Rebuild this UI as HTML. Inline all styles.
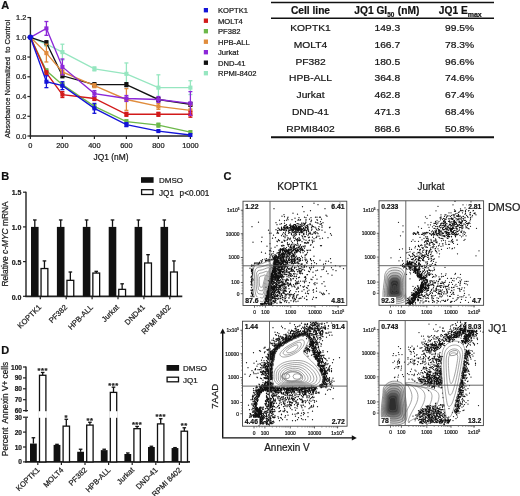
<!DOCTYPE html>
<html><head><meta charset="utf-8"><style>
html,body{margin:0;padding:0;background:#fff;width:520px;height:496px;overflow:hidden}
svg{display:block;filter:blur(0.35px)}
text{font-family:"Liberation Sans", sans-serif;stroke:#1a1a1a;stroke-width:0.22px}
</style></head><body>
<svg width="520" height="496" viewBox="0 0 520 496" font-family='"Liberation Sans", sans-serif'>
<text x="1.2" y="9.3" font-size="11" text-anchor="start" font-weight="bold" fill="#111" >A</text>
<line x1="30.4" y1="17.06" x2="30.4" y2="136.7" stroke="#222" stroke-width="1.4" />
<line x1="29.7" y1="136" x2="190.9" y2="136" stroke="#222" stroke-width="1.4" />
<line x1="27.4" y1="136" x2="30.4" y2="136" stroke="#222" stroke-width="1.2" />
<text x="26.4" y="138.6" font-size="7.4" text-anchor="end" font-weight="normal" fill="#1a1a1a" >0.0</text>
<line x1="27.4" y1="116.26" x2="30.4" y2="116.26" stroke="#222" stroke-width="1.2" />
<text x="26.4" y="118.86" font-size="7.4" text-anchor="end" font-weight="normal" fill="#1a1a1a" >0.2</text>
<line x1="27.4" y1="96.52" x2="30.4" y2="96.52" stroke="#222" stroke-width="1.2" />
<text x="26.4" y="99.12" font-size="7.4" text-anchor="end" font-weight="normal" fill="#1a1a1a" >0.4</text>
<line x1="27.4" y1="76.78" x2="30.4" y2="76.78" stroke="#222" stroke-width="1.2" />
<text x="26.4" y="79.38" font-size="7.4" text-anchor="end" font-weight="normal" fill="#1a1a1a" >0.6</text>
<line x1="27.4" y1="57.04" x2="30.4" y2="57.04" stroke="#222" stroke-width="1.2" />
<text x="26.4" y="59.64" font-size="7.4" text-anchor="end" font-weight="normal" fill="#1a1a1a" >0.8</text>
<line x1="27.4" y1="37.3" x2="30.4" y2="37.3" stroke="#222" stroke-width="1.2" />
<text x="26.4" y="39.9" font-size="7.4" text-anchor="end" font-weight="normal" fill="#1a1a1a" >1.0</text>
<line x1="27.4" y1="17.56" x2="30.4" y2="17.56" stroke="#222" stroke-width="1.2" />
<text x="26.4" y="20.16" font-size="7.4" text-anchor="end" font-weight="normal" fill="#1a1a1a" >1.2</text>
<line x1="30.4" y1="136" x2="30.4" y2="139" stroke="#222" stroke-width="1.2" />
<text x="30.4" y="148" font-size="7.4" text-anchor="middle" font-weight="normal" fill="#1a1a1a" >0</text>
<line x1="62.4" y1="136" x2="62.4" y2="139" stroke="#222" stroke-width="1.2" />
<text x="62.4" y="148" font-size="7.4" text-anchor="middle" font-weight="normal" fill="#1a1a1a" >200</text>
<line x1="94.4" y1="136" x2="94.4" y2="139" stroke="#222" stroke-width="1.2" />
<text x="94.4" y="148" font-size="7.4" text-anchor="middle" font-weight="normal" fill="#1a1a1a" >400</text>
<line x1="126.4" y1="136" x2="126.4" y2="139" stroke="#222" stroke-width="1.2" />
<text x="126.4" y="148" font-size="7.4" text-anchor="middle" font-weight="normal" fill="#1a1a1a" >600</text>
<line x1="158.4" y1="136" x2="158.4" y2="139" stroke="#222" stroke-width="1.2" />
<text x="158.4" y="148" font-size="7.4" text-anchor="middle" font-weight="normal" fill="#1a1a1a" >800</text>
<line x1="190.4" y1="136" x2="190.4" y2="139" stroke="#222" stroke-width="1.2" />
<text x="190.4" y="148" font-size="7.4" text-anchor="middle" font-weight="normal" fill="#1a1a1a" >1000</text>
<text x="111" y="159.6" font-size="8.4" text-anchor="middle" font-weight="normal" fill="#1a1a1a" >JQ1 (nM)</text>
<text transform="translate(10,79) rotate(-90)" font-size="7.6" text-anchor="middle" fill="#1a1a1a" xml:space="preserve">Absorbance Normalized  to Control</text>
<polyline points="30.4,37.3 46.4,44.21 62.4,52.11 94.4,68.88 126.4,73.82 158.4,87.64 190.4,87.64" fill="none" stroke="#96e6c0" stroke-width="1.35"/>
<line x1="46.4" y1="46.18" x2="46.4" y2="42.23" stroke="#96e6c0" stroke-width="1.3" />
<line x1="44.4" y1="42.23" x2="48.4" y2="42.23" stroke="#96e6c0" stroke-width="1.3" />
<line x1="44.4" y1="46.18" x2="48.4" y2="46.18" stroke="#96e6c0" stroke-width="1.3" />
<rect x="44.35" y="42.16" width="4.1" height="4.1" fill="#96e6c0" stroke="none" stroke-width="0" />
<line x1="62.4" y1="60" x2="62.4" y2="44.21" stroke="#96e6c0" stroke-width="1.3" />
<line x1="60.4" y1="44.21" x2="64.4" y2="44.21" stroke="#96e6c0" stroke-width="1.3" />
<line x1="60.4" y1="60" x2="64.4" y2="60" stroke="#96e6c0" stroke-width="1.3" />
<rect x="60.35" y="50.06" width="4.1" height="4.1" fill="#96e6c0" stroke="none" stroke-width="0" />
<line x1="94.4" y1="70.86" x2="94.4" y2="66.91" stroke="#96e6c0" stroke-width="1.3" />
<line x1="92.4" y1="66.91" x2="96.4" y2="66.91" stroke="#96e6c0" stroke-width="1.3" />
<line x1="92.4" y1="70.86" x2="96.4" y2="70.86" stroke="#96e6c0" stroke-width="1.3" />
<rect x="92.35" y="66.83" width="4.1" height="4.1" fill="#96e6c0" stroke="none" stroke-width="0" />
<line x1="126.4" y1="84.68" x2="126.4" y2="62.96" stroke="#96e6c0" stroke-width="1.3" />
<line x1="124.4" y1="62.96" x2="128.4" y2="62.96" stroke="#96e6c0" stroke-width="1.3" />
<line x1="124.4" y1="84.68" x2="128.4" y2="84.68" stroke="#96e6c0" stroke-width="1.3" />
<rect x="124.35" y="71.77" width="4.1" height="4.1" fill="#96e6c0" stroke="none" stroke-width="0" />
<line x1="158.4" y1="100.47" x2="158.4" y2="74.81" stroke="#96e6c0" stroke-width="1.3" />
<line x1="156.4" y1="74.81" x2="160.4" y2="74.81" stroke="#96e6c0" stroke-width="1.3" />
<line x1="156.4" y1="100.47" x2="160.4" y2="100.47" stroke="#96e6c0" stroke-width="1.3" />
<rect x="156.35" y="85.59" width="4.1" height="4.1" fill="#96e6c0" stroke="none" stroke-width="0" />
<line x1="190.4" y1="94.55" x2="190.4" y2="80.73" stroke="#96e6c0" stroke-width="1.3" />
<line x1="188.4" y1="80.73" x2="192.4" y2="80.73" stroke="#96e6c0" stroke-width="1.3" />
<line x1="188.4" y1="94.55" x2="192.4" y2="94.55" stroke="#96e6c0" stroke-width="1.3" />
<rect x="188.35" y="85.59" width="4.1" height="4.1" fill="#96e6c0" stroke="none" stroke-width="0" />
<polyline points="30.4,37.3 46.4,42.73 62.4,75.79 94.4,84.68 126.4,84.68 158.4,99.48 190.4,104.42" fill="none" stroke="#111111" stroke-width="1.35"/>
<line x1="46.4" y1="44.7" x2="46.4" y2="40.75" stroke="#111111" stroke-width="1.3" />
<line x1="44.4" y1="40.75" x2="48.4" y2="40.75" stroke="#111111" stroke-width="1.3" />
<line x1="44.4" y1="44.7" x2="48.4" y2="44.7" stroke="#111111" stroke-width="1.3" />
<rect x="44.35" y="40.68" width="4.1" height="4.1" fill="#111111" stroke="none" stroke-width="0" />
<line x1="62.4" y1="77.77" x2="62.4" y2="73.82" stroke="#111111" stroke-width="1.3" />
<line x1="60.4" y1="73.82" x2="64.4" y2="73.82" stroke="#111111" stroke-width="1.3" />
<line x1="60.4" y1="77.77" x2="64.4" y2="77.77" stroke="#111111" stroke-width="1.3" />
<rect x="60.35" y="73.74" width="4.1" height="4.1" fill="#111111" stroke="none" stroke-width="0" />
<line x1="94.4" y1="86.65" x2="94.4" y2="82.7" stroke="#111111" stroke-width="1.3" />
<line x1="92.4" y1="82.7" x2="96.4" y2="82.7" stroke="#111111" stroke-width="1.3" />
<line x1="92.4" y1="86.65" x2="96.4" y2="86.65" stroke="#111111" stroke-width="1.3" />
<rect x="92.35" y="82.63" width="4.1" height="4.1" fill="#111111" stroke="none" stroke-width="0" />
<line x1="126.4" y1="86.65" x2="126.4" y2="82.7" stroke="#111111" stroke-width="1.3" />
<line x1="124.4" y1="82.7" x2="128.4" y2="82.7" stroke="#111111" stroke-width="1.3" />
<line x1="124.4" y1="86.65" x2="128.4" y2="86.65" stroke="#111111" stroke-width="1.3" />
<rect x="124.35" y="82.63" width="4.1" height="4.1" fill="#111111" stroke="none" stroke-width="0" />
<line x1="158.4" y1="101.45" x2="158.4" y2="97.51" stroke="#111111" stroke-width="1.3" />
<line x1="156.4" y1="97.51" x2="160.4" y2="97.51" stroke="#111111" stroke-width="1.3" />
<line x1="156.4" y1="101.45" x2="160.4" y2="101.45" stroke="#111111" stroke-width="1.3" />
<rect x="156.35" y="97.43" width="4.1" height="4.1" fill="#111111" stroke="none" stroke-width="0" />
<line x1="190.4" y1="106.39" x2="190.4" y2="102.44" stroke="#111111" stroke-width="1.3" />
<line x1="188.4" y1="102.44" x2="192.4" y2="102.44" stroke="#111111" stroke-width="1.3" />
<line x1="188.4" y1="106.39" x2="192.4" y2="106.39" stroke="#111111" stroke-width="1.3" />
<rect x="188.35" y="102.37" width="4.1" height="4.1" fill="#111111" stroke="none" stroke-width="0" />
<polyline points="30.4,37.3 46.4,53.09 62.4,71.84 94.4,85.66 126.4,99.48 158.4,106.39 190.4,110.34" fill="none" stroke="#e08c3c" stroke-width="1.35"/>
<line x1="46.4" y1="61.97" x2="46.4" y2="44.21" stroke="#e08c3c" stroke-width="1.3" />
<line x1="44.4" y1="44.21" x2="48.4" y2="44.21" stroke="#e08c3c" stroke-width="1.3" />
<line x1="44.4" y1="61.97" x2="48.4" y2="61.97" stroke="#e08c3c" stroke-width="1.3" />
<rect x="44.35" y="51.04" width="4.1" height="4.1" fill="#e08c3c" stroke="none" stroke-width="0" />
<line x1="62.4" y1="74.81" x2="62.4" y2="68.88" stroke="#e08c3c" stroke-width="1.3" />
<line x1="60.4" y1="68.88" x2="64.4" y2="68.88" stroke="#e08c3c" stroke-width="1.3" />
<line x1="60.4" y1="74.81" x2="64.4" y2="74.81" stroke="#e08c3c" stroke-width="1.3" />
<rect x="60.35" y="69.8" width="4.1" height="4.1" fill="#e08c3c" stroke="none" stroke-width="0" />
<line x1="94.4" y1="87.64" x2="94.4" y2="83.69" stroke="#e08c3c" stroke-width="1.3" />
<line x1="92.4" y1="83.69" x2="96.4" y2="83.69" stroke="#e08c3c" stroke-width="1.3" />
<line x1="92.4" y1="87.64" x2="96.4" y2="87.64" stroke="#e08c3c" stroke-width="1.3" />
<rect x="92.35" y="83.61" width="4.1" height="4.1" fill="#e08c3c" stroke="none" stroke-width="0" />
<line x1="126.4" y1="110.34" x2="126.4" y2="88.62" stroke="#e08c3c" stroke-width="1.3" />
<line x1="124.4" y1="88.62" x2="128.4" y2="88.62" stroke="#e08c3c" stroke-width="1.3" />
<line x1="124.4" y1="110.34" x2="128.4" y2="110.34" stroke="#e08c3c" stroke-width="1.3" />
<rect x="124.35" y="97.43" width="4.1" height="4.1" fill="#e08c3c" stroke="none" stroke-width="0" />
<line x1="158.4" y1="109.35" x2="158.4" y2="103.43" stroke="#e08c3c" stroke-width="1.3" />
<line x1="156.4" y1="103.43" x2="160.4" y2="103.43" stroke="#e08c3c" stroke-width="1.3" />
<line x1="156.4" y1="109.35" x2="160.4" y2="109.35" stroke="#e08c3c" stroke-width="1.3" />
<rect x="156.35" y="104.34" width="4.1" height="4.1" fill="#e08c3c" stroke="none" stroke-width="0" />
<line x1="190.4" y1="115.27" x2="190.4" y2="105.4" stroke="#e08c3c" stroke-width="1.3" />
<line x1="188.4" y1="105.4" x2="192.4" y2="105.4" stroke="#e08c3c" stroke-width="1.3" />
<line x1="188.4" y1="115.27" x2="192.4" y2="115.27" stroke="#e08c3c" stroke-width="1.3" />
<rect x="188.35" y="108.29" width="4.1" height="4.1" fill="#e08c3c" stroke="none" stroke-width="0" />
<polyline points="30.4,37.3 46.4,70.86 62.4,84.68 94.4,106.39 126.4,121.69 158.4,125.14 190.4,132.05" fill="none" stroke="#6cb84a" stroke-width="1.35"/>
<line x1="46.4" y1="72.83" x2="46.4" y2="68.88" stroke="#6cb84a" stroke-width="1.3" />
<line x1="44.4" y1="68.88" x2="48.4" y2="68.88" stroke="#6cb84a" stroke-width="1.3" />
<line x1="44.4" y1="72.83" x2="48.4" y2="72.83" stroke="#6cb84a" stroke-width="1.3" />
<rect x="44.35" y="68.81" width="4.1" height="4.1" fill="#6cb84a" stroke="none" stroke-width="0" />
<line x1="62.4" y1="86.65" x2="62.4" y2="82.7" stroke="#6cb84a" stroke-width="1.3" />
<line x1="60.4" y1="82.7" x2="64.4" y2="82.7" stroke="#6cb84a" stroke-width="1.3" />
<line x1="60.4" y1="86.65" x2="64.4" y2="86.65" stroke="#6cb84a" stroke-width="1.3" />
<rect x="60.35" y="82.63" width="4.1" height="4.1" fill="#6cb84a" stroke="none" stroke-width="0" />
<line x1="94.4" y1="108.36" x2="94.4" y2="104.42" stroke="#6cb84a" stroke-width="1.3" />
<line x1="92.4" y1="104.42" x2="96.4" y2="104.42" stroke="#6cb84a" stroke-width="1.3" />
<line x1="92.4" y1="108.36" x2="96.4" y2="108.36" stroke="#6cb84a" stroke-width="1.3" />
<rect x="92.35" y="104.34" width="4.1" height="4.1" fill="#6cb84a" stroke="none" stroke-width="0" />
<line x1="126.4" y1="123.66" x2="126.4" y2="119.71" stroke="#6cb84a" stroke-width="1.3" />
<line x1="124.4" y1="119.71" x2="128.4" y2="119.71" stroke="#6cb84a" stroke-width="1.3" />
<line x1="124.4" y1="123.66" x2="128.4" y2="123.66" stroke="#6cb84a" stroke-width="1.3" />
<rect x="124.35" y="119.64" width="4.1" height="4.1" fill="#6cb84a" stroke="none" stroke-width="0" />
<line x1="158.4" y1="127.12" x2="158.4" y2="123.17" stroke="#6cb84a" stroke-width="1.3" />
<line x1="156.4" y1="123.17" x2="160.4" y2="123.17" stroke="#6cb84a" stroke-width="1.3" />
<line x1="156.4" y1="127.12" x2="160.4" y2="127.12" stroke="#6cb84a" stroke-width="1.3" />
<rect x="156.35" y="123.09" width="4.1" height="4.1" fill="#6cb84a" stroke="none" stroke-width="0" />
<rect x="188.35" y="130" width="4.1" height="4.1" fill="#6cb84a" stroke="none" stroke-width="0" />
<polyline points="30.4,37.3 46.4,72.83 62.4,94.55 94.4,98.49 126.4,114.29 158.4,114.29 190.4,114.29" fill="none" stroke="#d21a1a" stroke-width="1.35"/>
<line x1="46.4" y1="74.81" x2="46.4" y2="70.86" stroke="#d21a1a" stroke-width="1.3" />
<line x1="44.4" y1="70.86" x2="48.4" y2="70.86" stroke="#d21a1a" stroke-width="1.3" />
<line x1="44.4" y1="74.81" x2="48.4" y2="74.81" stroke="#d21a1a" stroke-width="1.3" />
<rect x="44.35" y="70.78" width="4.1" height="4.1" fill="#d21a1a" stroke="none" stroke-width="0" />
<line x1="62.4" y1="97.51" x2="62.4" y2="91.59" stroke="#d21a1a" stroke-width="1.3" />
<line x1="60.4" y1="91.59" x2="64.4" y2="91.59" stroke="#d21a1a" stroke-width="1.3" />
<line x1="60.4" y1="97.51" x2="64.4" y2="97.51" stroke="#d21a1a" stroke-width="1.3" />
<rect x="60.35" y="92.5" width="4.1" height="4.1" fill="#d21a1a" stroke="none" stroke-width="0" />
<line x1="94.4" y1="100.47" x2="94.4" y2="96.52" stroke="#d21a1a" stroke-width="1.3" />
<line x1="92.4" y1="96.52" x2="96.4" y2="96.52" stroke="#d21a1a" stroke-width="1.3" />
<line x1="92.4" y1="100.47" x2="96.4" y2="100.47" stroke="#d21a1a" stroke-width="1.3" />
<rect x="92.35" y="96.44" width="4.1" height="4.1" fill="#d21a1a" stroke="none" stroke-width="0" />
<line x1="126.4" y1="116.26" x2="126.4" y2="112.31" stroke="#d21a1a" stroke-width="1.3" />
<line x1="124.4" y1="112.31" x2="128.4" y2="112.31" stroke="#d21a1a" stroke-width="1.3" />
<line x1="124.4" y1="116.26" x2="128.4" y2="116.26" stroke="#d21a1a" stroke-width="1.3" />
<rect x="124.35" y="112.24" width="4.1" height="4.1" fill="#d21a1a" stroke="none" stroke-width="0" />
<line x1="158.4" y1="116.26" x2="158.4" y2="112.31" stroke="#d21a1a" stroke-width="1.3" />
<line x1="156.4" y1="112.31" x2="160.4" y2="112.31" stroke="#d21a1a" stroke-width="1.3" />
<line x1="156.4" y1="116.26" x2="160.4" y2="116.26" stroke="#d21a1a" stroke-width="1.3" />
<rect x="156.35" y="112.24" width="4.1" height="4.1" fill="#d21a1a" stroke="none" stroke-width="0" />
<line x1="190.4" y1="117.25" x2="190.4" y2="111.33" stroke="#d21a1a" stroke-width="1.3" />
<line x1="188.4" y1="111.33" x2="192.4" y2="111.33" stroke="#d21a1a" stroke-width="1.3" />
<line x1="188.4" y1="117.25" x2="192.4" y2="117.25" stroke="#d21a1a" stroke-width="1.3" />
<rect x="188.35" y="112.24" width="4.1" height="4.1" fill="#d21a1a" stroke="none" stroke-width="0" />
<polyline points="30.4,37.3 46.4,28.42 62.4,66.91 94.4,93.56 126.4,98.49 158.4,99.48 190.4,103.43" fill="none" stroke="#8c28d8" stroke-width="1.35"/>
<line x1="46.4" y1="35.33" x2="46.4" y2="21.51" stroke="#8c28d8" stroke-width="1.3" />
<line x1="44.4" y1="21.51" x2="48.4" y2="21.51" stroke="#8c28d8" stroke-width="1.3" />
<line x1="44.4" y1="35.33" x2="48.4" y2="35.33" stroke="#8c28d8" stroke-width="1.3" />
<rect x="44.35" y="26.37" width="4.1" height="4.1" fill="#8c28d8" stroke="none" stroke-width="0" />
<line x1="62.4" y1="74.81" x2="62.4" y2="59.01" stroke="#8c28d8" stroke-width="1.3" />
<line x1="60.4" y1="59.01" x2="64.4" y2="59.01" stroke="#8c28d8" stroke-width="1.3" />
<line x1="60.4" y1="74.81" x2="64.4" y2="74.81" stroke="#8c28d8" stroke-width="1.3" />
<rect x="60.35" y="64.86" width="4.1" height="4.1" fill="#8c28d8" stroke="none" stroke-width="0" />
<line x1="94.4" y1="96.52" x2="94.4" y2="90.6" stroke="#8c28d8" stroke-width="1.3" />
<line x1="92.4" y1="90.6" x2="96.4" y2="90.6" stroke="#8c28d8" stroke-width="1.3" />
<line x1="92.4" y1="96.52" x2="96.4" y2="96.52" stroke="#8c28d8" stroke-width="1.3" />
<rect x="92.35" y="91.51" width="4.1" height="4.1" fill="#8c28d8" stroke="none" stroke-width="0" />
<line x1="126.4" y1="101.45" x2="126.4" y2="95.53" stroke="#8c28d8" stroke-width="1.3" />
<line x1="124.4" y1="95.53" x2="128.4" y2="95.53" stroke="#8c28d8" stroke-width="1.3" />
<line x1="124.4" y1="101.45" x2="128.4" y2="101.45" stroke="#8c28d8" stroke-width="1.3" />
<rect x="124.35" y="96.44" width="4.1" height="4.1" fill="#8c28d8" stroke="none" stroke-width="0" />
<line x1="158.4" y1="102.44" x2="158.4" y2="96.52" stroke="#8c28d8" stroke-width="1.3" />
<line x1="156.4" y1="96.52" x2="160.4" y2="96.52" stroke="#8c28d8" stroke-width="1.3" />
<line x1="156.4" y1="102.44" x2="160.4" y2="102.44" stroke="#8c28d8" stroke-width="1.3" />
<rect x="156.35" y="97.43" width="4.1" height="4.1" fill="#8c28d8" stroke="none" stroke-width="0" />
<line x1="190.4" y1="115.27" x2="190.4" y2="91.59" stroke="#8c28d8" stroke-width="1.3" />
<line x1="188.4" y1="91.59" x2="192.4" y2="91.59" stroke="#8c28d8" stroke-width="1.3" />
<line x1="188.4" y1="115.27" x2="192.4" y2="115.27" stroke="#8c28d8" stroke-width="1.3" />
<rect x="188.35" y="101.38" width="4.1" height="4.1" fill="#8c28d8" stroke="none" stroke-width="0" />
<polyline points="30.4,37.3 46.4,81.72 62.4,85.66 94.4,108.36 126.4,124.65 158.4,131.06 190.4,135.01" fill="none" stroke="#1414d8" stroke-width="1.35"/>
<line x1="46.4" y1="87.64" x2="46.4" y2="75.79" stroke="#1414d8" stroke-width="1.3" />
<line x1="44.4" y1="75.79" x2="48.4" y2="75.79" stroke="#1414d8" stroke-width="1.3" />
<line x1="44.4" y1="87.64" x2="48.4" y2="87.64" stroke="#1414d8" stroke-width="1.3" />
<rect x="44.35" y="79.67" width="4.1" height="4.1" fill="#1414d8" stroke="none" stroke-width="0" />
<line x1="62.4" y1="89.61" x2="62.4" y2="81.72" stroke="#1414d8" stroke-width="1.3" />
<line x1="60.4" y1="81.72" x2="64.4" y2="81.72" stroke="#1414d8" stroke-width="1.3" />
<line x1="60.4" y1="89.61" x2="64.4" y2="89.61" stroke="#1414d8" stroke-width="1.3" />
<rect x="60.35" y="83.61" width="4.1" height="4.1" fill="#1414d8" stroke="none" stroke-width="0" />
<line x1="94.4" y1="113.3" x2="94.4" y2="103.43" stroke="#1414d8" stroke-width="1.3" />
<line x1="92.4" y1="103.43" x2="96.4" y2="103.43" stroke="#1414d8" stroke-width="1.3" />
<line x1="92.4" y1="113.3" x2="96.4" y2="113.3" stroke="#1414d8" stroke-width="1.3" />
<rect x="92.35" y="106.31" width="4.1" height="4.1" fill="#1414d8" stroke="none" stroke-width="0" />
<line x1="126.4" y1="126.62" x2="126.4" y2="122.68" stroke="#1414d8" stroke-width="1.3" />
<line x1="124.4" y1="122.68" x2="128.4" y2="122.68" stroke="#1414d8" stroke-width="1.3" />
<line x1="124.4" y1="126.62" x2="128.4" y2="126.62" stroke="#1414d8" stroke-width="1.3" />
<rect x="124.35" y="122.6" width="4.1" height="4.1" fill="#1414d8" stroke="none" stroke-width="0" />
<rect x="156.35" y="129.01" width="4.1" height="4.1" fill="#1414d8" stroke="none" stroke-width="0" />
<rect x="188.35" y="132.96" width="4.1" height="4.1" fill="#1414d8" stroke="none" stroke-width="0" />
<circle cx="30.4" cy="37.3" r="2.8" fill="#1414d8"/>
<rect x="203.8" y="8" width="4.2" height="4.4" fill="#1414d8" stroke="none" stroke-width="0" />
<text x="218" y="13" font-size="7.6" text-anchor="start" font-weight="normal" fill="#1a1a1a" >KOPTK1</text>
<rect x="203.8" y="18.5" width="4.2" height="4.4" fill="#d21a1a" stroke="none" stroke-width="0" />
<text x="218" y="23.5" font-size="7.6" text-anchor="start" font-weight="normal" fill="#1a1a1a" >MOLT4</text>
<rect x="203.8" y="29" width="4.2" height="4.4" fill="#6cb84a" stroke="none" stroke-width="0" />
<text x="218" y="34" font-size="7.6" text-anchor="start" font-weight="normal" fill="#1a1a1a" >PF382</text>
<rect x="203.8" y="39.5" width="4.2" height="4.4" fill="#e08c3c" stroke="none" stroke-width="0" />
<text x="218" y="44.5" font-size="7.6" text-anchor="start" font-weight="normal" fill="#1a1a1a" >HPB-ALL</text>
<rect x="203.8" y="50" width="4.2" height="4.4" fill="#8c28d8" stroke="none" stroke-width="0" />
<text x="218" y="55" font-size="7.6" text-anchor="start" font-weight="normal" fill="#1a1a1a" >Jurkat</text>
<rect x="203.8" y="60.5" width="4.2" height="4.4" fill="#111111" stroke="none" stroke-width="0" />
<text x="218" y="65.5" font-size="7.6" text-anchor="start" font-weight="normal" fill="#1a1a1a" >DND-41</text>
<rect x="203.8" y="71" width="4.2" height="4.4" fill="#96e6c0" stroke="none" stroke-width="0" />
<text x="218" y="76" font-size="7.6" text-anchor="start" font-weight="normal" fill="#1a1a1a" >RPMI-8402</text>
<line x1="271" y1="2.6" x2="494" y2="2.6" stroke="#111" stroke-width="1.5" />
<line x1="271" y1="18.2" x2="494" y2="18.2" stroke="#111" stroke-width="1.5" />
<line x1="271" y1="137.2" x2="494" y2="137.2" stroke="#111" stroke-width="2" />
<text x="310.5" y="14.3" font-size="10.2" text-anchor="middle" font-weight="bold" fill="#111" >Cell line</text>
<text x="354.3" y="14.3" font-size="10.2" font-weight="bold" fill="#111">JQ1 GI<tspan font-size="6.4" dy="2.2">50</tspan><tspan dy="-2.2" dx="3.6">(nM)</tspan></text>
<text x="438.8" y="14.3" font-size="10.2" font-weight="bold" fill="#111">JQ1 E<tspan font-size="7" dy="2.4">max</tspan></text>
<text transform="translate(310.5,30.6) scale(1.06,1)" font-size="9.7" text-anchor="middle" font-weight="normal" fill="#111" >KOPTK1</text>
<text transform="translate(387.3,30.6) scale(1.06,1)" font-size="9.7" text-anchor="middle" font-weight="normal" fill="#111" >149.3</text>
<text transform="translate(459.6,30.6) scale(1.06,1)" font-size="9.7" text-anchor="middle" font-weight="normal" fill="#111" >99.5%</text>
<text transform="translate(310.5,47.55) scale(1.06,1)" font-size="9.7" text-anchor="middle" font-weight="normal" fill="#111" >MOLT4</text>
<text transform="translate(387.3,47.55) scale(1.06,1)" font-size="9.7" text-anchor="middle" font-weight="normal" fill="#111" >166.7</text>
<text transform="translate(459.6,47.55) scale(1.06,1)" font-size="9.7" text-anchor="middle" font-weight="normal" fill="#111" >78.3%</text>
<text transform="translate(310.5,64.5) scale(1.06,1)" font-size="9.7" text-anchor="middle" font-weight="normal" fill="#111" >PF382</text>
<text transform="translate(387.3,64.5) scale(1.06,1)" font-size="9.7" text-anchor="middle" font-weight="normal" fill="#111" >180.5</text>
<text transform="translate(459.6,64.5) scale(1.06,1)" font-size="9.7" text-anchor="middle" font-weight="normal" fill="#111" >96.6%</text>
<text transform="translate(310.5,81.45) scale(1.06,1)" font-size="9.7" text-anchor="middle" font-weight="normal" fill="#111" >HPB-ALL</text>
<text transform="translate(387.3,81.45) scale(1.06,1)" font-size="9.7" text-anchor="middle" font-weight="normal" fill="#111" >364.8</text>
<text transform="translate(459.6,81.45) scale(1.06,1)" font-size="9.7" text-anchor="middle" font-weight="normal" fill="#111" >74.6%</text>
<text transform="translate(310.5,98.4) scale(1.06,1)" font-size="9.7" text-anchor="middle" font-weight="normal" fill="#111" >Jurkat</text>
<text transform="translate(387.3,98.4) scale(1.06,1)" font-size="9.7" text-anchor="middle" font-weight="normal" fill="#111" >462.8</text>
<text transform="translate(459.6,98.4) scale(1.06,1)" font-size="9.7" text-anchor="middle" font-weight="normal" fill="#111" >67.4%</text>
<text transform="translate(310.5,115.35) scale(1.06,1)" font-size="9.7" text-anchor="middle" font-weight="normal" fill="#111" >DND-41</text>
<text transform="translate(387.3,115.35) scale(1.06,1)" font-size="9.7" text-anchor="middle" font-weight="normal" fill="#111" >471.3</text>
<text transform="translate(459.6,115.35) scale(1.06,1)" font-size="9.7" text-anchor="middle" font-weight="normal" fill="#111" >68.4%</text>
<text transform="translate(310.5,132.3) scale(1.06,1)" font-size="9.7" text-anchor="middle" font-weight="normal" fill="#111" >RPMI8402</text>
<text transform="translate(387.3,132.3) scale(1.06,1)" font-size="9.7" text-anchor="middle" font-weight="normal" fill="#111" >868.6</text>
<text transform="translate(459.6,132.3) scale(1.06,1)" font-size="9.7" text-anchor="middle" font-weight="normal" fill="#111" >50.8%</text>
<text x="1.2" y="180.2" font-size="11" text-anchor="start" font-weight="bold" fill="#111" >B</text>
<line x1="26" y1="191.7" x2="26" y2="297" stroke="#222" stroke-width="1.4" />
<line x1="25.3" y1="296.3" x2="182.3" y2="296.3" stroke="#222" stroke-width="1.8" />
<line x1="23" y1="296.3" x2="26" y2="296.3" stroke="#222" stroke-width="1.2" />
<text x="21.4" y="299.5" font-size="7.0" text-anchor="end" font-weight="bold" fill="#1a1a1a" >0.0</text>
<line x1="23" y1="261.6" x2="26" y2="261.6" stroke="#222" stroke-width="1.2" />
<text x="21.4" y="264.8" font-size="7.0" text-anchor="end" font-weight="bold" fill="#1a1a1a" >0.5</text>
<line x1="23" y1="226.9" x2="26" y2="226.9" stroke="#222" stroke-width="1.2" />
<text x="21.4" y="230.1" font-size="7.0" text-anchor="end" font-weight="bold" fill="#1a1a1a" >1.0</text>
<line x1="23" y1="192.2" x2="26" y2="192.2" stroke="#222" stroke-width="1.2" />
<text x="21.4" y="195.4" font-size="7.0" text-anchor="end" font-weight="bold" fill="#1a1a1a" >1.5</text>
<text transform="translate(8.3,244) rotate(-90)" font-size="8.4" text-anchor="middle" fill="#1a1a1a">Relative <tspan font-style="italic">c-MYC</tspan> mRNA</text>
<line x1="34.8" y1="219.96" x2="34.8" y2="226.9" stroke="#111" stroke-width="1.3" />
<line x1="33" y1="219.96" x2="36.6" y2="219.96" stroke="#111" stroke-width="1.3" />
<rect x="31" y="226.9" width="7.6" height="69.4" fill="#111" stroke="none" stroke-width="0" />
<line x1="44.45" y1="260.91" x2="44.45" y2="268.54" stroke="#111" stroke-width="1.3" />
<line x1="42.65" y1="260.91" x2="46.25" y2="260.91" stroke="#111" stroke-width="1.3" />
<rect x="41.05" y="268.54" width="6.8" height="27.76" fill="#fff" stroke="#111" stroke-width="1.3" />
<line x1="40.3" y1="296.3" x2="40.3" y2="299.3" stroke="#222" stroke-width="1.2" />
<text transform="translate(41.8,307.8) rotate(-45)" font-size="7.6" text-anchor="end" fill="#1a1a1a">KOPTK1</text>
<line x1="60.7" y1="219.96" x2="60.7" y2="226.9" stroke="#111" stroke-width="1.3" />
<line x1="58.9" y1="219.96" x2="62.5" y2="219.96" stroke="#111" stroke-width="1.3" />
<rect x="56.9" y="226.9" width="7.6" height="69.4" fill="#111" stroke="none" stroke-width="0" />
<line x1="70.35" y1="272.01" x2="70.35" y2="280.34" stroke="#111" stroke-width="1.3" />
<line x1="68.55" y1="272.01" x2="72.15" y2="272.01" stroke="#111" stroke-width="1.3" />
<rect x="66.95" y="280.34" width="6.8" height="15.96" fill="#fff" stroke="#111" stroke-width="1.3" />
<line x1="66.2" y1="296.3" x2="66.2" y2="299.3" stroke="#222" stroke-width="1.2" />
<text transform="translate(67.7,307.8) rotate(-45)" font-size="7.6" text-anchor="end" fill="#1a1a1a">PF382</text>
<line x1="86.6" y1="219.96" x2="86.6" y2="226.9" stroke="#111" stroke-width="1.3" />
<line x1="84.8" y1="219.96" x2="88.4" y2="219.96" stroke="#111" stroke-width="1.3" />
<rect x="82.8" y="226.9" width="7.6" height="69.4" fill="#111" stroke="none" stroke-width="0" />
<line x1="96.25" y1="271.32" x2="96.25" y2="273.05" stroke="#111" stroke-width="1.3" />
<line x1="94.45" y1="271.32" x2="98.05" y2="271.32" stroke="#111" stroke-width="1.3" />
<rect x="92.85" y="273.05" width="6.8" height="23.25" fill="#fff" stroke="#111" stroke-width="1.3" />
<line x1="92.1" y1="296.3" x2="92.1" y2="299.3" stroke="#222" stroke-width="1.2" />
<text transform="translate(93.6,307.8) rotate(-45)" font-size="7.6" text-anchor="end" fill="#1a1a1a">HPB-ALL</text>
<line x1="112.5" y1="219.96" x2="112.5" y2="226.9" stroke="#111" stroke-width="1.3" />
<line x1="110.7" y1="219.96" x2="114.3" y2="219.96" stroke="#111" stroke-width="1.3" />
<rect x="108.7" y="226.9" width="7.6" height="69.4" fill="#111" stroke="none" stroke-width="0" />
<line x1="122.15" y1="283.81" x2="122.15" y2="289.36" stroke="#111" stroke-width="1.3" />
<line x1="120.35" y1="283.81" x2="123.95" y2="283.81" stroke="#111" stroke-width="1.3" />
<rect x="118.75" y="289.36" width="6.8" height="6.94" fill="#fff" stroke="#111" stroke-width="1.3" />
<line x1="118" y1="296.3" x2="118" y2="299.3" stroke="#222" stroke-width="1.2" />
<text transform="translate(119.5,307.8) rotate(-45)" font-size="7.6" text-anchor="end" fill="#1a1a1a">Jurkat</text>
<line x1="138.4" y1="219.96" x2="138.4" y2="226.9" stroke="#111" stroke-width="1.3" />
<line x1="136.6" y1="219.96" x2="140.2" y2="219.96" stroke="#111" stroke-width="1.3" />
<rect x="134.6" y="226.9" width="7.6" height="69.4" fill="#111" stroke="none" stroke-width="0" />
<line x1="148.05" y1="254.66" x2="148.05" y2="262.99" stroke="#111" stroke-width="1.3" />
<line x1="146.25" y1="254.66" x2="149.85" y2="254.66" stroke="#111" stroke-width="1.3" />
<rect x="144.65" y="262.99" width="6.8" height="33.31" fill="#fff" stroke="#111" stroke-width="1.3" />
<line x1="143.9" y1="296.3" x2="143.9" y2="299.3" stroke="#222" stroke-width="1.2" />
<text transform="translate(145.4,307.8) rotate(-45)" font-size="7.6" text-anchor="end" fill="#1a1a1a">DND41</text>
<line x1="164.3" y1="219.96" x2="164.3" y2="226.9" stroke="#111" stroke-width="1.3" />
<line x1="162.5" y1="219.96" x2="166.1" y2="219.96" stroke="#111" stroke-width="1.3" />
<rect x="160.5" y="226.9" width="7.6" height="69.4" fill="#111" stroke="none" stroke-width="0" />
<line x1="173.95" y1="260.91" x2="173.95" y2="272.01" stroke="#111" stroke-width="1.3" />
<line x1="172.15" y1="260.91" x2="175.75" y2="260.91" stroke="#111" stroke-width="1.3" />
<rect x="170.55" y="272.01" width="6.8" height="24.29" fill="#fff" stroke="#111" stroke-width="1.3" />
<line x1="169.8" y1="296.3" x2="169.8" y2="299.3" stroke="#222" stroke-width="1.2" />
<text transform="translate(171.3,307.8) rotate(-45)" font-size="7.6" text-anchor="end" fill="#1a1a1a">RPMI 8402</text>
<rect x="141" y="177.2" width="12.6" height="5.6" fill="#111" stroke="none" stroke-width="0" />
<text x="159" y="183.2" font-size="8" text-anchor="start" font-weight="normal" fill="#1a1a1a" >DMSO</text>
<rect x="141.6" y="189.7" width="11.4" height="4.8" fill="#fff" stroke="#111" stroke-width="1.3" />
<text x="159" y="195.6" font-size="8.2" text-anchor="start" font-weight="normal" fill="#1a1a1a" >JQ1</text>
<text x="179.6" y="195.6" font-size="8.2" text-anchor="start" font-weight="normal" fill="#1a1a1a" >p&lt;0.001</text>
<text x="1.2" y="354.4" font-size="11" text-anchor="start" font-weight="bold" fill="#111" >D</text>
<line x1="26" y1="366.5" x2="26" y2="411.8" stroke="#222" stroke-width="1.4" />
<line x1="26" y1="417.4" x2="26" y2="462.6" stroke="#222" stroke-width="1.4" />
<line x1="25.3" y1="461.9" x2="190" y2="461.9" stroke="#222" stroke-width="1.8" />
<line x1="23" y1="367" x2="26" y2="367" stroke="#222" stroke-width="1.2" />
<text x="22" y="369.5" font-size="6.6" text-anchor="end" font-weight="bold" fill="#1a1a1a" >100</text>
<line x1="23" y1="377.9" x2="26" y2="377.9" stroke="#222" stroke-width="1.2" />
<text x="22" y="380.4" font-size="6.6" text-anchor="end" font-weight="bold" fill="#1a1a1a" >90</text>
<line x1="23" y1="388.8" x2="26" y2="388.8" stroke="#222" stroke-width="1.2" />
<text x="22" y="391.3" font-size="6.6" text-anchor="end" font-weight="bold" fill="#1a1a1a" >80</text>
<line x1="23" y1="399.7" x2="26" y2="399.7" stroke="#222" stroke-width="1.2" />
<text x="22" y="402.2" font-size="6.6" text-anchor="end" font-weight="bold" fill="#1a1a1a" >70</text>
<line x1="23" y1="410.6" x2="28" y2="410.6" stroke="#222" stroke-width="1.2" />
<text x="22" y="413.1" font-size="6.6" text-anchor="end" font-weight="bold" fill="#1a1a1a" >60</text>
<line x1="23" y1="417.2" x2="28" y2="417.2" stroke="#222" stroke-width="1.2" />
<text x="22" y="419.7" font-size="6.6" text-anchor="end" font-weight="bold" fill="#1a1a1a" >30</text>
<line x1="23" y1="432.1" x2="26" y2="432.1" stroke="#222" stroke-width="1.2" />
<text x="22" y="434.6" font-size="6.6" text-anchor="end" font-weight="bold" fill="#1a1a1a" >20</text>
<line x1="23" y1="447" x2="26" y2="447" stroke="#222" stroke-width="1.2" />
<text x="22" y="449.5" font-size="6.6" text-anchor="end" font-weight="bold" fill="#1a1a1a" >10</text>
<line x1="23" y1="461.9" x2="26" y2="461.9" stroke="#222" stroke-width="1.2" />
<text x="22" y="464.4" font-size="6.6" text-anchor="end" font-weight="bold" fill="#1a1a1a" >0</text>
<text transform="translate(8,409) rotate(-90)" font-size="8.3" text-anchor="middle" fill="#1a1a1a" xml:space="preserve">Percent  Annexin V+ cells</text>
<line x1="33.4" y1="437.76" x2="33.4" y2="443.57" stroke="#111" stroke-width="1.3" />
<line x1="31.6" y1="437.76" x2="35.2" y2="437.76" stroke="#111" stroke-width="1.3" />
<rect x="30" y="443.57" width="6.8" height="18.33" fill="#111" stroke="none" stroke-width="0" />
<line x1="42.7" y1="372.45" x2="42.7" y2="375.28" stroke="#111" stroke-width="1.3" />
<line x1="40.9" y1="372.45" x2="44.5" y2="372.45" stroke="#111" stroke-width="1.3" />
<rect x="39.5" y="375.28" width="6.4" height="86.62" fill="#fff" stroke="#111" stroke-width="1.3" />
<rect x="38.5" y="411.2" width="8.4" height="6.6" fill="#fff" stroke="none" stroke-width="0" />
<text x="42.7" y="373.05" font-size="7.6" text-anchor="middle" font-weight="bold" fill="#1a1a1a" letter-spacing="0.5">***</text>
<line x1="37.8" y1="461.9" x2="37.8" y2="464.9" stroke="#222" stroke-width="1.2" />
<text transform="translate(40.3,470.4) rotate(-45)" font-size="7.6" text-anchor="end" fill="#1a1a1a">KOPTK1</text>
<line x1="57" y1="444.32" x2="57" y2="444.91" stroke="#111" stroke-width="1.3" />
<line x1="55.2" y1="444.32" x2="58.8" y2="444.32" stroke="#111" stroke-width="1.3" />
<rect x="53.6" y="444.91" width="6.8" height="16.99" fill="#111" stroke="none" stroke-width="0" />
<line x1="66.3" y1="419.29" x2="66.3" y2="426.14" stroke="#111" stroke-width="1.3" />
<line x1="64.5" y1="419.29" x2="68.1" y2="419.29" stroke="#111" stroke-width="1.3" />
<rect x="63.1" y="426.14" width="6.4" height="35.76" fill="#fff" stroke="#111" stroke-width="1.3" />
<text x="66.3" y="419.89" font-size="7.6" text-anchor="middle" font-weight="bold" fill="#1a1a1a" letter-spacing="0.5">*</text>
<line x1="61.4" y1="461.9" x2="61.4" y2="464.9" stroke="#222" stroke-width="1.2" />
<text transform="translate(63.9,470.4) rotate(-45)" font-size="7.6" text-anchor="end" fill="#1a1a1a">MOLT4</text>
<line x1="80.6" y1="449.23" x2="80.6" y2="451.77" stroke="#111" stroke-width="1.3" />
<line x1="78.8" y1="449.23" x2="82.4" y2="449.23" stroke="#111" stroke-width="1.3" />
<rect x="77.2" y="451.77" width="6.8" height="10.13" fill="#111" stroke="none" stroke-width="0" />
<line x1="89.9" y1="422.27" x2="89.9" y2="425.1" stroke="#111" stroke-width="1.3" />
<line x1="88.1" y1="422.27" x2="91.7" y2="422.27" stroke="#111" stroke-width="1.3" />
<rect x="86.7" y="425.1" width="6.4" height="36.8" fill="#fff" stroke="#111" stroke-width="1.3" />
<text x="89.9" y="422.87" font-size="7.6" text-anchor="middle" font-weight="bold" fill="#1a1a1a" letter-spacing="0.5">**</text>
<line x1="85" y1="461.9" x2="85" y2="464.9" stroke="#222" stroke-width="1.2" />
<text transform="translate(87.5,470.4) rotate(-45)" font-size="7.6" text-anchor="end" fill="#1a1a1a">PF382</text>
<line x1="104.2" y1="449.23" x2="104.2" y2="450.13" stroke="#111" stroke-width="1.3" />
<line x1="102.4" y1="449.23" x2="106" y2="449.23" stroke="#111" stroke-width="1.3" />
<rect x="100.8" y="450.13" width="6.8" height="11.77" fill="#111" stroke="none" stroke-width="0" />
<line x1="113.5" y1="387.17" x2="113.5" y2="392.4" stroke="#111" stroke-width="1.3" />
<line x1="111.7" y1="387.17" x2="115.3" y2="387.17" stroke="#111" stroke-width="1.3" />
<rect x="110.3" y="392.4" width="6.4" height="69.5" fill="#fff" stroke="#111" stroke-width="1.3" />
<rect x="109.3" y="411.2" width="8.4" height="6.6" fill="#fff" stroke="none" stroke-width="0" />
<text x="113.5" y="387.77" font-size="7.6" text-anchor="middle" font-weight="bold" fill="#1a1a1a" letter-spacing="0.5">***</text>
<line x1="108.6" y1="461.9" x2="108.6" y2="464.9" stroke="#222" stroke-width="1.2" />
<text transform="translate(111.1,470.4) rotate(-45)" font-size="7.6" text-anchor="end" fill="#1a1a1a">HPB-ALL</text>
<line x1="127.8" y1="452.96" x2="127.8" y2="454" stroke="#111" stroke-width="1.3" />
<line x1="126" y1="452.96" x2="129.6" y2="452.96" stroke="#111" stroke-width="1.3" />
<rect x="124.4" y="454" width="6.8" height="7.9" fill="#111" stroke="none" stroke-width="0" />
<line x1="137.1" y1="426.44" x2="137.1" y2="428.67" stroke="#111" stroke-width="1.3" />
<line x1="135.3" y1="426.44" x2="138.9" y2="426.44" stroke="#111" stroke-width="1.3" />
<rect x="133.9" y="428.67" width="6.4" height="33.23" fill="#fff" stroke="#111" stroke-width="1.3" />
<text x="137.1" y="427.04" font-size="7.6" text-anchor="middle" font-weight="bold" fill="#1a1a1a" letter-spacing="0.5">***</text>
<line x1="132.2" y1="461.9" x2="132.2" y2="464.9" stroke="#222" stroke-width="1.2" />
<text transform="translate(134.7,470.4) rotate(-45)" font-size="7.6" text-anchor="end" fill="#1a1a1a">Jurkat</text>
<line x1="151.4" y1="446.25" x2="151.4" y2="447" stroke="#111" stroke-width="1.3" />
<line x1="149.6" y1="446.25" x2="153.2" y2="446.25" stroke="#111" stroke-width="1.3" />
<rect x="148" y="447" width="6.8" height="14.9" fill="#111" stroke="none" stroke-width="0" />
<line x1="160.7" y1="418.69" x2="160.7" y2="423.9" stroke="#111" stroke-width="1.3" />
<line x1="158.9" y1="418.69" x2="162.5" y2="418.69" stroke="#111" stroke-width="1.3" />
<rect x="157.5" y="423.9" width="6.4" height="38" fill="#fff" stroke="#111" stroke-width="1.3" />
<text x="160.7" y="419.29" font-size="7.6" text-anchor="middle" font-weight="bold" fill="#1a1a1a" letter-spacing="0.5">***</text>
<line x1="155.8" y1="461.9" x2="155.8" y2="464.9" stroke="#222" stroke-width="1.2" />
<text transform="translate(158.3,470.4) rotate(-45)" font-size="7.6" text-anchor="end" fill="#1a1a1a">DND-41</text>
<line x1="175" y1="447.6" x2="175" y2="448.04" stroke="#111" stroke-width="1.3" />
<line x1="173.2" y1="447.6" x2="176.8" y2="447.6" stroke="#111" stroke-width="1.3" />
<rect x="171.6" y="448.04" width="6.8" height="13.86" fill="#111" stroke="none" stroke-width="0" />
<line x1="184.3" y1="427.78" x2="184.3" y2="431.21" stroke="#111" stroke-width="1.3" />
<line x1="182.5" y1="427.78" x2="186.1" y2="427.78" stroke="#111" stroke-width="1.3" />
<rect x="181.1" y="431.21" width="6.4" height="30.69" fill="#fff" stroke="#111" stroke-width="1.3" />
<text x="184.3" y="428.38" font-size="7.6" text-anchor="middle" font-weight="bold" fill="#1a1a1a" letter-spacing="0.5">**</text>
<line x1="179.4" y1="461.9" x2="179.4" y2="464.9" stroke="#222" stroke-width="1.2" />
<text transform="translate(181.9,470.4) rotate(-45)" font-size="7.6" text-anchor="end" fill="#1a1a1a">RPMI 8402</text>
<rect x="166.5" y="365" width="12.6" height="5.8" fill="#111" stroke="none" stroke-width="0" />
<text x="183" y="371" font-size="8" text-anchor="start" font-weight="normal" fill="#1a1a1a" >DMSO</text>
<rect x="167.1" y="377.2" width="11.4" height="4.6" fill="#fff" stroke="#111" stroke-width="1.3" />
<text x="183" y="382.6" font-size="8" text-anchor="start" font-weight="normal" fill="#1a1a1a" >JQ1</text>
<text x="223.5" y="179.7" font-size="11" text-anchor="start" font-weight="bold" fill="#111" >C</text>
<text x="297.5" y="189.6" font-size="10.3" text-anchor="middle" font-weight="normal" fill="#1a1a1a" >KOPTK1</text>
<text x="431" y="189.5" font-size="10" text-anchor="middle" font-weight="normal" fill="#1a1a1a" >Jurkat</text>
<text x="488" y="210.8" font-size="10.8" text-anchor="start" font-weight="normal" fill="#1a1a1a" >DMSO</text>
<text x="488.2" y="331.6" font-size="10.2" text-anchor="start" font-weight="normal" fill="#1a1a1a" >JQ1</text>
<rect x="243" y="201.2" width="103.8" height="104.3" fill="none" stroke="#444" stroke-width="0.9" />
<rect x="379" y="200.8" width="104.6" height="104.5" fill="none" stroke="#444" stroke-width="0.9" />
<rect x="242.5" y="321.2" width="104.6" height="105" fill="none" stroke="#444" stroke-width="0.9" />
<rect x="379" y="320.6" width="104.4" height="105" fill="none" stroke="#444" stroke-width="0.9" />
<path transform="translate(243,201.2)" d="M0 0m71 2h0m26 0h0m-7.5 1h0m-14.5 0.5h0m-15.5 2h0m-28.5 2h0m51 0h0m-14.5 2h0m-6.5 1h0m-11 1.5h0m4.5 1h0m-13.5 0.5h0m23.5 0.5h0m18.5 0h0m-44 1h0m45 0h0m-42.5 0.5h0m3.5 0.5h0m16.5 0h0m11 0h0m1.5 0h0m2.5 0h0m1 0h0m-21.5 0.5h0m7 0h0m5 0h0m-23.5 0.5h0m7.5 0h0m14.5 1h0m12 0h0m-33.5 0.5h0m4 0h0m6.5 0h0m2 0h0m5.5 0h0m11 0h0m-37.5 0.5h0m7 0h0m11.5 0h0m2 0h0m6 0h0m5.5 0h0m6 0h0m-33 0.5h0m26.5 0.5h0m-15.5 0.5h0m15.5 0h0m9.5 0h0m-62 0.5h0m47 0h0m0.5 0h0m9.5 0h0m-39.5 0.5h0m41 0h0m6 0h0m-38.5 0.5h0m17 0h0m0.5 0h0m1.5 0h0m14.5 0h0m-36.5 0.5h0m15.5 0h0m1 0h0m6.5 0h0m1 0h0m4.5 0h0m11.5 0h0m-41.5 0.5h0m10.5 0h0m8.5 0h0m11 0h0m0.5 0h0m9.5 0h0m1 0h0m-44 0.5h0m9.5 0h0m7.5 0h0m0.5 0h0m0.5 0h0m0.5 0h0m5 0h0m1.5 0h0m2.5 0h0m3.5 0h0m2 0h0m-24 0.5h0m3.5 0h0m4 0h0m7.5 0h0m2.5 0h0m8.5 0h0m-27.5 0.5h0m1 0h0m5 0h0m1.5 0h0m3.5 0h0m1.5 0h0m9.5 0h0m1 0h0m14.5 0h0m-31.5 0.5h0m2 0h0m1 0h0m2.5 0h0m2.5 0h0m1 0h0m2 0h0m1 0h0m2.5 0h0m7.5 0h0m-60.5 0.5h0m32 0h0m3 0h0m0.5 0h0m4 0h0m0.5 0h0m0.5 0h0m0.5 0h0m1 0h0m0.5 0h0m1.5 0h0m0.5 0h0m2.5 0h0m0.5 0h0m1 0h0m7 0h0m0.5 0h0m4 0h0m1.5 0h0m5.5 0h0m-37.5 0.5h0m2 0h0m1 0h0m1.5 0h0m0.5 0h0m0.5 0h0m1 0h0m2.5 0h0m2 0h0m1 0h0m1 0h0m1.5 0h0m2 0h0m0.5 0h0m0.5 0h0m1 0h0m5.5 0h0m9.5 0h0m7 0h0m8 0h0m-46 0.5h0m0.5 0h0m1.5 0h0m1 0h0m1 0h0m1.5 0h0m1.5 0h0m1.5 0h0m1 0h0m1.5 0h0m1 0h0m0.5 0h0m0.5 0h0m1.5 0h0m2.5 0h0m2.5 0h0m2 0h0m1 0h0m1.5 0h0m3.5 0h0m18 0h0m-51.5 0.5h0m0.5 0h0m3 0h0m3 0h0m0.5 0h0m0.5 0h0m2.5 0h0m0.5 0h0m1.5 0h0m0.5 0h0m0.5 0h0m2 0h0m1 0h0m1 0h0m0.5 0h0m0.5 0h0m0.5 0h0m0.5 0h0m0.5 0h0m1 0h0m0.5 0h0m0.5 0h0m1.5 0h0m4 0h0m2.5 0h0m8.5 0h0m-32 0.5h0m2 0h0m1.5 0h0m3.5 0h0m0.5 0h0m1.5 0h0m0.5 0h0m0.5 0h0m0.5 0h0m0.5 0h0m1 0h0m1 0h0m0.5 0h0m0.5 0h0m0.5 0h0m0.5 0h0m0.5 0h0m0.5 0h0m1.5 0h0m1.5 0h0m0.5 0h0m15 0h0m-39 0.5h0m2 0h0m1 0h0m8.5 0h0m0.5 0h0m0.5 0h0m0.5 0h0m1 0h0m1 0h0m0.5 0h0m0.5 0h0m0.5 0h0m2 0h0m0.5 0h0m0.5 0h0m2 0h0m1 0h0m3 0h0m2.5 0h0m1 0h0m3.5 0h0m-36 0.5h0m3.5 0h0m3.5 0h0m1 0h0m0.5 0h0m1.5 0h0m3 0h0m2.5 0h0m2.5 0h0m2 0h0m1 0h0m0.5 0h0m0.5 0h0m1 0h0m1 0h0m1.5 0h0m0.5 0h0m0.5 0h0m2 0h0m12 0h0m3 0h0m-51 0.5h0m10.5 0h0m1.5 0h0m0.5 0h0m0.5 0h0m2 0h0m1 0h0m2 0h0m2 0h0m0.5 0h0m0.5 0h0m0.5 0h0m1 0h0m1 0h0m1 0h0m2.5 0h0m0.5 0h0m2 0h0m0.5 0h0m0.5 0h0m0.5 0h0m0.5 0h0m3 0h0m1 0h0m0.5 0h0m1 0h0m1.5 0h0m4.5 0h0m6.5 0h0m4 0h0m-44.5 0.5h0m8.5 0h0m0.5 0h0m3 0h0m3 0h0m0.5 0h0m0.5 0h0m2.5 0h0m1.5 0h0m0.5 0h0m0.5 0h0m2 0h0m1 0h0m2.5 0h0m0.5 0h0m2 0h0m2 0h0m-12 0.5h0m2 0h0m8 0h0m2 0h0m-20 0.5h0m3.5 0h0m2.5 0h0m1 0h0m5.5 0h0m0.5 0h0m0.5 0h0m1 0h0m5.5 0h0m7 0h0m-38 0.5h0m8 0h0m6.5 0h0m1 0h0m1.5 0h0m0.5 0h0m2.5 0h0m2.5 0h0m2.5 0h0m7.5 0h0m4 0h0m1 0h0m10 0h0m-47 0.5h0m5.5 0h0m6 0h0m0.5 0h0m3.5 0h0m3 0h0m2.5 0h0m1 0h0m1.5 0h0m0.5 0h0m4.5 0h0m10.5 0h0m-47.5 0.5h0m1.5 0h0m6 0h0m1.5 0h0m10 0h0m7 0h0m0.5 0h0m8 0h0m6 0h0m0.5 0h0m3.5 0h0m-29 0.5h0m6.5 0h0m3.5 0h0m8.5 0h0m5.5 0h0m6.5 0h0m2.5 0h0m12.5 0h0m-48 0.5h0m17 0h0m7 0h0m2 0h0m2.5 0h0m1.5 0h0m-27 0.5h0m6 0h0m2.5 0h0m2.5 0h0m3 0h0m4 0h0m0.5 0h0m-30.5 0.5h0m22 0h0m36 0h0m-50 0.5h0m5.5 0h0m6 0h0m9 0h0m6 0h0m-24.5 0.5h0m1.5 0h0m9.5 0h0m22.5 0h0m2 0h0m-16.5 0.5h0m2 0h0m1 0h0m-43.5 0.5h0m31.5 0h0m16 0h0m3 0h0m4 0h0m-41 0.5h0m9.5 0h0m3 0h0m11 0h0m9.5 0h0m7.5 0h0m12 0h0m-55.5 0.5h0m18 0h0m3.5 0h0m1.5 0h0m4 0h0m3.5 0h0m19.5 0h0m-33.5 0.5h0m8.5 0h0m16.5 0h0m6 0h0m-32.5 0.5h0m10.5 0h0m-19.5 0.5h0m11.5 0h0m6 0h0m0.5 0h0m0.5 0h0m3 0h0m4 0h0m-25.5 0.5h0m5.5 0h0m3 0h0m10 0h0m2 0h0m1.5 0h0m5.5 0h0m3.5 0h0m2.5 0h0m-32.5 0.5h0m5.5 0h0m9.5 0h0m3.5 0h0m1.5 0h0m9.5 0h0m-32 0.5h0m7.5 0h0m7 0h0m21 0h0m1.5 0h0m-52.5 0.5h0m16 0h0m20 0h0m4.5 0h0m-49 0.5h0m28.5 0h0m1 0h0m25 0h0m-20 0.5h0m5 0h0m12 0h0m1 0h0m3 0h0m4 0h0m-25 0.5h0m10 0h0m7.5 0h0m1.5 0h0m1.5 0h0m-38 0.5h0m19.5 0.5h0m2.5 0h0m2 0h0m4 0h0m-10.5 0.5h0m1 0h0m3 0h0m4 0h0m5 0h0m10.5 0h0m-28 0.5h0m8 0h0m5.5 0h0m14 0h0m-33.5 0.5h0m4.5 0h0m1.5 0h0m1 0h0m10.5 0h0m3.5 0h0m2 0h0m5 0h0m15.5 0h0m1 0h0m-54.5 0.5h0m15 0h0m6.5 0h0m2 0h0m2.5 0h0m0.5 0h0m1 0h0m8.5 0h0m-12 0.5h0m3 0h0m5.5 0h0m2 0h0m2 0h0m1.5 0h0m-30 0.5h0m15 0h0m4.5 0h0m4 0h0m15 0h0m-29.5 0.5h0m2.5 0h0m4 0h0m1 0h0m1.5 0h0m1 0h0m3 0h0m1.5 0h0m0.5 0h0m2.5 0h0m-30.5 0.5h0m19 0h0m1.5 0h0m1.5 0h0m3.5 0h0m4 0h0m1.5 0h0m2.5 0h0m-24 0.5h0m2 0h0m1 0h0m1.5 0h0m0.5 0h0m7.5 0h0m2 0h0m0.5 0h0m4.5 0h0m-20 0.5h0m1.5 0h0m2 0h0m1.5 0h0m3.5 0h0m5 0h0m1 0h0m3 0h0m0.5 0h0m1.5 0h0m1 0h0m0.5 0h0m1.5 0h0m-21.5 0.5h0m1 0h0m0.5 0h0m2.5 0h0m1.5 0h0m2 0h0m0.5 0h0m0.5 0h0m1 0h0m0.5 0h0m0.5 0h0m2 0h0m1 0h0m0.5 0h0m3 0h0m3.5 0h0m-31 0.5h0m8.5 0h0m1.5 0h0m1.5 0h0m1 0h0m1 0h0m0.5 0h0m2 0h0m1 0h0m0.5 0h0m0.5 0h0m1.5 0h0m3 0h0m2.5 0h0m0.5 0h0m0.5 0h0m1 0h0m1 0h0m3.5 0h0m0.5 0h0m0.5 0h0m0.5 0h0m3.5 0h0m2 0h0m1.5 0h0m-41 0.5h0m9.5 0h0m5 0h0m1 0h0m0.5 0h0m1 0h0m0.5 0h0m0.5 0h0m1 0h0m0.5 0h0m3.5 0h0m1 0h0m2 0h0m0.5 0h0m2 0h0m2.5 0h0m2 0h0m5 0h0m-36.5 0.5h0m9 0h0m0.5 0h0m2 0h0m2 0h0m1 0h0m0.5 0h0m0.5 0h0m4.5 0h0m0.5 0h0m1 0h0m4 0h0m0.5 0h0m0.5 0h0m1.5 0h0m5.5 0h0m-31 0.5h0m6.5 0h0m4.5 0h0m0.5 0h0m0.5 0h0m1 0h0m0.5 0h0m0.5 0h0m1 0h0m0.5 0h0m7 0h0m4 0h0m-38.5 0.5h0m18 0h0m1 0h0m2.5 0h0m3 0h0m1.5 0h0m0.5 0h0m0.5 0h0m3 0h0m3 0h0m2.5 0h0m-19 0.5h0m0.5 0h0m0.5 0h0m4.5 0h0m2 0h0m3 0h0m0.5 0h0m1 0h0m0.5 0h0m1.5 0h0m4 0h0m4.5 0h0m2.5 0h0m4.5 0h0m-42 0.5h0m11.5 0h0m3 0h0m2 0h0m0.5 0h0m2.5 0h0m0.5 0h0m1.5 0h0m2 0h0m3 0h0m2.5 0h0m0.5 0h0m-22 0.5h0m6 0h0m2.5 0h0m0.5 0h0m1 0h0m1 0h0m0.5 0h0m2.5 0h0m0.5 0h0m0.5 0h0m1.5 0h0m0.5 0h0m2 0h0m0.5 0h0m-23 0.5h0m2 0h0m7.5 0h0m3 0h0m0.5 0h0m2.5 0h0m4 0h0m1.5 0h0m3 0h0m13 0h0m-31.5 0.5h0m3.5 0h0m1 0h0m0.5 0h0m1 0h0m0.5 0h0m2 0h0m1 0h0m2 0h0m0.5 0h0m2.5 0h0m3.5 0h0m0.5 0h0m1.5 0h0m11 0h0m-30.5 0.5h0m0.5 0h0m3 0h0m0.5 0h0m3 0h0m2 0h0m0.5 0h0m4 0h0m4.5 0h0m1 0h0m10.5 0h0m0.5 0h0m-34.5 0.5h0m2 0h0m3 0h0m0.5 0h0m4 0h0m0.5 0h0m3 0h0m3.5 0h0m4 0h0m1 0h0m1 0h0m-19 0.5h0m1.5 0h0m0.5 0h0m2 0h0m1.5 0h0m1.5 0h0m0.5 0h0m1 0h0m3.5 0h0m1 0h0m0.5 0h0m2 0h0m1.5 0h0m2.5 0h0m2.5 0h0m5 0h0m12.5 0h0m-41.5 0.5h0m2.5 0h0m1 0h0m1 0h0m1 0h0m0.5 0h0m0.5 0h0m0.5 0h0m3.5 0h0m0.5 0h0m0.5 0h0m1 0h0m3.5 0h0m3.5 0h0m1.5 0h0m1 0h0m-24.5 0.5h0m4 0h0m1 0h0m0.5 0h0m1 0h0m0.5 0h0m1 0h0m2.5 0h0m0.5 0h0m1.5 0h0m0.5 0h0m4 0h0m5 0h0m3.5 0h0m9.5 0h0m-32 0.5h0m0.5 0h0m1 0h0m0.5 0h0m0.5 0h0m1 0h0m2.5 0h0m3 0h0m0.5 0h0m0.5 0h0m1 0h0m2 0h0m3.5 0h0m2 0h0m6.5 0h0m1.5 0h0m3 0h0m-29 0.5h0m0.5 0h0m0.5 0h0m1 0h0m1.5 0h0m0.5 0h0m1 0h0m1.5 0h0m1 0h0m2.5 0h0m2.5 0h0m0.5 0h0m0.5 0h0m2 0h0m0.5 0h0m2.5 0h0m2 0h0m1 0h0m2 0h0m1 0h0m-31.5 0.5h0m8.5 0h0m0.5 0h0m1.5 0h0m2 0h0m1.5 0h0m1.5 0h0m10 0h0m8.5 0h0m10 0h0m20 0h0m-65.5 0.5h0m4 0h0m3 0h0m1 0h0m0.5 0h0m0.5 0h0m1 0h0m1.5 0h0m1 0h0m4.5 0h0m0.5 0h0m0.5 0h0m1 0h0m4.5 0h0m1.5 0h0m2 0h0m2 0h0m0.5 0h0m3 0h0m7.5 0h0m1 0h0m-43.5 0.5h0m6.5 0h0m1 0h0m1.5 0h0m2.5 0h0m1.5 0h0m0.5 0h0m0.5 0h0m1 0h0m2.5 0h0m0.5 0h0m1 0h0m2.5 0h0m2 0h0m0.5 0h0m4.5 0h0m0.5 0h0m1 0h0m0.5 0h0m1.5 0h0m1.5 0h0m1.5 0h0m0.5 0h0m1.5 0h0m11 0h0m-43.5 0.5h0m0.5 0h0m0.5 0h0m0.5 0h0m1 0h0m5 0h0m0.5 0h0m0.5 0h0m1 0h0m0.5 0h0m1 0h0m0.5 0h0m1.5 0h0m1 0h0m2.5 0h0m1 0h0m4 0h0m1 0h0m2 0h0m0.5 0h0m0.5 0h0m2 0h0m1 0h0m3.5 0h0m1.5 0h0m2 0h0m4.5 0h0m13 0h0m-59 0.5h0m4.5 0h0m0.5 0h0m0.5 0h0m3 0h0m5 0h0m1 0h0m1.5 0h0m0.5 0h0m2.5 0h0m1.5 0h0m1 0h0m0.5 0h0m0.5 0h0m1 0h0m1.5 0h0m0.5 0h0m1.5 0h0m1.5 0h0m2 0h0m2.5 0h0m6.5 0h0m5 0h0m6 0h0m2 0h0m-51.5 0.5h0m3.5 0h0m8.5 0h0m0.5 0h0m0.5 0h0m0.5 0h0m0.5 0h0m0.5 0h0m0.5 0h0m1 0h0m0.5 0h0m3 0h0m0.5 0h0m1 0h0m0.5 0h0m2 0h0m2 0h0m3.5 0h0m2.5 0h0m1.5 0h0m4.5 0h0m26.5 0h0m2.5 0h0m-59.5 0.5h0m5 0h0m0.5 0h0m0.5 0h0m0.5 0h0m1 0h0m0.5 0h0m0.5 0h0m2.5 0h0m2 0h0m1 0h0m0.5 0h0m1 0h0m0.5 0h0m2.5 0h0m4.5 0h0m0.5 0h0m2 0h0m0.5 0h0m3 0h0m9.5 0h0m-48 0.5h0m2 0h0m12.5 0h0m0.5 0h0m1.5 0h0m0.5 0h0m0.5 0h0m0.5 0h0m1 0h0m0.5 0h0m1 0h0m1 0h0m1.5 0h0m1 0h0m2.5 0h0m0.5 0h0m1.5 0h0m3 0h0m6 0h0m-42 0.5h0m2 0h0m2 0h0m14.5 0h0m1.5 0h0m0.5 0h0m0.5 0h0m0.5 0h0m1 0h0m2 0h0m1.5 0h0m1.5 0h0m0.5 0h0m2 0h0m0.5 0h0m1 0h0m1 0h0m2 0h0m1.5 0h0m1.5 0h0m2 0h0m3.5 0h0m8.5 0h0m8 0h0m16.5 0h0m-71 0.5h0m14 0h0m0.5 0h0m1 0h0m1.5 0h0m1.5 0h0m0.5 0h0m3 0h0m0.5 0h0m4.5 0h0m5.5 0h0m0.5 0h0m1.5 0h0m1 0h0m0.5 0h0m2 0h0m9 0h0m-52.5 0.5h0m1.5 0h0m2 0h0m1 0h0m14.5 0h0m0.5 0h0m0.5 0h0m1 0h0m1.5 0h0m2 0h0m0.5 0h0m0.5 0h0m1 0h0m1 0h0m0.5 0h0m1 0h0m4 0h0m4 0h0m2 0h0m4.5 0h0m1 0h0m3 0h0m9.5 0h0m5 0h0m9 0h0m-67.5 0.5h0m0.5 0h0m15 0h0m1 0h0m1 0h0m1 0h0m1 0h0m4 0h0m2 0h0m2 0h0m1 0h0m1.5 0h0m13 0h0m22.5 0h0m-48.5 0.5h0m0.5 0h0m0.5 0h0m0.5 0h0m0.5 0h0m0.5 0h0m0.5 0h0m0.5 0h0m1.5 0h0m1 0h0m0.5 0h0m3 0h0m17.5 0h0m-50.5 0.5h0m0.5 0h0m2 0h0m20 0h0m0.5 0h0m0.5 0h0m0.5 0h0m0.5 0h0m0.5 0h0m4 0h0m2.5 0h0m0.5 0h0m1.5 0h0m5 0h0m3 0h0m12 0h0m-53 0.5h0m0.5 0h0m1 0h0m20 0h0m0.5 0h0m0.5 0h0m0.5 0h0m0.5 0h0m0.5 0h0m0.5 0h0m0.5 0h0m0.5 0h0m1 0h0m1.5 0h0m2 0h0m0.5 0h0m1.5 0h0m2 0h0m11.5 0h0m2.5 0h0m4 0h0m7.5 0h0m2.5 0h0m21.5 0h0m-84 0.5h0m22.5 0h0m0.5 0h0m1 0h0m1 0h0m0.5 0h0m0.5 0h0m0.5 0h0m0.5 0h0m1 0h0m0.5 0h0m0.5 0h0m0.5 0h0m1 0h0m3.5 0h0m0.5 0h0m2 0h0m16.5 0h0m-31 0.5h0m0.5 0h0m0.5 0h0m0.5 0h0m0.5 0h0m1.5 0h0m2 0h0m0.5 0h0m1 0h0m2.5 0h0m1 0h0m1 0h0m0.5 0h0m1 0h0m6 0h0m6 0h0m3 0h0m5 0h0m17.5 0h0m16 0h0m-65 0.5h0m0.5 0h0m1.5 0h0m1.5 0h0m1 0h0m0.5 0h0m0.5 0h0m0.5 0h0m0.5 0h0m1 0h0m1.5 0h0m0.5 0h0m0.5 0h0m2.5 0h0m4.5 0h0m2.5 0h0m1.5 0h0m7 0h0m1.5 0h0m9 0h0m-41.5 0.5h0m2 0h0m0.5 0h0m3.5 0h0m0.5 0h0m1 0h0m2.5 0h0m3 0h0m24.5 0h0m2 0h0m12.5 0h0m7.5 0h0m-81.5 0.5h0m3 0h0m20 0h0m0.5 0h0m0.5 0h0m0.5 0h0m0.5 0h0m0.5 0h0m0.5 0h0m5.5 0h0m6 0h0m2.5 0h0m1.5 0h0m3 0h0m4.5 0h0m2 0h0m9 0h0m-37 0.5h0m1 0h0m0.5 0h0m0.5 0h0m0.5 0h0m0.5 0h0m1 0h0m1 0h0m4.5 0h0m1.5 0h0m0.5 0h0m4 0h0m11.5 0h0m43.5 0h0m-92 0.5h0m21.5 0h0m0.5 0h0m2 0h0m0.5 0h0m1.5 0h0m1 0h0m0.5 0h0m0.5 0h0m1 0h0m0.5 0h0m0.5 0h0m1.5 0h0m3.5 0h0m2 0h0m1 0h0m1.5 0h0m1 0h0m11 0h0m20.5 0h0m-71 0.5h0m21 0h0m0.5 0h0m0.5 0h0m0.5 0h0m0.5 0h0m2 0h0m1 0h0m1 0h0m0.5 0h0m1.5 0h0m1 0h0m1.5 0h0m9 0h0m3.5 0h0m1.5 0h0m4 0h0m8.5 0h0m11.5 0h0m11 0h0m-81.5 0.5h0m21 0h0m0.5 0h0m0.5 0h0m0.5 0h0m0.5 0h0m0.5 0h0m0.5 0h0m1.5 0h0m1.5 0h0m1 0h0m0.5 0h0m0.5 0h0m1 0h0m4.5 0h0m1 0h0m4.5 0h0m1.5 0h0m6 0h0m5.5 0h0m13 0h0m-66 0.5h0m1 0h0m20 0h0m0.5 0h0m0.5 0h0m0.5 0h0m0.5 0h0m0.5 0h0m0.5 0h0m0.5 0h0m0.5 0h0m0.5 0h0m1.5 0h0m0.5 0h0m1.5 0h0m4 0h0m9 0h0m6.5 0h0m1.5 0h0m14.5 0h0m20 0h0m-63 0.5h0m0.5 0h0m1 0h0m0.5 0h0m1 0h0m3 0h0m0.5 0h0m4 0h0m3.5 0h0m3.5 0h0m1 0h0m1 0h0m1.5 0h0m14.5 0h0m18 0h0m-75 0.5h0m0.5 0h0m20 0h0m0.5 0h0m1 0h0m0.5 0h0m0.5 0h0m1 0h0m1 0h0m0.5 0h0m3 0h0m0.5 0h0m1 0h0m0.5 0h0m0.5 0h0m1 0h0m0.5 0h0m2 0h0m1 0h0m2 0h0m5.5 0h0m3 0h0m1.5 0h0m1 0h0m1 0h0m8.5 0h0m-57 0.5h0m20 0h0m0.5 0h0m0.5 0h0m1.5 0h0m0.5 0h0m3.5 0h0m4 0h0m6.5 0h0m23.5 0h0m-41 0.5h0m1 0h0m1 0h0m4 0h0m1.5 0h0m0.5 0h0m0.5 0h0m2 0h0m2.5 0h0m2 0h0m1.5 0h0m0.5 0h0m11 0h0m-48 0.5h0m0.5 0h0m19 0h0m0.5 0h0m0.5 0h0m1.5 0h0m1 0h0m0.5 0h0m0.5 0h0m1 0h0m2 0h0m1 0h0m0.5 0h0m3.5 0h0m15.5 0h0m2.5 0h0m-49.5 0.5h0m19 0h0m1 0h0m2 0h0m1.5 0h0m1 0h0m1.5 0h0m11 0h0m1 0h0m3 0h0m1.5 0h0m5.5 0h0m2 0h0m25.5 0h0m-56.5 0.5h0m3 0h0m0.5 0h0m1 0h0m0.5 0h0m0.5 0h0m2 0h0m0.5 0h0m0.5 0h0m1 0h0m1 0h0m3 0h0m6.5 0h0m2.5 0h0m3 0h0m-44.5 0.5h0m18.5 0h0m1 0h0m0.5 0h0m0.5 0h0m0.5 0h0m0.5 0h0m1 0h0m1 0h0m0.5 0h0m4.5 0h0m3 0h0m2 0h0m0.5 0h0m0.5 0h0m2 0h0m18 0h0m0.5 0h0m-55 0.5h0m19 0h0m1 0h0m0.5 0h0m3 0h0m1.5 0h0m0.5 0h0m4 0h0m0.5 0h0m8 0h0m25 0h0m16.5 0h0m-61 0.5h0m0.5 0h0m1 0h0m1 0h0m1.5 0h0m0.5 0h0m1 0h0m0.5 0h0m0.5 0h0m1.5 0h0m1 0h0m0.5 0h0m1.5 0h0m6.5 0h0m1.5 0h0m2.5 0h0m-41 0.5h0m19.5 0h0m0.5 0h0m1.5 0h0m0.5 0h0m0.5 0h0m1 0h0m0.5 0h0m1 0h0m1.5 0h0m1 0h0m2 0h0m1.5 0h0m8 0h0m0.5 0h0m0.5 0h0m3 0h0m2 0h0m-44.5 0.5h0m18.5 0h0m0.5 0h0m1 0h0m0.5 0h0m1.5 0h0m0.5 0h0m1 0h0m0.5 0h0m0.5 0h0m1 0h0m1.5 0h0m0.5 0h0m1 0h0m0.5 0h0m0.5 0h0m1.5 0h0m1 0h0m3 0h0m7 0h0m2 0h0m9.5 0h0m15.5 0h0m-70 0.5h0m20 0h0m1 0h0m1 0h0m1 0h0m1 0h0m1 0h0m1 0h0m0.5 0h0m1 0h0m1 0h0m1 0h0m2.5 0h0m6 0h0m10.5 0h0m5 0h0m0.5 0h0m8 0h0m-41.5 0.5h0m0.5 0h0m0.5 0h0m0.5 0h0m2 0h0m0.5 0h0m1 0h0m2 0h0m1 0h0m2 0h0m1.5 0h0m15.5 0h0m7 0h0m-53.5 0.5h0m18.5 0h0m0.5 0h0m1 0h0m0.5 0h0m1.5 0h0m1.5 0h0m1 0h0m1 0h0m1 0h0m0.5 0h0m0.5 0h0m26.5 0h0m-53.5 0.5h0m17.5 0h0m0.5 0h0m0.5 0h0m0.5 0h0m3.5 0h0m0.5 0h0m2 0h0m1 0h0m3.5 0h0m5 0h0m3.5 0h0m2.5 0h0m0.5 0h0m3 0h0m-45 0.5h0m1.5 0h0m17.5 0h0m0.5 0h0m0.5 0h0m1 0h0m0.5 0h0m0.5 0h0m1.5 0h0m0.5 0h0m1.5 0h0m10 0h0m4 0h0m20 0h0m6 0h0m-47 0.5h0m1.5 0h0m0.5 0h0m0.5 0h0m0.5 0h0m1.5 0h0m1 0h0m0.5 0h0m1.5 0h0m1 0h0m2 0h0m2 0h0m1.5 0h0m2.5 0h0m0.5 0h0m1 0h0m3 0h0m14.5 0h0m6.5 0h0m-60.5 0.5h0m1.5 0h0m17 0h0m1.5 0h0m1 0h0m2.5 0h0m0.5 0h0m3.5 0h0m1 0h0m5.5 0h0m1.5 0h0m1.5 0h0m2.5 0h0m-22.5 0.5h0m2 0h0m0.5 0h0m5.5 0h0m0.5 0h0m0.5 0h0m1 0h0m0.5 0h0m1 0h0m6 0h0m0.5 0h0m4.5 0h0m4.5 0h0m-43.5 0.5h0m17.5 0h0m1 0h0m1 0h0m0.5 0h0m0.5 0h0m0.5 0h0m0.5 0h0m0.5 0h0m3 0h0m4.5 0h0m1.5 0h0m3 0h0m12.5 0h0m2 0h0m2.5 0h0m1.5 0h0m1.5 0h0m-55 0.5h0m19 0h0m1 0h0m0.5 0h0m0.5 0h0m0.5 0h0m1.5 0h0m2.5 0h0m0.5 0h0m2 0h0m6.5 0h0m11.5 0h0m27 0h0m-72.5 0.5h0m18 0h0m1 0h0m0.5 0h0m0.5 0h0m0.5 0h0m1 0h0m0.5 0h0m0.5 0h0m0.5 0h0m3 0h0m3 0h0m0.5 0h0m1 0h0m0.5 0h0m0.5 0h0m3 0h0m-16.5 0.5h0m0.5 0h0m0.5 0h0m0.5 0h0m3 0h0m1.5 0h0m3 0h0m0.5 0h0m1 0h0m2.5 0h0m5 0h0m9.5 0h0m7.5 0h0m5 0h0m5.5 0h0m-63.5 0.5h0m18 0h0m0.5 0h0m1.5 0h0m2.5 0h0m0.5 0h0m0.5 0h0m1 0h0m0.5 0h0m2 0h0m1 0h0m4.5 0h0m4 0h0m0.5 0h0m2 0h0m5 0h0m0.5 0h0m0.5 0h0m1.5 0h0m1 0h0m18 0h0m-48 0.5h0m0.5 0h0m0.5 0h0m0.5 0h0m0.5 0h0m1.5 0h0m1 0h0m4.5 0h0m5 0h0m2 0h0m2 0h0m8.5 0h0m2 0h0m16.5 0h0m8 0h0m-70 0.5h0m17 0h0m0.5 0h0m1 0h0m0.5 0h0m2 0h0m3.5 0h0m5 0h0m1 0h0m1.5 0h0m3 0h0m2.5 0h0m1 0h0m-39.5 0.5h0m18.5 0h0m0.5 0h0m1 0h0m1.5 0h0m0.5 0h0m2.5 0h0m1 0h0m0.5 0h0m0.5 0h0m5.5 0h0m0.5 0h0m1 0h0m0.5 0h0m0.5 0h0m3.5 0h0m1.5 0h0m3 0h0m2.5 0h0m19 0h0m-46 0.5h0m0.5 0h0m0.5 0h0m6.5 0h0m0.5 0h0m1.5 0h0m1 0h0m1 0h0m0.5 0h0m2 0h0m5 0h0m1 0h0m2.5 0h0m-39.5 0.5h0m17 0h0m1.5 0h0m0.5 0h0m0.5 0h0m2.5 0h0m0.5 0h0m5.5 0h0m1 0h0m1 0h0m18.5 0h0m7.5 0h0m0.5 0h0m-40 0.5h0m1 0h0m0.5 0h0m0.5 0h0m0.5 0h0m2 0h0m0.5 0h0m0.5 0h0m0.5 0h0m1 0h0m0.5 0h0m1 0h0m2 0h0m0.5 0h0m1 0h0m0.5 0h0m2 0h0m1.5 0h0m4 0h0m5.5 0h0m0.5 0h0m10 0h0m20.5 0h0m-56.5 0.5h0m0.5 0h0m0.5 0h0m0.5 0h0m0.5 0h0m0.5 0h0m1 0h0m0.5 0h0m0.5 0h0m1 0h0m1.5 0h0m0.5 0h0m0.5 0h0m2.5 0h0m0.5 0h0m6.5 0h0m6 0h0m11 0h0m-37 0.5h0m2.5 0h0m1 0h0m0.5 0h0m0.5 0h0m0.5 0h0m2 0h0m0.5 0h0m1.5 0h0m1.5 0h0m2.5 0h0m1.5 0h0m14.5 0h0m3 0h0m5.5 0h0m-52 0.5h0m17 0h0m0.5 0h0m1 0h0m0.5 0h0m0.5 0h0m0.5 0h0m0.5 0h0m1.5 0h0m0.5 0h0m0.5 0h0m1 0h0m0.5 0h0m1.5 0h0m0.5 0h0m1.5 0h0m3.5 0h0m2 0h0m1 0h0m12 0h0m8.5 0h0m-38.5 0.5h0m0.5 0h0m0.5 0h0m0.5 0h0m1 0h0m0.5 0h0m1.5 0h0m0.5 0h0m0.5 0h0m1.5 0h0m6 0h0m2.5 0h0m14.5 0h0m0.5 0h0m9 0h0m9 0h0m-48.5 0.5h0m1.5 0h0m0.5 0h0m0.5 0h0m1 0h0m0.5 0h0m1 0h0m1 0h0m0.5 0h0m0.5 0h0m1.5 0h0m2 0h0m0.5 0h0m2 0h0m3.5 0h0m1.5 0h0m3 0h0m-21 0.5h0m0.5 0h0m1 0h0m0.5 0h0m1 0h0m2.5 0h0m0.5 0h0m0.5 0h0m2 0h0m2 0h0m18 0h0m0.5 0h0m-44.5 0.5h0m15.5 0h0m0.5 0h0m1 0h0m1 0h0m2 0h0m1 0h0m0.5 0h0m1 0h0m2.5 0h0m2 0h0m1 0h0m2.5 0h0m21 0h0m9.5 0h0m-62.5 0.5h0m1 0h0m0.5 0h0m16 0h0m0.5 0h0m0.5 0h0m1 0h0m1 0h0m0.5 0h0m1 0h0m0.5 0h0m1.5 0h0m0.5 0h0m1 0h0m1.5 0h0m3 0h0m3.5 0h0m1 0h0m23.5 0h0m4 0h0m-61 0.5h0m15.5 0h0m1 0h0m0.5 0h0m0.5 0h0m1.5 0h0m2.5 0h0m1.5 0h0m0.5 0h0m3 0h0m2.5 0h0m2 0h0m1.5 0h0m6 0h0m36 0h0m-74.5 0.5h0m15.5 0h0m0.5 0h0m0.5 0h0m0.5 0h0m1 0h0m0.5 0h0m3.5 0h0m1 0h0m9 0h0m1.5 0h0m1 0h0m15.5 0h0m5.5 0h0m9 0h0m-49.5 0.5h0m1.5 0h0m0.5 0h0m3 0h0m0.5 0h0m2.5 0h0m2.5 0h0m0.5 0h0m0.5 0h0m1 0h0m4.5 0h0m5.5 0h0m6.5 0h0m2.5 0h0m-31.5 0.5h0m1 0h0m0.5 0h0m1.5 0h0m2 0h0m1.5 0h0m0.5 0h0m0.5 0h0m1.5 0h0m3.5 0h0m3.5 0h0m1 0h0m29.5 0h0m6.5 0h0m-68.5 0.5h0m0.5 0h0m15.5 0h0m0.5 0h0m1 0h0m0.5 0h0m2 0h0m1 0h0m0.5 0h0m3.5 0h0m1.5 0h0m2 0h0m3 0h0m1 0h0m5.5 0h0m-22.5 0.5h0m0.5 0h0m1 0h0m0.5 0h0m0.5 0h0m0.5 0h0m0.5 0h0m4 0h0m4.5 0h0m1 0h0m3 0h0m0.5 0h0m22 0h0m2 0h0m14 0h0m2 0h0m-72 0.5h0m0.5 0h0m15.5 0h0m0.5 0h0m0.5 0h0m0.5 0h0m1 0h0m1 0h0m0.5 0h0m2 0h0m6 0h0m2 0h0m3 0h0m3.5 0h0m6.5 0h0m14 0h0m20.5 0h0m-76 0.5h0m14 0h0m0.5 0h0m1.5 0h0m1 0h0m2 0h0m1.5 0h0m0.5 0h0m1.5 0h0m10 0h0m1.5 0h0m4 0h0m31.5 0h0m2 0h0m-72 0.5h0m15.5 0h0m0.5 0h0m1.5 0h0m0.5 0h0m0.5 0h0m1 0h0m1 0h0m1 0h0m3.5 0h0m3.5 0h0m0.5 0h0m4.5 0h0m0.5 0h0m2.5 0h0m1 0h0m2 0h0m1.5 0h0m4.5 0h0m25 0h0m-56 0.5h0m0.5 0h0m0.5 0h0m0.5 0h0m0.5 0h0m0.5 0h0m0.5 0h0m1.5 0h0m2 0h0m0.5 0h0m2 0h0m3 0h0m7 0h0m11 0h0m-44.5 0.5h0m13.5 0h0m0.5 0h0m0.5 0h0m1.5 0h0m2.5 0h0m3.5 0h0m2 0h0m0.5 0h0m1 0h0m3 0h0m1.5 0h0m7.5 0h0m4 0h0m-43 0.5h0m2 0h0m14.5 0h0m0.5 0h0m0.5 0h0m0.5 0h0m0.5 0h0m1 0h0m1.5 0h0m2.5 0h0m1 0h0m0.5 0h0m1.5 0h0m7.5 0h0m5 0h0m3 0h0m0.5 0h0m3 0h0m10 0h0m-40 0.5h0m0.5 0h0m0.5 0h0m0.5 0h0m0.5 0h0m1 0h0m2.5 0h0m0.5 0h0m0.5 0h0m1.5 0h0m2.5 0h0m0.5 0h0m2.5 0h0m0.5 0h0m22 0h0m-51 0.5h0m1.5 0h0m1 0h0m12 0h0m0.5 0h0m0.5 0h0m0.5 0h0m0.5 0h0m0.5 0h0m0.5 0h0m0.5 0h0m0.5 0h0m0.5 0h0m1 0h0m0.5 0h0m0.5 0h0m0.5 0h0m0.5 0h0m1.5 0h0m7.5 0h0m3.5 0h0m8 0h0m19.5 0h0m-61 0.5h0m0.5 0h0m14 0h0m1 0h0m0.5 0h0m0.5 0h0m1 0h0m2.5 0h0m10 0h0m1.5 0h0m5 0h0m3.5 0h0m4 0h0m19.5 0h0m0.5 0h0m-64 0.5h0m0.5 0h0m12.5 0h0m1 0h0m0.5 0h0m0.5 0h0m0.5 0h0m0.5 0h0m2 0h0m0.5 0h0m3 0h0m1 0h0m3.5 0h0m2.5 0h0m8 0h0m11 0h0m1 0h0m3.5 0h0m-52.5 0.5h0m14 0h0m0.5 0h0m1 0h0m0.5 0h0m0.5 0h0m3.5 0h0m1 0h0m1.5 0h0m0.5 0h0m1 0h0m1 0h0m3 0h0m0.5 0h0m4.5 0h0m0.5 0h0m7.5 0h0m1.5 0h0m4.5 0h0m-46 0.5h0m12.5 0h0m1 0h0m0.5 0h0m0.5 0h0m0.5 0h0m1 0h0m6 0h0m2.5 0h0m0.5 0h0m17.5 0h0m17 0h0m-60.5 0.5h0m1.5 0h0m12 0h0m0.5 0h0m0.5 0h0m0.5 0h0m1.5 0h0m0.5 0h0m1 0h0m0.5 0h0m1 0h0m11 0h0m13 0h0m11 0h0m0.5 0h0m-55 0.5h0m14 0h0m0.5 0h0m3 0h0m0.5 0h0m5.5 0h0m8.5 0h0m10 0h0m-41 0.5h0m13 0h0m1 0h0m1.5 0h0m2 0h0m0.5 0h0m2 0h0m0.5 0h0m1.5 0h0m0.5 0h0m0.5 0h0m9.5 0h0m1.5 0h0m4 0h0m3 0h0m-41 0.5h0m0.5 0h0m11.5 0h0m0.5 0h0m0.5 0h0m1 0h0m0.5 0h0m0.5 0h0m0.5 0h0m4.5 0h0m0.5 0h0m0.5 0h0m6 0h0m18 0h0m-46 0.5h0m14 0h0m1 0h0m1.5 0h0m0.5 0h0m4.5 0h0m1.5 0h0m9.5 0h0m9 0h0m2.5 0h0m-43.5 0.5h0m12 0h0m3 0h0m1 0h0m0.5 0h0m1.5 0h0m0.5 0h0m1 0h0m3.5 0h0m11 0h0m-34.5 0.5h0m1.5 0h0m11 0h0m1 0h0m9 0h0m5.5 0h0m0.5 0h0m1 0h0m7.5 0h0m-24.5 0.5h0m0.5 0h0m4 0h0m2.5 0h0m5.5 0h0m-16.5 0.5h0m1 0h0m0.5 0h0m0.5 0h0m1 0h0m2 0h0m0.5 0h0m0.5 0h0m0.5 0h0m1 0h0m0.5 0h0m0.5 0h0m0.5 0h0m0.5 0h0m1 0h0m2 0h0m-11.5 0.5h0m0.5 0h0m0.5 0h0m1 0h0m0.5 0h0m1 0h0m1.5 0h0m2 0h0m1.5 0h0m0.5 0h0m1 0h0m-10.5 0.5h0m1.5 0h0m6.5 0h0m0.5 0h0m0.5 0h0m1.5 0h0" stroke="#111" stroke-width="1.3" stroke-linecap="round" fill="none" opacity="1.0"/>
<path d="M254,267.2C255.7,263.4 259.8,264.4 263,263.2C266.2,262 271.5,259.5 273,260.2C274.5,260.9 272.8,263.4 272,267.2C271.2,271 269.3,277.7 268,283.2C266.7,288.7 265.3,297.2 264,300.2C262.7,303.2 261.5,301.4 260,301.2C258.5,301 256.2,301.7 255,299.2C253.8,296.7 253.2,291.5 253,286.2C252.8,280.9 252.3,271 254,267.2Z" fill="none" stroke="#5a5a5a" stroke-width="0.6"/>
<path d="M255.4,269.7C256.8,266.6 260.2,267.4 262.8,266.4C265.4,265.5 269.8,263.4 271,264C272.2,264.5 270.9,266.6 270.2,269.7C269.5,272.9 268,278.3 266.9,282.8C265.8,287.3 264.7,294.3 263.6,296.8C262.5,299.2 261.6,297.7 260.4,297.6C259.1,297.5 257.2,298 256.3,296C255.3,293.9 254.8,289.7 254.6,285.3C254.5,280.9 254.1,272.9 255.4,269.7Z" fill="none" stroke="#5a5a5a" stroke-width="0.6"/>
<path d="M256.9,272.2C257.9,269.8 260.6,270.4 262.6,269.7C264.7,268.9 268.1,267.3 269,267.8C270,268.2 268.9,269.8 268.4,272.2C267.9,274.7 266.7,279 265.8,282.5C265,286 264.1,291.4 263.3,293.4C262.4,295.3 261.7,294.1 260.7,294C259.8,293.9 258.3,294.3 257.5,292.7C256.8,291.1 256.3,287.8 256.2,284.4C256.1,281 255.8,274.7 256.9,272.2Z" fill="none" stroke="#5a5a5a" stroke-width="0.6"/>
<path d="M258.2,274.6C259,272.8 261,273.3 262.5,272.7C264,272.2 266.5,271 267.2,271.3C267.9,271.6 267.1,272.8 266.7,274.6C266.3,276.4 265.4,279.6 264.8,282.1C264.2,284.7 263.6,288.7 262.9,290.1C262.3,291.5 261.8,290.7 261.1,290.6C260.4,290.5 259.3,290.8 258.7,289.7C258.2,288.5 257.8,286.1 257.8,283.5C257.7,281 257.5,276.4 258.2,274.6Z" fill="none" stroke="#5a5a5a" stroke-width="0.6"/>
<path d="M259.6,277C260.1,275.9 261.4,276.1 262.3,275.8C263.2,275.4 264.9,274.7 265.3,274.9C265.8,275.1 265.2,275.9 265,277C264.8,278.1 264.2,280.1 263.8,281.8C263.4,283.4 263,286 262.6,286.9C262.2,287.8 261.8,287.2 261.4,287.2C260.9,287.1 260.2,287.4 259.9,286.6C259.5,285.9 259.4,284.3 259.3,282.7C259.2,281.1 259.1,278.1 259.6,277Z" fill="none" stroke="#5a5a5a" stroke-width="0.6"/>
<path transform="translate(379,200.8)" d="M0 0m76 0.5h0m16 0.5h0m-18 3h0m10 0h0m4 0h0m-29 1.5h0m36.5 0h0m-5.5 1h0m-4 0.5h0m10 0h0m-7 0.5h0m-7.5 0.5h0m6 0.5h0m-12 0.5h0m6 0.5h0m1.5 0h0m3.5 0h0m3.5 0h0m4.5 0h0m-37.5 0.5h0m19.5 0h0m5.5 0h0m2 0h0m5.5 0h0m4.5 0h0m-18.5 0.5h0m1 0h0m10 0h0m-6 0.5h0m6 0h0m-7 0.5h0m12 0h0m-21.5 0.5h0m2 0h0m11.5 0h0m7.5 0h0m5 0h0m-18 0.5h0m8.5 0h0m8.5 0h0m-18.5 0.5h0m19.5 0h0m-16.5 0.5h0m6.5 0h0m5 0h0m-29 0.5h0m4 0h0m1 0h0m7 0h0m0.5 0h0m1 0h0m4 0h0m11.5 0h0m0.5 0h0m5.5 0h0m-46 0.5h0m21.5 0h0m2.5 0h0m4 0h0m8.5 0h0m6 0h0m-25 0.5h0m1.5 0h0m7.5 0h0m2 0h0m1.5 0h0m-15.5 0.5h0m2.5 0h0m3.5 0h0m6.5 0h0m0.5 0h0m1 0h0m0.5 0h0m4 0h0m0.5 0h0m4 0h0m-42 0.5h0m15.5 0h0m13 0h0m5 0h0m2 0h0m11 0h0m-31 0.5h0m5.5 0h0m8.5 0h0m6.5 0h0m3.5 0h0m3 0h0m2.5 0h0m-30.5 0.5h0m11.5 0h0m13.5 0h0m-38 0.5h0m14 0h0m2.5 0h0m7.5 0h0m2 0h0m9 0h0m1.5 0h0m-19 0.5h0m1.5 0h0m2.5 0h0m1 0h0m1.5 0h0m0.5 0h0m0.5 0h0m4 0h0m1 0h0m1.5 0h0m1 0h0m1 0h0m10 0h0m-28 0.5h0m3.5 0h0m6 0h0m0.5 0h0m0.5 0h0m4.5 0h0m1 0h0m12 0h0m-30 0.5h0m4.5 0h0m16.5 0h0m2 0h0m-9 0.5h0m7.5 0h0m2.5 0h0m1 0h0m-28.5 0.5h0m6.5 0h0m1 0h0m5 0h0m4 0h0m1 0h0m2.5 0h0m2 0h0m3.5 0h0m7.5 0h0m-34.5 0.5h0m3.5 0h0m4.5 0h0m1.5 0h0m3.5 0h0m6.5 0h0m7.5 0h0m4 0h0m-23 0.5h0m1.5 0h0m0.5 0h0m4 0h0m1.5 0h0m1 0h0m1.5 0h0m1 0h0m4.5 0h0m0.5 0h0m0.5 0h0m1.5 0h0m-63 0.5h0m32.5 0h0m5 0h0m9.5 0h0m4.5 0h0m5 0h0m0.5 0h0m3.5 0h0m1 0h0m1 0h0m4.5 0h0m-40.5 0.5h0m13 0h0m4 0h0m2.5 0h0m9.5 0h0m2.5 0h0m5.5 0h0m6.5 0h0m1 0h0m-35.5 0.5h0m1 0h0m0.5 0h0m6 0h0m1.5 0h0m1 0h0m2 0h0m6 0h0m2.5 0h0m2 0h0m4 0h0m6 0h0m1 0h0m2.5 0h0m-33 0.5h0m3.5 0h0m3 0h0m0.5 0h0m3 0h0m3 0h0m2.5 0h0m0.5 0h0m0.5 0h0m2.5 0h0m0.5 0h0m5 0h0m2.5 0h0m3.5 0h0m1 0h0m-32 0.5h0m9 0h0m4 0h0m0.5 0h0m0.5 0h0m4 0h0m1 0h0m1.5 0h0m2 0h0m0.5 0h0m4.5 0h0m-36 0.5h0m2.5 0h0m10.5 0h0m9.5 0h0m2 0h0m0.5 0h0m4.5 0h0m8 0h0m-31.5 0.5h0m6.5 0h0m2.5 0h0m2 0h0m1 0h0m3 0h0m2 0h0m1 0h0m5.5 0h0m0.5 0h0m2 0h0m1 0h0m1.5 0h0m5 0h0m-64.5 0.5h0m36.5 0h0m2.5 0h0m2 0h0m7 0h0m2.5 0h0m1 0h0m4 0h0m3.5 0h0m1 0h0m-27.5 0.5h0m1.5 0h0m7.5 0h0m3 0h0m0.5 0h0m3 0h0m2 0h0m3.5 0h0m1 0h0m8.5 0h0m4.5 0h0m-52 0.5h0m14 0h0m5.5 0h0m1.5 0h0m5.5 0h0m1 0h0m9.5 0h0m6.5 0h0m-33 0.5h0m12 0h0m2.5 0h0m5 0h0m1.5 0h0m2.5 0h0m0.5 0h0m6.5 0h0m0.5 0h0m1 0h0m6 0h0m-26.5 0.5h0m2 0h0m4.5 0h0m0.5 0h0m2.5 0h0m3.5 0h0m3 0h0m3 0h0m3.5 0h0m3 0h0m-44.5 0.5h0m12.5 0h0m1 0h0m2.5 0h0m5 0h0m3 0h0m1.5 0h0m2.5 0h0m1 0h0m1 0h0m1 0h0m1 0h0m1.5 0h0m1.5 0h0m5.5 0h0m6 0h0m8.5 0h0m-39.5 0.5h0m5.5 0h0m4 0h0m2.5 0h0m2.5 0h0m1 0h0m5 0h0m4.5 0h0m7 0h0m-30.5 0.5h0m5 0h0m1.5 0h0m1.5 0h0m1 0h0m3 0h0m2 0h0m4.5 0h0m-21 0.5h0m2.5 0h0m1 0h0m3.5 0h0m1 0h0m5 0h0m1.5 0h0m1 0h0m8 0h0m-30 0.5h0m7 0h0m2 0h0m1 0h0m1.5 0h0m7.5 0h0m2 0h0m1 0h0m3 0h0m1.5 0h0m3 0h0m-26.5 0.5h0m2.5 0h0m4 0h0m8 0h0m3.5 0h0m3 0h0m8.5 0h0m-26 0.5h0m4 0h0m1 0h0m4.5 0h0m0.5 0h0m5.5 0h0m6 0h0m0.5 0h0m3 0h0m3 0h0m-61 0.5h0m14.5 0h0m14 0h0m2 0h0m2 0h0m1 0h0m2 0h0m3 0h0m3 0h0m0.5 0h0m1 0h0m5 0h0m0.5 0h0m1 0h0m0.5 0h0m0.5 0h0m3 0h0m0.5 0h0m-38.5 0.5h0m8 0h0m1.5 0h0m8 0h0m3 0h0m0.5 0h0m1.5 0h0m6 0h0m0.5 0h0m0.5 0h0m1 0h0m3.5 0h0m0.5 0h0m2.5 0h0m5.5 0h0m0.5 0h0m2.5 0h0m-50.5 0.5h0m1 0h0m3 0h0m5.5 0h0m1.5 0h0m0.5 0h0m1 0h0m1.5 0h0m6 0h0m0.5 0h0m1.5 0h0m0.5 0h0m6.5 0h0m0.5 0h0m3 0h0m2.5 0h0m1 0h0m4 0h0m0.5 0h0m11.5 0h0m-51 0.5h0m1.5 0h0m7 0h0m0.5 0h0m6 0h0m3.5 0h0m5 0h0m1 0h0m2 0h0m1.5 0h0m0.5 0h0m0.5 0h0m3 0h0m2 0h0m3.5 0h0m2.5 0h0m-41.5 0.5h0m2.5 0h0m3 0h0m6.5 0h0m1 0h0m4 0h0m0.5 0h0m2 0h0m0.5 0h0m1 0h0m2.5 0h0m0.5 0h0m1.5 0h0m1 0h0m3 0h0m3.5 0h0m1 0h0m1 0h0m3.5 0h0m0.5 0h0m2.5 0h0m1.5 0h0m0.5 0h0m2 0h0m4.5 0h0m-49.5 0.5h0m2 0h0m0.5 0h0m3 0h0m2.5 0h0m1 0h0m9 0h0m1.5 0h0m1 0h0m0.5 0h0m2.5 0h0m2.5 0h0m1.5 0h0m8.5 0h0m0.5 0h0m2.5 0h0m1 0h0m1.5 0h0m0.5 0h0m2 0h0m7 0h0m-40.5 0.5h0m11 0h0m1.5 0h0m4.5 0h0m6.5 0h0m1 0h0m7.5 0h0m1 0h0m-33 0.5h0m7.5 0h0m6 0h0m2.5 0h0m4 0h0m2.5 0h0m8.5 0h0m5 0h0m-59.5 0.5h0m33 0h0m4.5 0h0m4 0h0m1 0h0m0.5 0h0m1.5 0h0m3.5 0h0m14.5 0h0m3 0h0m-22 0.5h0m3.5 0h0m2 0h0m2 0h0m4 0h0m-30 0.5h0m1.5 0h0m0.5 0h0m17.5 0h0m3.5 0h0m1 0h0m2 0h0m4 0h0m6 0h0m-41.5 0.5h0m13.5 0h0m5.5 0h0m0.5 0.5h0m7.5 0h0m-23 0.5h0m2.5 0h0m1.5 0h0m13 0h0m1 0h0m5.5 0h0m0.5 0h0m-21 0.5h0m8.5 0h0m7.5 0h0m-12 0.5h0m21.5 0h0m12.5 0h0m-52 0.5h0m9 0h0m6.5 0h0m7.5 0h0m21 0h0m-29.5 0.5h0m6.5 0h0m9.5 0h0m8 0h0m5.5 0h0m7 0h0m-38.5 0.5h0m0.5 0h0m1 0h0m4 0h0m0.5 0h0m4 0h0m0.5 0h0m5.5 0h0m4 0h0m6.5 0h0m-40.5 0.5h0m3.5 0h0m3.5 0h0m6.5 0h0m1 0h0m2 0h0m0.5 0h0m5.5 0h0m15 0h0m4 0h0m-16 0.5h0m14 0h0m-26.5 0.5h0m7 0h0m1 0h0m3.5 0h0m16.5 0h0m-26 0.5h0m3 0h0m1 0h0m2 0h0m4.5 0h0m8.5 0h0m-18.5 0.5h0m0.5 0h0m26 0h0m-24 0.5h0m4 0h0m6 0h0m3 0h0m0.5 0h0m-18 0.5h0m2 0h0m6 0h0m1.5 0h0m11.5 0h0m2.5 0h0m1 0h0m8 0h0m-36 0.5h0m7.5 0h0m-10.5 0.5h0m2 0h0m1.5 0h0m3 0h0m5 0h0m9 0h0m-20.5 0.5h0m15 0h0m5 0h0m4.5 0h0m-27.5 0.5h0m3 0h0m6.5 0h0m9 0h0m7 0h0m-21.5 0.5h0m7 0h0m6 0h0m4 0h0m-14.5 0.5h0m4 0h0m1.5 0h0m3.5 0h0m2 0h0m-23.5 0.5h0m5.5 0h0m8.5 0h0m9.5 0h0m16.5 0h0m5 0h0m-32 0.5h0m13 0h0m12 0h0m5 0h0m-50 0.5h0m28 0h0m4.5 0h0m3 0h0m14 0h0m-52.5 0.5h0m10 0h0m2 0h0m6 0h0m3 0h0m10.5 0h0m10.5 0h0m-22 0.5h0m4.5 0h0m6.5 0h0m-7.5 0.5h0m3.5 0h0m0.5 0h0m2.5 0h0m6 0h0m-15.5 0.5h0m6 0h0m9.5 0h0m3.5 0h0m40 0h0m-52.5 0.5h0m2.5 0h0m3 0h0m4.5 0h0m-26.5 0.5h0m12.5 0h0m4 0h0m3.5 0h0m-22 0.5h0m6 0h0m4 0h0m1 0h0m4 0h0m3 0h0m3 0h0m-22.5 0.5h0m12.5 0h0m1 0h0m11.5 0h0m5.5 0h0m-24.5 0.5h0m8.5 0h0m5.5 0h0m2 0h0m-15.5 0.5h0m4 0h0m9.5 0h0m13 0h0m18 0h0m-35.5 0.5h0m3 0h0m1.5 0h0m4 0h0m-21.5 0.5h0m4 0h0m0.5 0h0m6.5 0h0m8 0h0m3 0h0m-21.5 0.5h0m5 0h0m8 0h0m1 0h0m4 0h0m-9.5 0.5h0m3.5 0h0m3 0h0m0.5 0h0m3.5 0h0m4 0h0m0.5 0h0m43 0h0m-65 0.5h0m1.5 0h0m2.5 0h0m1.5 0h0m1.5 0h0m3.5 0h0m4.5 0h0m6 0h0m-21.5 0.5h0m5 0h0m4 0h0m3 0h0m1.5 0h0m0.5 0h0m6.5 0h0m8 0h0m-38.5 0.5h0m14.5 0h0m4 0h0m1 0h0m3.5 0h0m0.5 0h0m3.5 0h0m-36.5 0.5h0m27.5 0h0m2 0h0m8 0h0m-20.5 0.5h0m5.5 0h0m6 0h0m2 0h0m2 0h0m8 0h0m-18.5 0.5h0m3.5 0h0m2.5 0h0m11 0h0m4.5 0h0m-23 0.5h0m0.5 0h0m3.5 0h0m2.5 0h0m4.5 0h0m0.5 0h0m5.5 0h0m5 0h0m-20.5 0.5h0m2.5 0h0m3 0h0m13.5 0h0m-13.5 0.5h0m1 0h0m3 0h0m1 0h0m8 0h0m-32.5 0.5h0m3.5 0h0m5 0h0m7 0h0m3.5 0h0m2 0h0m0.5 0h0m3.5 0h0m-14.5 0.5h0m7 0h0m14.5 0h0m2.5 0h0m-26.5 0.5h0m0.5 0h0m2.5 0h0m1 0h0m2 0h0m13 0h0m1.5 0h0m-20 0.5h0m1.5 0h0m2 0h0m1 0h0m4.5 0h0m2.5 0h0m17 0h0m-28 0.5h0m0.5 0h0m1 0h0m3.5 0h0m1 0h0m12 0h0m-22.5 0.5h0m3.5 0h0m2 0h0m1 0h0m1 0h0m0.5 0h0m3 0h0m1 0h0m3 0h0m1 0h0m8 0h0m5 0h0m-26 0.5h0m0.5 0h0m0.5 0h0m0.5 0h0m0.5 0h0m0.5 0h0m1 0h0m0.5 0h0m1 0h0m0.5 0h0m7 0h0m-16.5 0.5h0m3 0h0m0.5 0h0m0.5 0h0m0.5 0h0m1.5 0h0m3.5 0h0m4 0h0m2.5 0h0m0.5 0h0m1.5 0h0m6.5 0h0m8 0h0m0.5 0h0m-30.5 0.5h0m1.5 0h0m1 0h0m1 0h0m0.5 0h0m1 0h0m0.5 0h0m0.5 0h0m3.5 0h0m1 0h0m1 0h0m2.5 0h0m1 0h0m10 0h0m1.5 0h0m-31 0.5h0m1.5 0h0m3.5 0h0m2.5 0h0m3 0h0m0.5 0h0m1 0h0m1 0h0m5 0h0m1.5 0h0m4.5 0h0m11.5 0h0m-32.5 0.5h0m2 0h0m1.5 0h0m0.5 0h0m0.5 0h0m0.5 0h0m0.5 0h0m2 0h0m1 0h0m1 0h0m1.5 0h0m3 0h0m0.5 0h0m1 0h0m1.5 0h0m-18 0.5h0m0.5 0h0m1.5 0h0m4 0h0m1 0h0m3.5 0h0m2.5 0h0m1 0h0m0.5 0h0m2.5 0h0m2 0h0m1 0h0m4 0h0m3.5 0h0m0.5 0h0m-26 0.5h0m0.5 0h0m1 0h0m3 0h0m0.5 0h0m0.5 0h0m0.5 0h0m0.5 0h0m3 0h0m0.5 0h0m0.5 0h0m1 0h0m6 0h0m2.5 0h0m-19.5 0.5h0m4 0h0m1 0h0m2 0h0m2.5 0h0m1 0h0m3.5 0h0m0.5 0h0m6 0h0m19.5 0h0m-41.5 0.5h0m6 0h0m1 0h0m1.5 0h0m2.5 0h0m0.5 0h0m1 0h0m3 0h0m6 0h0m2 0h0m1.5 0h0m5.5 0h0m-27.5 0.5h0m4 0h0m3.5 0h0m0.5 0h0m0.5 0h0m4 0h0m4 0h0m-14 0.5h0m3 0h0m2 0h0m1 0h0m1 0h0m1 0h0m1.5 0h0m1.5 0h0m-13 0.5h0m3 0h0m4.5 0h0m0.5 0h0m1.5 0h0m0.5 0h0m0.5 0h0m0.5 0h0m1 0h0m5.5 0h0m4.5 0h0m5.5 0h0m-22.5 0.5h0m0.5 0h0m0.5 0h0m1.5 0h0m1 0h0m0.5 0h0m0.5 0h0m1 0h0m1.5 0h0m0.5 0h0m-9 0.5h0m3.5 0h0m0.5 0h0m1 0h0m0.5 0h0m1 0h0m2 0h0m5.5 0h0m4.5 0h0m0.5 0h0m1.5 0h0m3 0h0m-20 0.5h0m3 0h0m1 0h0m5 0h0m4 0h0m0.5 0h0m3 0h0m2 0h0m-18.5 0.5h0m0.5 0h0m0.5 0h0m0.5 0h0m2 0h0m3 0h0m2.5 0h0m0.5 0h0m-8.5 0.5h0m1 0h0m1.5 0h0m1 0h0m1 0h0m1 0h0m5 0h0m2 0h0m-17.5 0.5h0m3.5 0h0m1.5 0h0m2 0h0m0.5 0h0m1.5 0h0m3.5 0h0m2.5 0h0m-10 0.5h0m0.5 0h0m2 0h0m1.5 0h0m9 0h0m1 0h0m0.5 0h0m-14 0.5h0m3 0h0m1 0h0m2 0h0m34 0h0m-45 0.5h0m6 0h0m0.5 0h0m0.5 0h0m0.5 0h0m3 0h0m0.5 0h0m1.5 0h0m1.5 0h0m2.5 0h0m1 0h0m3 0h0m10.5 0h0m4.5 0h0m-39.5 0.5h0m11 0h0m0.5 0h0m1.5 0h0m1 0h0m1 0h0m8 0h0m0.5 0h0m2.5 0h0m22.5 0h0m5.5 0h0m-42.5 0.5h0m0.5 0h0m0.5 0h0m1.5 0h0m0.5 0h0m1 0h0m4.5 0h0m2 0h0m0.5 0h0m6.5 0h0m-18.5 0.5h0m1 0h0m1 0h0m0.5 0h0m0.5 0h0m0.5 0h0m1.5 0h0m3.5 0h0m1.5 0h0m2.5 0h0m16 0h0m-27.5 0.5h0m1.5 0h0m0.5 0h0m1 0h0m1 0h0m2 0h0m12.5 0h0m-19 0.5h0m1.5 0h0m2 0h0m2.5 0h0m3 0h0m7 0h0m8.5 0h0m1.5 0h0m-26 0.5h0m1 0h0m1 0h0m1 0h0m1 0h0m3.5 0h0m2 0h0m6 0h0m2 0h0m4 0h0m2.5 0h0m-22.5 0.5h0m1 0h0m1.5 0h0m0.5 0h0m0.5 0h0m1 0h0m0.5 0h0m0.5 0h0m0.5 0h0m0.5 0h0m7 0h0m25.5 0h0m-39 0.5h0m1 0h0m0.5 0h0m0.5 0h0m1.5 0h0m1 0h0m0.5 0h0m1.5 0h0m0.5 0h0m34 0h0m-38.5 0.5h0m2 0h0m1.5 0h0m22.5 0h0m3.5 0h0m0.5 0h0m2.5 0h0m-44 0.5h0m11 0h0m1.5 0h0m1.5 0h0m15.5 0h0m0.5 0h0m16.5 0h0m-36.5 0.5h0m1 0h0m1 0h0m2 0h0m1.5 0h0m1 0h0m13.5 0h0m-16.5 0.5h0m2 0h0m0.5 0h0m1.5 0h0m11.5 0h0m22.5 0h0m-42 0.5h0m5.5 0h0m1.5 0h0m26 0h0m-30.5 0.5h0m1.5 0h0m0.5 0h0m3.5 0h0m2.5 0h0m1 0h0m1 0h0m2 0h0m2.5 0h0m9 0h0m8.5 0h0m6 0h0m-36 0.5h0m3.5 0h0m11 0h0m22 0h0m4.5 0h0m1.5 0h0m1.5 0h0m-45.5 0.5h0m2 0h0m1.5 0h0m0.5 0h0m1 0h0m2.5 0h0m2.5 0h0m5.5 0h0m4 0h0m-20.5 0.5h0m3 0h0m1 0h0m1 0h0m7.5 0h0m1.5 0h0m7.5 0h0m1.5 0h0m0.5 0h0m4.5 0h0m2 0h0m7 0h0m-36.5 0.5h0m0.5 0h0m0.5 0h0m2.5 0h0m1.5 0h0m3.5 0h0m4.5 0h0m25.5 0h0m-39 0.5h0m1.5 0h0m0.5 0h0m1.5 0h0m1 0h0m3 0h0m4 0h0m2 0h0m5.5 0h0m0.5 0h0m1 0h0m1.5 0h0m21 0h0m-41.5 0.5h0m0.5 0h0m1 0h0m4.5 0h0m9 0h0m22 0h0m6 0h0m-45 0.5h0m1 0h0m0.5 0h0m1 0h0m1.5 0h0m0.5 0h0m1.5 0h0m1.5 0h0m3.5 0h0m1 0h0m16 0h0m3.5 0h0m3.5 0h0m-35 0.5h0m1 0h0m1.5 0h0m1.5 0h0m0.5 0h0m1.5 0h0m3.5 0h0m1 0h0m0.5 0h0m12 0h0m23.5 0h0m-47 0.5h0m1 0h0m0.5 0h0m1 0h0m3 0h0m1.5 0h0m1 0h0m1 0h0m4 0h0m7.5 0h0m7.5 0h0m11.5 0h0m-42.5 0.5h0m0.5 0h0m3.5 0h0m0.5 0h0m1 0h0m0.5 0h0m0.5 0h0m3.5 0h0m1.5 0h0m5 0h0m3.5 0h0m1.5 0h0m1 0h0m2 0h0m13 0h0m-42 0.5h0m7.5 0h0m1.5 0h0m0.5 0h0m3 0h0m11.5 0h0m0.5 0h0m0.5 0h0m2 0h0m4 0h0m1.5 0h0m0.5 0h0m1 0h0m1 0h0m9 0h0m-39 0.5h0m2.5 0h0m0.5 0h0m0.5 0h0m0.5 0h0m0.5 0h0m0.5 0h0m0.5 0h0m0.5 0h0m3 0h0m1.5 0h0m-13 0.5h0m3 0h0m0.5 0h0m1.5 0h0m0.5 0h0m1 0h0m1 0h0m0.5 0h0m0.5 0h0m1 0h0m0.5 0h0m3 0h0m5 0h0m7 0h0m0.5 0h0m2.5 0h0m8 0h0m2 0h0m0.5 0h0m-33.5 0.5h0m0.5 0h0m0.5 0h0m1 0h0m4 0h0m2 0h0m0.5 0h0m7.5 0h0m9 0h0m3.5 0h0m3 0h0m10 0h0m2.5 0h0m-50 0.5h0m4 0h0m2 0h0m0.5 0h0m0.5 0h0m0.5 0h0m0.5 0h0m0.5 0h0m1.5 0h0m1 0h0m1 0h0m0.5 0h0m1 0h0m8 0h0m0.5 0h0m21.5 0h0m1.5 0h0m-43 0.5h0m1 0h0m2 0h0m1 0h0m0.5 0h0m1 0h0m0.5 0h0m2.5 0h0m0.5 0h0m3 0h0m4.5 0h0m14 0h0m-32 0.5h0m2.5 0h0m0.5 0h0m1.5 0h0m0.5 0h0m1 0h0m2.5 0h0m8 0h0m4.5 0h0m10.5 0h0m2.5 0h0m12.5 0h0m-44 0.5h0m1 0h0m1 0h0m1.5 0h0m0.5 0h0m4 0h0m1 0h0m1 0h0m9 0h0m0.5 0h0m1.5 0h0m1.5 0h0m2.5 0h0m4 0h0m7.5 0h0m5.5 0h0m0.5 0h0m-46.5 0.5h0m4 0h0m0.5 0h0m0.5 0h0m0.5 0h0m1.5 0h0m0.5 0h0m1.5 0h0m0.5 0h0m1.5 0h0m2.5 0h0m1.5 0h0m3 0h0m2.5 0h0m2 0h0m0.5 0h0m4.5 0h0m6 0h0m4.5 0h0m-36.5 0.5h0m3 0h0m0.5 0h0m1.5 0h0m0.5 0h0m0.5 0h0m0.5 0h0m1 0h0m5 0h0m24.5 0h0m12 0h0m-49 0.5h0m1.5 0h0m1.5 0h0m2 0h0m1.5 0h0m0.5 0h0m1 0h0m7.5 0h0m3.5 0h0m1.5 0h0m3.5 0h0m1 0h0m1 0h0m6 0h0m13 0h0m-44.5 0.5h0m1 0h0m1.5 0h0m1 0h0m0.5 0h0m1 0h0m0.5 0h0m0.5 0h0m0.5 0h0m4.5 0h0m17.5 0h0m0.5 0h0m3 0h0m-31.5 0.5h0m0.5 0h0m1 0h0m1 0h0m0.5 0h0m0.5 0h0m1 0h0m0.5 0h0m0.5 0h0m1 0h0m2.5 0h0m7 0h0m4.5 0h0m5.5 0h0m8.5 0h0m3 0h0m-42 0.5h0m1.5 0h0m2 0h0m2 0h0m1 0h0m1 0h0m1 0h0m10 0h0m8.5 0h0m8.5 0h0m0.5 0h0m5.5 0h0m-39 0.5h0m0.5 0h0m1.5 0h0m2 0h0m1 0h0m11.5 0h0m2 0h0m7 0h0m1.5 0h0m23.5 0h0m-51.5 0.5h0m0.5 0h0m1 0h0m2 0h0m0.5 0h0m0.5 0h0m1 0h0m0.5 0h0m0.5 0h0m2 0h0m5 0h0m0.5 0h0m11 0h0m1 0h0m4.5 0h0m0.5 0h0m2 0h0m7 0h0m-40.5 0.5h0m1 0h0m1 0h0m0.5 0h0m0.5 0h0m0.5 0h0m1 0h0m0.5 0h0m12 0h0m12 0h0m10 0h0m2.5 0h0m-42.5 0.5h0m1 0h0m2 0h0m1 0h0m0.5 0h0m0.5 0h0m0.5 0h0m2 0h0m2 0h0m0.5 0h0m1 0h0m3.5 0h0m2 0h0m12 0h0m29 0h0m-57.5 0.5h0m2 0h0m1 0h0m0.5 0h0m0.5 0h0m1 0h0m1.5 0h0m0.5 0h0m1 0h0m0.5 0h0m2 0h0m2.5 0h0m3 0h0m4 0h0m0.5 0h0m3.5 0h0m22.5 0h0m6 0h0m-51.5 0.5h0m0.5 0h0m0.5 0h0m1.5 0h0m0.5 0h0m3 0h0m10 0h0m5.5 0h0m8.5 0h0m5 0h0m-34 0.5h0m0.5 0h0m0.5 0h0m0.5 0h0m2 0h0m1.5 0h0m4.5 0h0m1 0h0m8 0h0m8 0h0m9.5 0h0m0.5 0h0m0.5 0h0m-40.5 0.5h0m3.5 0h0m0.5 0h0m0.5 0h0m1 0h0m0.5 0h0m2 0h0m0.5 0h0m0.5 0h0m5 0h0m1.5 0h0m14.5 0h0m1.5 0h0m18.5 0h0m1.5 0h0m1.5 0h0m-51 0.5h0m2.5 0h0m0.5 0h0m1 0h0m0.5 0h0m1.5 0h0m2 0h0m12 0h0m34 0h0m4.5 0h0m-61.5 0.5h0m4 0h0m0.5 0h0m1.5 0h0m4 0h0m1 0h0m1 0h0m6 0h0m1 0h0m4 0h0m5 0h0m20.5 0h0m1 0h0m-51 0.5h0m1.5 0h0m2 0h0m0.5 0h0m0.5 0h0m1 0h0m0.5 0h0m1 0h0m1 0h0m5.5 0h0m5 0h0m2.5 0h0m5 0h0m5 0h0m14.5 0h0m-41 0.5h0m3 0h0m0.5 0h0m2 0h0m5.5 0h0m9 0h0m-23.5 0.5h0m2.5 0h0m1.5 0h0m1.5 0h0m1.5 0h0m3 0h0m29.5 0h0m9 0h0m4.5 0h0m-52 0.5h0m2 0h0m0.5 0h0m0.5 0h0m0.5 0h0m1.5 0h0m0.5 0h0m2.5 0h0m-10.5 0.5h0m2.5 0h0m0.5 0h0m2 0h0m0.5 0h0m1.5 0h0m1 0h0m3.5 0h0m14 0h0m0.5 0h0m4 0h0m5 0h0m1.5 0h0m2 0h0m2 0h0m8.5 0h0m9.5 0h0m-57.5 0.5h0m0.5 0h0m0.5 0h0m0.5 0h0m0.5 0h0m0.5 0h0m2.5 0h0m1.5 0h0m3.5 0h0m2.5 0h0m1.5 0h0m3.5 0h0m1 0h0m11 0h0m-27.5 0.5h0m0.5 0h0m0.5 0h0m1.5 0h0m1 0h0m12.5 0h0m2.5 0h0m5.5 0h0m4.5 0h0m6 0h0m1 0h0m5.5 0h0m1 0h0m2.5 0h0m-45 0.5h0m1 0h0m1 0h0m1 0h0m0.5 0h0m0.5 0h0m0.5 0h0m10 0h0m5 0h0m5 0h0m0.5 0h0m6 0h0m11 0h0m-44 0.5h0m1 0h0m0.5 0h0m1.5 0h0m1 0h0m1.5 0h0m0.5 0h0m2 0h0m17 0h0m18 0h0m10 0h0m8 0h0m-59 0.5h0m0.5 0h0m1.5 0h0m0.5 0h0m1 0h0m7 0h0m3 0h0m14 0h0m-31 0.5h0m0.5 0h0m1.5 0h0m1.5 0h0m1 0h0m1 0h0m1 0h0m-3.5 0.5h0m1.5 0h0m2 0h0m3 0h0m-5.5 0.5h0m0.5 0h0m2.5 0h0m-3 0.5h0" stroke="#111" stroke-width="1.3" stroke-linecap="round" fill="none" opacity="1.0"/>
<path d="M384.5,301.8C381.2,298 384.2,283.8 384.5,278.8C384.8,273.8 385.1,273.6 386,271.8C386.9,270.1 388.5,269 390,268.3C391.5,267.6 393.3,267.6 395,267.6C396.7,267.6 398.6,267.7 400,268.3C401.4,268.9 402.7,269.7 403.5,271.3C404.3,272.9 404.8,274.6 405,277.8C405.2,281.1 405.1,286.8 405,290.8C404.9,294.8 407.9,300 404.5,301.8C401.1,303.6 387.8,305.6 384.5,301.8Z" fill="#f4f4f4" stroke="#555" stroke-width="0.6"/>
<path d="M385.7,300.2C382.8,296.9 385.5,284.4 385.7,280C385.9,275.6 386.2,275.4 387,273.8C387.8,272.3 389.2,271.4 390.5,270.8C391.9,270.1 393.5,270.1 394.9,270.1C396.4,270.1 398.1,270.2 399.3,270.8C400.6,271.3 401.7,272 402.4,273.4C403.2,274.8 403.5,276.3 403.7,279.1C404,282 403.8,287 403.7,290.6C403.7,294.1 406.3,298.6 403.3,300.2C400.3,301.9 388.6,303.6 385.7,300.2Z" fill="#dedede" stroke="#555" stroke-width="0.6"/>
<path d="M386.9,298.7C384.4,295.8 386.7,285 386.9,281.2C387.1,277.4 387.3,277.2 388,275.9C388.7,274.6 389.9,273.8 391.1,273.2C392.2,272.7 393.6,272.7 394.9,272.7C396.1,272.7 397.6,272.8 398.7,273.2C399.8,273.7 400.7,274.3 401.3,275.5C402,276.7 402.3,278 402.5,280.4C402.7,282.9 402.5,287.3 402.5,290.3C402.4,293.4 404.7,297.3 402.1,298.7C399.5,300.1 389.4,301.6 386.9,298.7Z" fill="#bbbbbb" stroke="#555" stroke-width="0.6"/>
<path d="M388.1,297.1C386,294.7 387.9,285.6 388.1,282.4C388.3,279.2 388.5,279 389.1,277.9C389.6,276.8 390.7,276.1 391.6,275.7C392.6,275.2 393.8,275.2 394.8,275.2C395.9,275.2 397.1,275.3 398,275.7C398.9,276.1 399.7,276.6 400.3,277.6C400.8,278.6 401.1,279.7 401.2,281.8C401.4,283.8 401.3,287.5 401.2,290.1C401.2,292.6 403.1,295.9 400.9,297.1C398.7,298.3 390.2,299.6 388.1,297.1Z" fill="#888" stroke="#555" stroke-width="0.6"/>
<path d="M389.3,295.6C387.6,293.6 389.2,286.2 389.3,283.6C389.4,281 389.6,280.9 390.1,280C390.6,279.1 391.4,278.5 392.2,278.1C392.9,277.8 393.9,277.8 394.8,277.8C395.6,277.8 396.6,277.8 397.4,278.1C398.1,278.5 398.7,278.9 399.2,279.7C399.6,280.5 399.8,281.4 400,283.1C400.1,284.8 400,287.8 400,289.8C399.9,291.9 401.5,294.6 399.7,295.6C397.9,296.5 391,297.6 389.3,295.6Z" fill="#555" stroke="#555" stroke-width="0.6"/>
<path d="M390.5,294C389.2,292.5 390.4,286.8 390.5,284.8C390.6,282.8 390.7,282.7 391.1,282C391.5,281.3 392.1,280.9 392.7,280.6C393.3,280.3 394,280.3 394.7,280.3C395.4,280.3 396.1,280.4 396.7,280.6C397.3,280.8 397.8,281.2 398.1,281.8C398.4,282.4 398.6,283.1 398.7,284.4C398.8,285.7 398.7,288 398.7,289.6C398.7,291.2 399.9,293.3 398.5,294C397.1,294.7 391.8,295.5 390.5,294Z" fill="#333" stroke="#555" stroke-width="0.6"/>
<path d="M391.7,292.4C390.8,291.4 391.6,287.4 391.7,286C391.8,284.6 391.9,284.5 392.1,284C392.4,283.6 392.8,283.3 393.2,283.1C393.7,282.9 394.2,282.9 394.6,282.9C395.1,282.9 395.6,282.9 396,283.1C396.4,283.2 396.8,283.5 397,283.9C397.3,284.3 397.4,284.8 397.4,285.7C397.5,286.6 397.5,288.2 397.4,289.4C397.4,290.5 398.3,291.9 397.3,292.4C396.3,293 392.6,293.5 391.7,292.4Z" fill="#2a2a2a" stroke="#555" stroke-width="0.6"/>
<path d="M392.9,290.9C392.4,290.3 392.9,288 392.9,287.2C392.9,286.4 393,286.4 393.1,286.1C393.3,285.8 393.5,285.6 393.8,285.5C394,285.4 394.3,285.4 394.6,285.4C394.8,285.4 395.2,285.4 395.4,285.5C395.6,285.6 395.8,285.7 395.9,286C396.1,286.3 396.1,286.5 396.2,287C396.2,287.6 396.2,288.5 396.2,289.1C396.2,289.8 396.6,290.6 396.1,290.9C395.6,291.2 393.4,291.5 392.9,290.9Z" fill="#3a3a3a" stroke="#555" stroke-width="0.6"/>
<path transform="translate(242.5,321.2)" d="M0 0m73 1h0m1 0h0m-6 0.5h0m2.5 0h0m0.5 0h0m1.5 0h0m12 0h0m-37 0.5h0m11.5 0h0m10.5 0h0m1 0h0m1.5 0h0m3.5 0h0m4 0h0m9.5 0h0m-24 0.5h0m9 0h0m1 0h0m2.5 0h0m4.5 0h0m7.5 0h0m-27.5 0.5h0m1 0h0m6.5 0h0m2.5 0h0m0.5 0h0m0.5 0h0m6 0h0m0.5 0h0m-27.5 0.5h0m11.5 0h0m1.5 0h0m3 0h0m8.5 0h0m-19 0.5h0m11.5 0h0m1.5 0h0m0.5 0h0m1 0h0m1 0h0m1.5 0h0m1 0h0m-5.5 0.5h0m1 0h0m0.5 0h0m5 0h0m6 0h0m3.5 0h0m-47 0.5h0m17.5 0h0m5.5 0h0m2 0h0m3 0h0m0.5 0h0m2.5 0h0m16 0h0m-33 0.5h0m2 0h0m9.5 0h0m9.5 0h0m0.5 0h0m0.5 0h0m1.5 0h0m2.5 0h0m10.5 0h0m-29.5 0.5h0m5.5 0h0m1.5 0h0m0.5 0h0m0.5 0h0m4.5 0h0m8 0h0m1 0h0m1 0h0m0.5 0h0m-52.5 0.5h0m9.5 0h0m21.5 0h0m1 0h0m4 0h0m0.5 0h0m0.5 0h0m1 0h0m1 0h0m5.5 0h0m-21.5 0.5h0m7.5 0h0m2 0h0m4 0h0m0.5 0h0m1.5 0h0m1 0h0m1.5 0h0m1.5 0h0m2 0h0m0.5 0h0m1 0h0m1.5 0h0m1 0h0m1.5 0h0m2.5 0h0m-40.5 0.5h0m10 0h0m6.5 0h0m5 0h0m0.5 0h0m1.5 0h0m2.5 0h0m4 0h0m1.5 0h0m1 0h0m0.5 0h0m6.5 0h0m3.5 0h0m-32 0.5h0m8.5 0h0m2.5 0h0m1 0h0m0.5 0h0m0.5 0h0m2 0h0m1 0h0m1 0h0m7 0h0m5.5 0h0m-27.5 0.5h0m0.5 0h0m6.5 0h0m2 0h0m1.5 0h0m0.5 0h0m4 0h0m1.5 0h0m0.5 0h0m3 0h0m1 0h0m-30 0.5h0m2.5 0h0m5.5 0h0m7.5 0h0m4 0h0m1 0h0m0.5 0h0m7.5 0h0m5 0h0m-30 0.5h0m3.5 0h0m0.5 0h0m4 0h0m2.5 0h0m4 0h0m0.5 0h0m6.5 0h0m1 0h0m1 0h0m2.5 0h0m0.5 0h0m0.5 0h0m2 0h0m0.5 0h0m-30.5 0.5h0m1.5 0h0m0.5 0h0m0.5 0h0m4.5 0h0m2 0h0m4 0h0m0.5 0h0m2 0h0m2.5 0h0m1 0h0m0.5 0h0m4 0h0m1 0h0m0.5 0h0m4.5 0h0m2 0h0m-32.5 0.5h0m4.5 0h0m2.5 0h0m2 0h0m0.5 0h0m2.5 0h0m0.5 0h0m0.5 0h0m1.5 0h0m2 0h0m0.5 0h0m1.5 0h0m1.5 0h0m3 0h0m7 0h0m2 0h0m-47.5 0.5h0m13 0h0m6 0h0m2 0h0m1.5 0h0m1 0h0m5.5 0h0m1 0h0m1 0h0m7.5 0h0m0.5 0h0m2 0h0m0.5 0h0m2.5 0h0m10 0h0m2 0h0m-53.5 0.5h0m13 0h0m6.5 0h0m4.5 0h0m5.5 0h0m13.5 0h0m2.5 0h0m3 0h0m-32.5 0.5h0m2.5 0h0m1 0h0m2.5 0h0m1.5 0h0m1 0h0m2 0h0m0.5 0h0m0.5 0h0m0.5 0h0m1.5 0h0m0.5 0h0m1.5 0h0m1 0h0m5.5 0h0m1 0h0m3 0h0m3 0h0m3.5 0h0m0.5 0h0m1.5 0h0m-49 0.5h0m10 0h0m1.5 0h0m0.5 0h0m1.5 0h0m1.5 0h0m1 0h0m3 0h0m4.5 0h0m0.5 0h0m1.5 0h0m0.5 0h0m0.5 0h0m1.5 0h0m2.5 0h0m0.5 0h0m1 0h0m1 0h0m5.5 0h0m2.5 0h0m1 0h0m-35 0.5h0m7 0h0m2 0h0m3 0h0m1 0h0m0.5 0h0m0.5 0h0m1 0h0m1.5 0h0m1 0h0m0.5 0h0m1 0h0m1 0h0m0.5 0h0m0.5 0h0m1 0h0m1.5 0h0m3 0h0m0.5 0h0m3 0h0m6 0h0m-46.5 0.5h0m8.5 0h0m1.5 0h0m7 0h0m2 0h0m2 0h0m1.5 0h0m0.5 0h0m0.5 0h0m0.5 0h0m0.5 0h0m1 0h0m0.5 0h0m0.5 0h0m0.5 0h0m0.5 0h0m0.5 0h0m1 0h0m0.5 0h0m2 0h0m0.5 0h0m0.5 0h0m6 0h0m1 0h0m1 0h0m0.5 0h0m4 0h0m2 0h0m-46 0.5h0m10.5 0h0m2 0h0m3 0h0m3 0h0m0.5 0h0m0.5 0h0m1 0h0m0.5 0h0m1 0h0m0.5 0h0m0.5 0h0m1.5 0h0m0.5 0h0m1 0h0m0.5 0h0m0.5 0h0m0.5 0h0m1 0h0m0.5 0h0m1.5 0h0m0.5 0h0m0.5 0h0m0.5 0h0m0.5 0h0m1 0h0m1.5 0h0m8.5 0h0m1 0h0m8.5 0h0m2.5 0h0m-53.5 0.5h0m7.5 0h0m1 0h0m3 0h0m2.5 0h0m0.5 0h0m1 0h0m3 0h0m0.5 0h0m1 0h0m0.5 0h0m1 0h0m1 0h0m6 0h0m2.5 0h0m3.5 0h0m5 0h0m-37.5 0.5h0m8.5 0h0m1 0h0m0.5 0h0m1.5 0h0m0.5 0h0m1.5 0h0m0.5 0h0m1 0h0m1.5 0h0m0.5 0h0m0.5 0h0m1 0h0m4 0h0m3.5 0h0m1 0h0m0.5 0h0m1.5 0h0m7 0h0m5.5 0h0m-43 0.5h0m3 0h0m4.5 0h0m1.5 0h0m3 0h0m2 0h0m0.5 0h0m1 0h0m0.5 0h0m0.5 0h0m0.5 0h0m0.5 0h0m0.5 0h0m0.5 0h0m0.5 0h0m1 0h0m8 0h0m0.5 0h0m0.5 0h0m0.5 0h0m0.5 0h0m0.5 0h0m0.5 0h0m3.5 0h0m0.5 0h0m9 0h0m-43 0.5h0m2 0h0m1 0h0m2.5 0h0m1 0h0m1.5 0h0m2.5 0h0m0.5 0h0m0.5 0h0m2.5 0h0m0.5 0h0m0.5 0h0m0.5 0h0m0.5 0h0m2 0h0m10 0h0m0.5 0h0m1 0h0m0.5 0h0m0.5 0h0m4 0h0m2.5 0h0m3.5 0h0m6 0h0m-44.5 0.5h0m1.5 0h0m2.5 0h0m2 0h0m0.5 0h0m1.5 0h0m0.5 0h0m1 0h0m1.5 0h0m0.5 0h0m1 0h0m0.5 0h0m0.5 0h0m13 0h0m0.5 0h0m0.5 0h0m1 0h0m3 0h0m0.5 0h0m5.5 0h0m0.5 0h0m-46.5 0.5h0m5 0h0m3 0h0m3.5 0h0m1 0h0m1 0h0m2.5 0h0m1 0h0m2.5 0h0m0.5 0h0m1 0h0m0.5 0h0m0.5 0h0m0.5 0h0m13 0h0m0.5 0h0m2 0h0m3.5 0h0m3 0h0m-41 0.5h0m1 0h0m1.5 0h0m2.5 0h0m0.5 0h0m1.5 0h0m2 0h0m0.5 0h0m1.5 0h0m1 0h0m1 0h0m2.5 0h0m1 0h0m0.5 0h0m12.5 0h0m2.5 0h0m2.5 0h0m1.5 0h0m2 0h0m6 0h0m-45 0.5h0m1 0h0m5.5 0h0m1 0h0m0.5 0h0m1.5 0h0m0.5 0h0m3 0h0m0.5 0h0m0.5 0h0m1 0h0m0.5 0h0m0.5 0h0m0.5 0h0m17.5 0h0m0.5 0h0m1 0h0m0.5 0h0m1.5 0h0m1.5 0h0m2.5 0h0m-41.5 0.5h0m3 0h0m1 0h0m3.5 0h0m1.5 0h0m1 0h0m1 0h0m0.5 0h0m1 0h0m1 0h0m0.5 0h0m1 0h0m0.5 0h0m0.5 0h0m0.5 0h0m17.5 0h0m0.5 0h0m4.5 0h0m0.5 0h0m4.5 0h0m-48 0.5h0m1.5 0h0m4 0h0m0.5 0h0m7 0h0m1 0h0m1.5 0h0m1.5 0h0m0.5 0h0m0.5 0h0m1 0h0m0.5 0h0m20.5 0h0m0.5 0h0m2.5 0h0m-41 0.5h0m5 0h0m3.5 0h0m3 0h0m0.5 0h0m0.5 0h0m0.5 0h0m1 0h0m1.5 0h0m0.5 0h0m20 0h0m3 0h0m3.5 0h0m6 0h0m-46 0.5h0m4.5 0h0m2.5 0h0m0.5 0h0m1.5 0h0m0.5 0h0m0.5 0h0m0.5 0h0m0.5 0h0m0.5 0h0m0.5 0h0m0.5 0h0m21 0h0m0.5 0h0m0.5 0h0m0.5 0h0m0.5 0h0m1.5 0h0m3.5 0h0m-42 0.5h0m4 0h0m5 0h0m0.5 0h0m0.5 0h0m0.5 0h0m0.5 0h0m0.5 0h0m0.5 0h0m1 0h0m22.5 0h0m0.5 0h0m2 0h0m0.5 0h0m2 0h0m-45.5 0.5h0m8.5 0h0m1.5 0h0m1 0h0m3 0h0m0.5 0h0m0.5 0h0m0.5 0h0m1 0h0m1 0h0m23 0h0m1.5 0h0m0.5 0h0m1.5 0h0m0.5 0h0m0.5 0h0m1 0h0m0.5 0h0m3 0h0m-39.5 0.5h0m0.5 0h0m0.5 0h0m1.5 0h0m0.5 0h0m0.5 0h0m1 0h0m1.5 0h0m24 0h0m1.5 0h0m1 0h0m0.5 0h0m1 0h0m2 0h0m1 0h0m1 0h0m-47 0.5h0m2 0h0m1.5 0h0m5.5 0h0m0.5 0h0m2 0h0m1 0h0m0.5 0h0m0.5 0h0m1 0h0m0.5 0h0m24 0h0m1.5 0h0m0.5 0h0m1 0h0m0.5 0h0m0.5 0h0m0.5 0h0m1.5 0h0m1.5 0h0m-46.5 0.5h0m1 0h0m3 0h0m2 0h0m1.5 0h0m1 0h0m2 0h0m1 0h0m2 0h0m26 0h0m0.5 0h0m1 0h0m0.5 0h0m0.5 0h0m0.5 0h0m7.5 0h0m-46 0.5h0m3.5 0h0m1.5 0h0m1 0h0m0.5 0h0m28 0h0m0.5 0h0m1.5 0h0m0.5 0h0m1 0h0m3.5 0h0m1.5 0h0m3.5 0h0m-45.5 0.5h0m2 0h0m1.5 0h0m0.5 0h0m0.5 0h0m0.5 0h0m0.5 0h0m2 0h0m26 0h0m1.5 0h0m1.5 0h0m1 0h0m2 0h0m1.5 0h0m-44.5 0.5h0m1.5 0h0m2 0h0m0.5 0h0m0.5 0h0m1 0h0m0.5 0h0m0.5 0h0m1 0h0m1 0h0m0.5 0h0m1.5 0h0m27.5 0h0m1 0h0m0.5 0h0m5 0h0m-42 0.5h0m0.5 0h0m4 0h0m0.5 0h0m1.5 0h0m1 0h0m24.5 0h0m4.5 0h0m0.5 0h0m0.5 0h0m0.5 0h0m1 0h0m-40 0.5h0m3 0h0m0.5 0h0m0.5 0h0m1 0h0m1 0h0m0.5 0h0m26.5 0h0m2 0h0m1.5 0h0m0.5 0h0m1.5 0h0m0.5 0h0m0.5 0h0m2 0h0m3 0h0m2.5 0h0m-46 0.5h0m1.5 0h0m0.5 0h0m0.5 0h0m2 0h0m0.5 0h0m30 0h0m2.5 0h0m1 0h0m1.5 0h0m3.5 0h0m-53.5 0.5h0m4.5 0h0m5.5 0h0m1.5 0h0m0.5 0h0m0.5 0h0m0.5 0h0m31.5 0h0m4.5 0h0m0.5 0h0m1.5 0h0m2.5 0h0m-53.5 0.5h0m10 0h0m0.5 0h0m1 0h0m0.5 0h0m1 0h0m0.5 0h0m0.5 0h0m0.5 0h0m26.5 0h0m1 0h0m4.5 0h0m3 0h0m0.5 0h0m0.5 0h0m0.5 0h0m2 0h0m0.5 0h0m-54.5 0.5h0m12.5 0h0m0.5 0h0m0.5 0h0m0.5 0h0m1 0h0m33.5 0h0m1 0h0m0.5 0h0m0.5 0h0m0.5 0h0m0.5 0h0m1 0h0m-46.5 0.5h0m4.5 0h0m0.5 0h0m0.5 0h0m1 0h0m1 0h0m28 0h0m1.5 0h0m0.5 0h0m0.5 0h0m0.5 0h0m3.5 0h0m2 0h0m-45.5 0.5h0m1.5 0h0m3.5 0h0m3 0h0m1 0h0m30.5 0h0m5 0h0m2 0h0m4 0h0m-52 0.5h0m1 0h0m5.5 0h0m1 0h0m0.5 0h0m0.5 0h0m1 0h0m0.5 0h0m0.5 0h0m29 0h0m0.5 0h0m0.5 0h0m0.5 0h0m0.5 0h0m1 0h0m4 0h0m1.5 0h0m1.5 0h0m-49 0.5h0m5 0h0m1.5 0h0m1 0h0m30 0h0m2.5 0h0m2.5 0h0m3 0h0m0.5 0h0m-54 0.5h0m9.5 0h0m3 0h0m2.5 0h0m0.5 0h0m29.5 0h0m1.5 0h0m3 0h0m3 0h0m1 0h0m0.5 0h0m0.5 0h0m0.5 0h0m0.5 0h0m0.5 0h0m2 0h0m2 0h0m3.5 0h0m-62.5 0.5h0m10 0h0m0.5 0h0m3 0h0m0.5 0h0m0.5 0h0m0.5 0h0m0.5 0h0m0.5 0h0m27.5 0h0m9 0h0m4.5 0h0m-52.5 0.5h0m5 0h0m0.5 0h0m1.5 0h0m0.5 0h0m0.5 0h0m1 0h0m0.5 0h0m1 0h0m0.5 0h0m28.5 0h0m3 0h0m2 0h0m3.5 0h0m1.5 0h0m2.5 0h0m0.5 0h0m3 0h0m7 0h0m-58.5 0.5h0m1 0h0m3 0h0m0.5 0h0m0.5 0h0m0.5 0h0m1 0h0m30 0h0m8.5 0h0m1.5 0h0m0.5 0h0m0.5 0h0m0.5 0h0m0.5 0h0m1 0h0m1 0h0m0.5 0h0m3 0h0m-69.5 0.5h0m11 0h0m6.5 0h0m1 0h0m1 0h0m1 0h0m0.5 0h0m0.5 0h0m38 0h0m1 0h0m1 0h0m0.5 0h0m1 0h0m2 0h0m2 0h0m0.5 0h0m-50.5 0.5h0m1 0h0m1 0h0m0.5 0h0m1.5 0h0m1 0h0m31.5 0h0m8 0h0m3 0h0m0.5 0h0m1 0h0m-49.5 0.5h0m1 0h0m2 0h0m0.5 0h0m0.5 0h0m0.5 0h0m32.5 0h0m7 0h0m0.5 0h0m3 0h0m0.5 0h0m0.5 0h0m1.5 0h0m-52.5 0.5h0m1 0h0m0.5 0h0m1.5 0h0m1.5 0h0m0.5 0h0m0.5 0h0m1.5 0h0m39 0h0m1 0h0m0.5 0h0m2 0h0m1 0h0m1 0h0m0.5 0h0m-49 0.5h0m1 0h0m0.5 0h0m1.5 0h0m1 0h0m38.5 0h0m0.5 0h0m0.5 0h0m0.5 0h0m1.5 0h0m0.5 0h0m2.5 0h0m-50.5 0.5h0m3.5 0h0m0.5 0h0m0.5 0h0m0.5 0h0m1 0h0m37 0h0m5 0h0m2 0h0m1.5 0h0m2 0h0m2 0h0m-55 0.5h0m1.5 0h0m2 0h0m1.5 0h0m0.5 0h0m40.5 0h0m1 0h0m1.5 0h0m0.5 0h0m0.5 0h0m2.5 0h0m2 0h0m-55 0.5h0m1 0h0m0.5 0h0m2 0h0m0.5 0h0m1 0h0m0.5 0h0m1 0h0m33.5 0h0m7 0h0m1.5 0h0m2 0h0m0.5 0h0m0.5 0h0m0.5 0h0m-54 0.5h0m3 0h0m0.5 0h0m1 0h0m0.5 0h0m1.5 0h0m2 0h0m39.5 0h0m1.5 0h0m0.5 0h0m0.5 0h0m1 0h0m0.5 0h0m0.5 0h0m0.5 0h0m2.5 0h0m-55 0.5h0m2.5 0h0m3.5 0h0m0.5 0h0m1.5 0h0m40.5 0h0m1 0h0m7.5 0h0m-61 0.5h0m5 0h0m2.5 0h0m1 0h0m1 0h0m1 0h0m0.5 0h0m41.5 0h0m1 0h0m1 0h0m0.5 0h0m2.5 0h0m19.5 0h0m-71 0.5h0m47.5 0h0m0.5 0h0m3 0h0m1.5 0h0m0.5 0h0m3 0h0m4.5 0h0m-61.5 0.5h0m2.5 0h0m1 0h0m0.5 0h0m0.5 0h0m0.5 0h0m0.5 0h0m0.5 0h0m0.5 0h0m41.5 0h0m0.5 0h0m1 0h0m0.5 0h0m0.5 0h0m0.5 0h0m1.5 0h0m2 0h0m0.5 0h0m3 0h0m-57.5 0.5h0m3 0h0m0.5 0h0m0.5 0h0m0.5 0h0m0.5 0h0m0.5 0h0m42 0h0m0.5 0h0m0.5 0h0m3.5 0h0m2 0h0m0.5 0h0m3.5 0h0m-57.5 0.5h0m2 0h0m0.5 0h0m2 0h0m0.5 0h0m0.5 0h0m44 0h0m1 0h0m0.5 0h0m14 0h0m-72 0.5h0m10.5 0h0m0.5 0h0m0.5 0h0m0.5 0h0m43.5 0h0m0.5 0h0m3 0h0m2 0h0m-58.5 0.5h0m2.5 0h0m3 0h0m48 0h0m1 0h0m0.5 0h0m0.5 0h0m0.5 0h0m2.5 0h0m4.5 0h0m-70.5 0.5h0m11 0h0m3.5 0h0m1.5 0h0m0.5 0h0m0.5 0h0m44 0h0m1.5 0h0m0.5 0h0m3 0h0m-51 0.5h0m0.5 0h0m46 0h0m1 0h0m0.5 0h0m1.5 0h0m0.5 0h0m0.5 0h0m1 0h0m-55 0.5h0m4 0h0m47 0h0m1.5 0h0m0.5 0h0m-74.5 0.5h0m15.5 0h0m2 0h0m1 0h0m2.5 0h0m1 0h0m0.5 0h0m0.5 0h0m1.5 0h0m0.5 0h0m1 0h0m46.5 0h0m0.5 0h0m2 0h0m1.5 0h0m0.5 0h0m2 0h0m7 0h0m-78.5 0.5h0m12.5 0h0m0.5 0h0m3 0h0m0.5 0h0m47.5 0h0m0.5 0h0m0.5 0h0m2.5 0h0m4.5 0h0m-66 0.5h0m5.5 0h0m3.5 0h0m0.5 0h0m1 0h0m1.5 0h0m0.5 0h0m0.5 0h0m45 0h0m1 0h0m0.5 0h0m5 0h0m3.5 0h0m-70 0.5h0m2.5 0h0m3.5 0h0m0.5 0h0m3 0h0m1.5 0h0m0.5 0h0m0.5 0h0m0.5 0h0m1 0h0m46.5 0h0m0.5 0h0m0.5 0h0m6.5 0h0m-60 0.5h0m2.5 0h0m1 0h0m0.5 0h0m0.5 0h0m1 0h0m0.5 0h0m0.5 0h0m1 0h0m45.5 0h0m8.5 0h0m-65 0.5h0m2 0h0m0.5 0h0m4 0h0m3 0h0m1 0h0m0.5 0h0m44.5 0h0m1.5 0h0m0.5 0h0m0.5 0h0m1 0h0m0.5 0h0m1 0h0m1 0h0m1 0h0m-63 0.5h0m2.5 0h0m0.5 0h0m2 0h0m2 0h0m0.5 0h0m1.5 0h0m0.5 0h0m1 0h0m46.5 0h0m0.5 0h0m1.5 0h0m0.5 0h0m1 0h0m1 0h0m0.5 0h0m1.5 0h0m5 0h0m-73 0.5h0m6 0h0m0.5 0h0m2 0h0m2 0h0m1 0h0m0.5 0h0m0.5 0h0m49.5 0h0m3.5 0h0m1 0h0m0.5 0h0m-58 0.5h0m1 0h0m1.5 0h0m2.5 0h0m1 0h0m47 0h0m0.5 0h0m1.5 0h0m0.5 0h0m0.5 0h0m1.5 0h0m6 0h0m-65 0.5h0m0.5 0h0m2 0h0m0.5 0h0m4 0h0m0.5 0h0m48 0h0m2.5 0h0m1.5 0h0m-76 0.5h0m12.5 0h0m1.5 0h0m1.5 0h0m2 0h0m6 0h0m49 0h0m6 0h0m2.5 0h0m-67 0.5h0m5.5 0h0m1.5 0h0m0.5 0h0m0.5 0h0m1 0h0m1 0h0m48.5 0h0m3 0h0m1.5 0h0m-69.5 0.5h0m9.5 0h0m1.5 0h0m0.5 0h0m2.5 0h0m1.5 0h0m1 0h0m0.5 0h0m48 0h0m0.5 0h0m0.5 0h0m0.5 0h0m1.5 0h0m0.5 0h0m5 0h0m2.5 0h0m-66 0.5h0m2.5 0h0m2.5 0h0m0.5 0h0m49 0h0m1 0h0m1 0h0m1 0h0m1.5 0h0m3.5 0h0m-73 0.5h0m0.5 0h0m2.5 0h0m1.5 0h0m1.5 0h0m5 0h0m1 0h0m0.5 0h0m1 0h0m2.5 0h0m1 0h0m48.5 0h0m1.5 0h0m0.5 0h0m2.5 0h0m4 0h0m0.5 0h0m-62.5 0.5h0m1 0h0m2 0h0m0.5 0h0m0.5 0h0m49 0h0m1 0h0m1 0h0m2.5 0h0m3 0h0m-75.5 0.5h0m11.5 0h0m2.5 0h0m1.5 0h0m1 0h0m0.5 0h0m0.5 0h0m1.5 0h0m50.5 0h0m0.5 0h0m1 0h0m1 0h0m1 0h0m0.5 0h0m1.5 0h0m2 0h0m2.5 0h0m-69.5 0.5h0m1 0h0m1 0h0m2 0h0m2 0h0m0.5 0h0m0.5 0h0m0.5 0h0m1 0h0m1.5 0h0m48.5 0h0m2 0h0m2 0h0m1 0h0m0.5 0h0m0.5 0h0m3 0h0m-69 0.5h0m2.5 0h0m0.5 0h0m0.5 0h0m1 0h0m0.5 0h0m1 0h0m0.5 0h0m0.5 0h0m1.5 0h0m0.5 0h0m3 0h0m48 0h0m1 0h0m1 0h0m2 0h0m7 0h0m-78 0.5h0m7 0h0m0.5 0h0m0.5 0h0m3.5 0h0m0.5 0h0m3 0h0m0.5 0h0m1 0h0m0.5 0h0m1 0h0m0.5 0h0m53.5 0h0m1.5 0h0m-65 0.5h0m0.5 0h0m3 0h0m3.5 0h0m0.5 0h0m0.5 0h0m2 0h0m0.5 0h0m49 0h0m0.5 0h0m2 0h0m0.5 0h0m-66.5 0.5h0m6 0h0m1.5 0h0m1.5 0h0m1 0h0m1.5 0h0m0.5 0h0m0.5 0h0m0.5 0h0m1 0h0m51.5 0h0m0.5 0h0m1.5 0h0m0.5 0h0m1 0h0m-73 0.5h0m2 0h0m6.5 0h0m3.5 0h0m2 0h0m1 0h0m1.5 0h0m0.5 0h0m0.5 0h0m0.5 0h0m49.5 0h0m0.5 0h0m1.5 0h0m0.5 0h0m0.5 0h0m0.5 0h0m2 0h0m0.5 0h0m-82.5 0.5h0m18 0h0m1 0h0m5 0h0m0.5 0h0m1 0h0m0.5 0h0m0.5 0h0m0.5 0h0m50.5 0h0m1 0h0m1 0h0m0.5 0h0m0.5 0h0m-75 0.5h0m11 0h0m1.5 0h0m3.5 0h0m2 0h0m0.5 0h0m1 0h0m1.5 0h0m0.5 0h0m50 0h0m1 0h0m0.5 0h0m0.5 0h0m0.5 0h0m1 0h0m-60.5 0.5h0m0.5 0h0m4 0h0m1 0h0m0.5 0h0m1 0h0m50 0h0m-56.5 0.5h0m0.5 0h0m1.5 0h0m2 0h0m1.5 0h0m0.5 0h0m0.5 0h0m0.5 0h0m51.5 0h0m2.5 0h0m-77 0.5h0m16.5 0h0m2 0h0m0.5 0h0m0.5 0h0m1 0h0m1 0h0m0.5 0h0m53 0h0m0.5 0h0m-57.5 0.5h0m0.5 0h0m2 0h0m0.5 0h0m0.5 0h0m0.5 0h0m51.5 0h0m1 0h0m0.5 0h0m2 0h0m-69.5 0.5h0m11 0h0m2 0h0m0.5 0h0m1 0h0m1 0h0m50.5 0h0m1 0h0m0.5 0h0m0.5 0h0m-67.5 0.5h0m6.5 0h0m0.5 0h0m1 0h0m1 0h0m1.5 0h0m1 0h0m0.5 0h0m1.5 0h0m0.5 0h0m0.5 0h0m51.5 0h0m1 0h0m1 0h0m0.5 0h0m3.5 0h0m-69 0.5h0m4 0h0m1.5 0h0m1 0h0m1 0h0m0.5 0h0m0.5 0h0m2.5 0h0m0.5 0h0m51.5 0h0m1.5 0h0m2.5 0h0m2 0h0m3.5 0h0m-71.5 0.5h0m4 0h0m1 0h0m0.5 0h0m1 0h0m0.5 0h0m0.5 0h0m1.5 0h0m1.5 0h0m0.5 0h0m51 0h0m1 0h0m1 0h0m2.5 0h0m-57 0.5h0m52 0h0m1 0h0m0.5 0h0m2 0h0m0.5 0h0m1.5 0h0m-60 0.5h0m2 0h0m1.5 0h0m51 0h0m1 0h0m1.5 0h0m4 0h0m-66.5 0.5h0m5 0h0m55 0h0m0.5 0h0m1.5 0h0m0.5 0h0m0.5 0h0m0.5 0h0m3 0h0m2.5 0h0m-62.5 0.5h0m53.5 0h0m0.5 0h0m1 0h0m2.5 0h0m1.5 0h0m-60 0.5h0m54 0h0m0.5 0h0m0.5 0h0m1 0h0m2.5 0h0m0.5 0h0m1.5 0h0m5 0h0m-68.5 0.5h0m2 0h0m1.5 0h0m54 0h0m1 0h0m0.5 0h0m2.5 0h0m4 0h0m-64.5 0.5h0m3.5 0h0m1 0h0m51.5 0h0m0.5 0h0m0.5 0h0m0.5 0h0m0.5 0h0m0.5 0h0m0.5 0h0m4 0h0m2.5 0h0m-69 0.5h0m2 0h0m0.5 0h0m0.5 0h0m1.5 0h0m0.5 0h0m1 0h0m1 0h0m0.5 0h0m52.5 0h0m2.5 0h0m-58.5 0.5h0m0.5 0h0m1.5 0h0m1.5 0h0m1 0h0m1.5 0h0m50.5 0h0m6.5 0h0m-65.5 0.5h0m1 0h0m2 0h0m0.5 0h0m1.5 0h0m2 0h0m1 0h0m51 0h0m1 0h0m0.5 0h0m1.5 0h0m1.5 0h0m3 0h0m-72 0.5h0m5.5 0h0m0.5 0h0m3 0h0m1 0h0m1.5 0h0m1.5 0h0m1 0h0m48.5 0h0m0.5 0h0m0.5 0h0m0.5 0h0m1.5 0h0m1 0h0m-66 0.5h0m3 0h0m2.5 0h0m2 0h0m3 0h0m0.5 0h0m50 0h0m1 0h0m1 0h0m2 0h0m0.5 0h0m1.5 0h0m0.5 0h0m3 0h0m0.5 0h0m-69 0.5h0m2 0h0m0.5 0h0m1.5 0h0m0.5 0h0m0.5 0h0m0.5 0h0m0.5 0h0m0.5 0h0m0.5 0h0m3.5 0h0m47.5 0h0m0.5 0h0m0.5 0h0m0.5 0h0m1 0h0m0.5 0h0m0.5 0h0m9 0h0m-70 0.5h0m2 0h0m0.5 0h0m1 0h0m0.5 0h0m1 0h0m0.5 0h0m0.5 0h0m1 0h0m2 0h0m0.5 0h0m48.5 0h0m1 0h0m0.5 0h0m0.5 0h0m4.5 0h0m-70 0.5h0m3.5 0h0m2.5 0h0m1 0h0m1 0h0m0.5 0h0m0.5 0h0m0.5 0h0m0.5 0h0m2.5 0h0m0.5 0h0m0.5 0h0m2.5 0h0m39 0h0m8.5 0h0m1 0h0m0.5 0h0m2 0h0m2.5 0h0m-69 0.5h0m2.5 0h0m1.5 0h0m1 0h0m2 0h0m0.5 0h0m0.5 0h0m0.5 0h0m0.5 0h0m0.5 0h0m0.5 0h0m0.5 0h0m1.5 0h0m0.5 0h0m0.5 0h0m0.5 0h0m1 0h0m1.5 0h0m2.5 0h0m44.5 0h0m0.5 0h0m0.5 0h0m1 0h0m0.5 0h0m0.5 0h0m1.5 0h0m1 0h0m1.5 0h0m-69.5 0.5h0m2.5 0h0m2 0h0m1.5 0h0m0.5 0h0m0.5 0h0m1 0h0m2 0h0m1.5 0h0m1 0h0m0.5 0h0m1 0h0m0.5 0h0m5 0h0m1 0h0m1.5 0h0m2.5 0h0m2 0h0m8.5 0h0m0.5 0h0m6.5 0h0m5 0h0m8.5 0h0m0.5 0h0m7.5 0h0m2 0h0m8.5 0h0m-75.5 0.5h0m0.5 0h0m3.5 0h0m1 0h0m3 0h0m0.5 0h0m0.5 0h0m0.5 0h0m0.5 0h0m0.5 0h0m0.5 0h0m0.5 0h0m1 0h0m0.5 0h0m0.5 0h0m1 0h0m0.5 0h0m1.5 0h0m0.5 0h0m1 0h0m0.5 0h0m0.5 0h0m0.5 0h0m1 0h0m1 0h0m0.5 0h0m4 0h0m0.5 0h0m1 0h0m0.5 0h0m3 0h0m1 0h0m1.5 0h0m1 0h0m0.5 0h0m1 0h0m0.5 0h0m0.5 0h0m1.5 0h0m1 0h0m1 0h0m2 0h0m1.5 0h0m1 0h0m1 0h0m0.5 0h0m1 0h0m2 0h0m1.5 0h0m1 0h0m1 0h0m0.5 0h0m0.5 0h0m0.5 0h0m1 0h0m0.5 0h0m0.5 0h0m0.5 0h0m0.5 0h0m1 0h0m0.5 0h0m0.5 0h0m1 0h0m4.5 0h0m0.5 0h0m4.5 0h0m-65 0.5h0m0.5 0h0m1 0h0m1.5 0h0m1 0h0m0.5 0h0m0.5 0h0m0.5 0h0m0.5 0h0m0.5 0h0m0.5 0h0m0.5 0h0m0.5 0h0m1.5 0h0m1.5 0h0m0.5 0h0m1 0h0m0.5 0h0m0.5 0h0m0.5 0h0m1.5 0h0m1 0h0m1 0h0m0.5 0h0m0.5 0h0m1.5 0h0m0.5 0h0m0.5 0h0m1.5 0h0m1 0h0m0.5 0h0m2.5 0h0m0.5 0h0m0.5 0h0m0.5 0h0m0.5 0h0m1 0h0m0.5 0h0m0.5 0h0m1 0h0m0.5 0h0m1 0h0m0.5 0h0m1 0h0m1.5 0h0m0.5 0h0m0.5 0h0m0.5 0h0m0.5 0h0m3.5 0h0m0.5 0h0m0.5 0h0m0.5 0h0m0.5 0h0m0.5 0h0m1 0h0m0.5 0h0m0.5 0h0m0.5 0h0m1 0h0m1.5 0h0m0.5 0h0m0.5 0h0m4 0h0m0.5 0h0m18 0h0m-80 0.5h0m7 0h0m4 0h0m0.5 0h0m0.5 0h0m0.5 0h0m1 0h0m0.5 0h0m0.5 0h0m0.5 0h0m2.5 0h0m1 0h0m1.5 0h0m1 0h0m0.5 0h0m2 0h0m1 0h0m1 0h0m0.5 0h0m1 0h0m0.5 0h0m0.5 0h0m2 0h0m1 0h0m1.5 0h0m1 0h0m0.5 0h0m0.5 0h0m0.5 0h0m1 0h0m1.5 0h0m0.5 0h0m2 0h0m0.5 0h0m1.5 0h0m1 0h0m4.5 0h0m0.5 0h0m1 0h0m0.5 0h0m1 0h0m1 0h0m1 0h0m0.5 0h0m0.5 0h0m2.5 0h0m2 0h0m3 0h0m2.5 0h0m-61 0.5h0m2 0h0m0.5 0h0m0.5 0h0m0.5 0h0m1 0h0m1.5 0h0m0.5 0h0m0.5 0h0m0.5 0h0m1.5 0h0m0.5 0h0m0.5 0h0m1 0h0m1 0h0m2.5 0h0m1 0h0m0.5 0h0m1.5 0h0m1.5 0h0m0.5 0h0m2 0h0m0.5 0h0m0.5 0h0m2 0h0m3 0h0m1 0h0m1 0h0m1 0h0m0.5 0h0m0.5 0h0m0.5 0h0m1 0h0m3 0h0m1 0h0m0.5 0h0m0.5 0h0m0.5 0h0m0.5 0h0m2 0h0m1 0h0m2.5 0h0m1.5 0h0m0.5 0h0m1 0h0m0.5 0h0m1 0h0m4 0h0m0.5 0h0m2 0h0m0.5 0h0m0.5 0h0m0.5 0h0m1 0h0m1 0h0m0.5 0h0m13.5 0h0m-71 0.5h0m1.5 0h0m0.5 0h0m1.5 0h0m0.5 0h0m0.5 0h0m0.5 0h0m1.5 0h0m0.5 0h0m0.5 0h0m1 0h0m1 0h0m0.5 0h0m1.5 0h0m0.5 0h0m0.5 0h0m5 0h0m0.5 0h0m2.5 0h0m2 0h0m0.5 0h0m1 0h0m2 0h0m2 0h0m0.5 0h0m2 0h0m0.5 0h0m1.5 0h0m0.5 0h0m0.5 0h0m1 0h0m0.5 0h0m0.5 0h0m3 0h0m2 0h0m1 0h0m0.5 0h0m0.5 0h0m0.5 0h0m1.5 0h0m6 0h0m4.5 0h0m2.5 0h0m15 0h0m-73.5 0.5h0m1 0h0m0.5 0h0m1.5 0h0m1.5 0h0m0.5 0h0m1.5 0h0m0.5 0h0m1 0h0m0.5 0h0m0.5 0h0m0.5 0h0m1 0h0m0.5 0h0m0.5 0h0m0.5 0h0m3 0h0m1 0h0m1.5 0h0m0.5 0h0m1 0h0m0.5 0h0m1 0h0m0.5 0h0m0.5 0h0m1.5 0h0m1 0h0m1 0h0m5.5 0h0m1 0h0m1 0h0m0.5 0h0m0.5 0h0m0.5 0h0m1.5 0h0m0.5 0h0m1 0h0m1.5 0h0m1 0h0m3.5 0h0m1.5 0h0m3.5 0h0m1 0h0m1 0h0m1 0h0m1 0h0m1 0h0m1 0h0m2.5 0h0m0.5 0h0m0.5 0h0m13 0h0m-74 0.5h0m1.5 0h0m1 0h0m1 0h0m0.5 0h0m1.5 0h0m1 0h0m0.5 0h0m0.5 0h0m0.5 0h0m0.5 0h0m1 0h0m2.5 0h0m2 0h0m0.5 0h0m2 0h0m1 0h0m1 0h0m1.5 0h0m2.5 0h0m0.5 0h0m2 0h0m1 0h0m1.5 0h0m3.5 0h0m2 0h0m2 0h0m1 0h0m1.5 0h0m3 0h0m3 0h0m0.5 0h0m0.5 0h0m1.5 0h0m0.5 0h0m1.5 0h0m3 0h0m1 0h0m2 0h0m2 0h0m2.5 0h0m0.5 0h0m0.5 0h0m0.5 0h0m-57.5 0.5h0m2 0h0m1 0h0m1 0h0m0.5 0h0m1 0h0m0.5 0h0m0.5 0h0m0.5 0h0m0.5 0h0m4 0h0m2 0h0m1.5 0h0m0.5 0h0m0.5 0h0m2 0h0m0.5 0h0m0.5 0h0m1.5 0h0m0.5 0h0m0.5 0h0m9 0h0m0.5 0h0m0.5 0h0m0.5 0h0m4.5 0h0m2 0h0m7 0h0m0.5 0h0m1 0h0m1.5 0h0m2.5 0h0m0.5 0h0m2 0h0m3 0h0m2.5 0h0m1.5 0h0m-60 0.5h0m2.5 0h0m0.5 0h0m0.5 0h0m1 0h0m0.5 0h0m5.5 0h0m1 0h0m0.5 0h0m2.5 0h0m3.5 0h0m1 0h0m0.5 0h0m4.5 0h0m5.5 0h0m4.5 0h0m0.5 0h0m2.5 0h0m0.5 0h0m5 0h0m1 0h0m3 0h0m0.5 0h0m0.5 0h0m1 0h0m0.5 0h0m1.5 0h0m1.5 0h0m2 0h0m3 0h0m-56.5 0.5h0m1 0h0m0.5 0h0m1.5 0h0m0.5 0h0m0.5 0h0m0.5 0h0m8.5 0h0m2 0h0m6.5 0h0m1 0h0m2 0h0m3.5 0h0m1 0h0m0.5 0h0m2.5 0h0m2 0h0m0.5 0h0m0.5 0h0m2.5 0h0m3.5 0h0m4.5 0h0m1.5 0h0m0.5 0h0m0.5 0h0m0.5 0h0m1 0h0m0.5 0h0m1.5 0h0m4.5 0h0m0.5 0h0m5.5 0h0m-65.5 0.5h0m1.5 0h0m2.5 0h0m1.5 0h0m1.5 0h0m1 0h0m10.5 0h0m3.5 0h0m1 0h0m1 0h0m3.5 0h0m2.5 0h0m2.5 0h0m1.5 0h0m0.5 0h0m1.5 0h0m2.5 0h0m2 0h0m5.5 0h0m1.5 0h0m3 0h0m6.5 0h0m2 0h0m3.5 0h0m2 0h0m-63.5 0.5h0m2 0h0m0.5 0h0m0.5 0h0m1.5 0h0m0.5 0h0m0.5 0h0m6.5 0h0m3 0h0m4 0h0m1.5 0h0m3.5 0h0m3.5 0h0m1.5 0h0m8 0h0m2.5 0h0m2 0h0m9.5 0h0m7.5 0h0m0.5 0h0m2 0h0m1 0h0m2.5 0h0m-61.5 0.5h0m0.5 0h0m0.5 0h0m1 0h0m7 0h0m2.5 0h0m4 0h0m8.5 0h0m4.5 0h0m1 0h0m0.5 0h0m0.5 0h0m12 0h0m2.5 0h0m2 0h0m1.5 0h0m3 0h0m0.5 0h0m-51 0.5h0m1.5 0h0m7.5 0h0m5 0h0m4.5 0h0m6 0h0m1 0h0m19 0h0m2.5 0h0m6 0h0m14 0h0m-70.5 0.5h0m1 0h0m1.5 0h0m1 0h0m1 0h0m9 0h0m5.5 0h0m13.5 0h0m2.5 0h0m2.5 0h0m2.5 0h0m2 0h0m2 0h0m1 0h0m3.5 0h0m0.5 0h0m0.5 0h0m0.5 0h0m1 0h0m5 0h0m2 0h0m-60 0.5h0m1.5 0h0m2.5 0h0m1.5 0h0m13 0h0m3.5 0h0m1 0h0m0.5 0h0m8.5 0h0m0.5 0h0m4.5 0h0m2 0h0m0.5 0h0m-33 0.5h0m7 0h0m3 0h0m3.5 0h0m1 0h0m13 0h0m2 0h0m2 0h0m4 0h0m6.5 0h0m2 0h0m3.5 0h0m2 0h0m-56.5 0.5h0m1 0h0m3 0h0m0.5 0h0m1 0h0m0.5 0h0m0.5 0h0m13 0h0m0.5 0h0m1 0h0m1.5 0h0m3.5 0h0m31 0h0m-53 0.5h0m1.5 0h0m1 0h0m7.5 0h0m0.5 0h0m2.5 0h0m3 0h0m4.5 0h0m2.5 0h0m2.5 0h0m1.5 0h0m9.5 0h0m4 0h0m1.5 0h0m4 0h0m4.5 0h0m5.5 0h0m-60 0.5h0m0.5 0h0m2.5 0h0m3 0h0m8 0h0m1 0h0m20 0h0m2 0h0m2.5 0h0m11 0h0m11 0h0m-58.5 0.5h0m2 0h0m15 0h0m5.5 0h0m3.5 0h0m1.5 0h0m2.5 0h0m9.5 0h0m0.5 0h0m11.5 0h0m2 0h0m2.5 0h0m1.5 0h0m-58.5 0.5h0m2 0h0m0.5 0h0m0.5 0h0m9.5 0h0m2 0h0m1.5 0h0m3 0h0m7 0h0m5 0h0m2 0h0m0.5 0h0m3.5 0h0m-39 0.5h0m2 0h0m2.5 0h0m10.5 0h0m0.5 0h0m2 0h0m1.5 0h0m6.5 0h0m2 0h0m4 0h0m5.5 0h0m2 0h0m1 0h0m1 0h0m6 0h0m11 0h0m22.5 0h0m-80.5 0.5h0m3 0h0m2.5 0h0m9.5 0h0m1.5 0h0m1.5 0h0m0.5 0h0m2.5 0h0m2 0h0m7 0h0m7.5 0h0m4.5 0h0m6.5 0h0m1 0h0m-51 0.5h0m1.5 0h0m1.5 0h0m2.5 0h0m10 0h0m2 0h0m0.5 0h0m4.5 0h0m7.5 0h0m2 0h0m3 0h0m0.5 0h0m2 0h0m4 0h0m1.5 0h0m3.5 0h0m3 0h0m-44.5 0.5h0m1 0h0m0.5 0h0m0.5 0h0m9 0h0m0.5 0h0m1.5 0h0m4.5 0h0m0.5 0h0m0.5 0h0m4.5 0h0m6 0h0m17 0h0m5.5 0h0m2 0h0m3.5 0h0m-58.5 0.5h0m3 0h0m8 0h0m1.5 0h0m3 0h0m0.5 0h0m3.5 0h0m1.5 0h0m4.5 0h0m13 0h0m3 0h0m6.5 0h0m2.5 0h0m9.5 0h0m-60.5 0.5h0m13.5 0h0m2.5 0h0m2 0h0m8 0h0m3 0h0m2 0h0m4 0h0m5 0h0m8.5 0h0m1 0h0m2.5 0h0m5 0h0m5.5 0h0m-63.5 0.5h0m2 0h0m0.5 0h0m2 0h0m8 0h0m0.5 0h0m0.5 0h0m2 0h0m0.5 0h0m4 0h0m2 0h0m15 0h0m5.5 0h0m0.5 0h0m6.5 0h0m-46.5 0.5h0m0.5 0h0m10 0h0m4 0h0m1 0h0m12 0h0m4 0h0m3.5 0h0m5.5 0h0m5.5 0h0m7 0h0m5.5 0h0m-59.5 0.5h0m1.5 0h0m12 0h0m0.5 0h0m3.5 0h0m8.5 0h0m8.5 0h0m0.5 0h0m1.5 0h0m1 0h0m5.5 0h0m5 0h0m2.5 0h0m-51.5 0.5h0m0.5 0h0m0.5 0h0m1 0h0m0.5 0h0m12.5 0h0m1 0h0m1 0h0m0.5 0h0m1.5 0h0m0.5 0h0m1 0h0m2 0h0m3 0h0m4.5 0h0m1 0h0m7 0h0m4 0h0m-44 0.5h0m2 0h0m1 0h0m1 0h0m1 0h0m8 0h0m1 0h0m0.5 0h0m7 0h0m10 0h0m14.5 0h0m11.5 0h0m-55.5 0.5h0m1.5 0h0m0.5 0h0m1 0h0m9 0h0m3 0h0m1.5 0h0m1 0h0m18 0h0m9 0h0m-46.5 0.5h0m2.5 0h0m0.5 0h0m1 0h0m9.5 0h0m2.5 0h0m1.5 0h0m0.5 0h0m1 0h0m0.5 0h0m0.5 0h0m9.5 0h0m3 0h0m3.5 0h0m2 0h0m1 0h0m3.5 0h0m3 0h0m-49 0.5h0m5 0h0m15 0h0m5 0h0m5.5 0h0m7 0h0m4 0h0m1.5 0h0m5.5 0h0m4 0h0m2 0h0m0.5 0h0m10 0h0m-60.5 0.5h0m2.5 0h0m1 0h0m9.5 0h0m3.5 0h0m1 0h0m1 0h0m7 0h0m9.5 0h0m3 0h0m20.5 0h0m-56.5 0.5h0m11.5 0h0m1 0h0m1 0h0m0.5 0h0m0.5 0h0m1.5 0h0m1.5 0h0m12.5 0h0m12.5 0h0m4 0h0m-48 0.5h0m1.5 0h0m1 0h0m11 0h0m0.5 0h0m1.5 0h0m1 0h0m2.5 0h0m0.5 0h0m1 0h0m0.5 0h0m3 0h0m6 0h0m3.5 0h0m2.5 0h0m15.5 0h0m6 0h0m2.5 0h0m4 0h0m-61.5 0.5h0m0.5 0h0m3.5 0h0m0.5 0h0m1.5 0h0m1.5 0h0m7 0h0m1 0h0m40.5 0h0m-57.5 0.5h0m3 0h0m2 0h0m2.5 0h0m5 0h0m2.5 0h0m1 0h0m5.5 0h0m3.5 0h0m15.5 0h0m7 0h0m8 0h0m-57.5 0.5h0m3 0h0m0.5 0h0m0.5 0h0m0.5 0h0m0.5 0h0m2.5 0h0m1 0h0m1.5 0h0m4.5 0h0m2 0h0m1 0h0m2.5 0h0m6.5 0h0m0.5 0h0m11 0h0m6.5 0h0m-43.5 0.5h0m1.5 0h0m1 0h0m2 0h0m1 0h0m6.5 0h0m2 0h0m2 0h0m15 0h0m24.5 0h0m-54 0.5h0m1.5 0h0m0.5 0h0m0.5 0h0m0.5 0h0m0.5 0h0m1.5 0h0m3.5 0h0m5 0h0m3.5 0h0m0.5 0h0m-23 0.5h0m2.5 0h0m3 0h0m1 0h0m2.5 0h0m0.5 0h0m0.5 0h0m1 0h0m2 0h0m6 0h0m2.5 0h0m0.5 0h0m1 0h0m1.5 0h0m0.5 0h0m17.5 0h0m-35.5 0.5h0m1 0h0m0.5 0h0m1 0h0m0.5 0h0m0.5 0h0m0.5 0h0m0.5 0h0m7 0h0m17 0h0m10.5 0h0m7.5 0h0m-49 0.5h0m2 0h0m0.5 0h0m0.5 0h0m1 0h0m0.5 0h0m1 0h0m2 0h0m5.5 0h0m3 0h0m10.5 0h0m4 0h0m-31.5 0.5h0m2 0h0m1.5 0h0m0.5 0h0m0.5 0h0m1 0h0m1 0h0m1 0h0m0.5 0h0m0.5 0h0m3.5 0h0m2 0h0m3 0h0m1 0h0m1 0h0m3 0h0m5 0h0m3 0h0m29.5 0h0m-59.5 0.5h0m2 0h0m2.5 0h0m0.5 0h0m0.5 0h0m1 0h0m0.5 0h0m0.5 0h0m0.5 0h0m1 0h0m4 0h0m4.5 0h0m2 0h0m0.5 0h0m1 0h0m5 0h0m5 0h0m3 0h0m-34.5 0.5h0m0.5 0h0m1 0h0m1 0h0m1 0h0m1.5 0h0m0.5 0h0m2.5 0h0m3.5 0h0m0.5 0h0m0.5 0h0m3 0h0m1.5 0h0m3 0h0m15 0h0m-32 0.5h0m3.5 0h0m0.5 0h0m1 0h0m1 0h0m5.5 0h0m3.5 0h0m1.5 0h0m26 0h0m5.5 0h0m4.5 0h0m-52.5 0.5h0m0.5 0h0m0.5 0h0m2 0h0m0.5 0h0m1 0h0m0.5 0h0m4.5 0h0m1.5 0h0m32 0h0m3 0h0m3 0h0m-54.5 0.5h0m0.5 0h0m4 0h0m0.5 0h0m0.5 0h0m1.5 0h0m1 0h0m0.5 0h0m0.5 0h0m0.5 0h0m1.5 0h0m0.5 0h0m1 0h0m1 0h0m2.5 0h0m3.5 0h0m2 0h0m0.5 0h0m25 0h0m-46.5 0.5h0m6 0h0m0.5 0h0m1 0h0m0.5 0h0m1 0h0m0.5 0h0m1 0h0m8 0h0m3.5 0h0m1 0h0m8 0h0m11 0h0m2.5 0h0m-44 0.5h0m2.5 0h0m1.5 0h0m1 0h0m0.5 0h0m0.5 0h0m1 0h0m0.5 0h0m0.5 0h0m1 0h0m0.5 0h0m1 0h0m2 0h0m3 0h0m2.5 0h0m12.5 0h0m22 0h0m-51.5 0.5h0m0.5 0h0m1.5 0h0m2.5 0h0m0.5 0h0m1.5 0h0m1 0h0m2 0h0m7 0h0m19.5 0h0m-38 0.5h0m3.5 0h0m0.5 0h0m0.5 0h0m0.5 0h0m0.5 0h0m1 0h0m1 0h0m0.5 0h0m1 0h0m3 0h0m0.5 0h0m2 0h0m2 0h0m4.5 0h0m1 0h0m3 0h0m10.5 0h0m15.5 0h0m-49.5 0.5h0m2 0h0m0.5 0h0m1 0h0m1.5 0h0m1 0h0m0.5 0h0m0.5 0h0m0.5 0h0m0.5 0h0m0.5 0h0m1.5 0h0m1.5 0h0m0.5 0h0m1.5 0h0m2 0h0m28.5 0h0m-45.5 0.5h0m3.5 0h0m2 0h0m1 0h0m0.5 0h0m1.5 0h0m0.5 0h0m0.5 0h0m6.5 0h0m1 0h0m2.5 0h0m0.5 0h0m3 0h0m5 0h0m30 0h0m-57 0.5h0m4 0h0m3 0h0m1.5 0h0m0.5 0h0m0.5 0h0m0.5 0h0m1 0h0m0.5 0h0m1 0h0m5 0h0m0.5 0h0m3.5 0h0m1 0h0m1 0h0m0.5 0h0m10 0h0m-35.5 0.5h0m4.5 0h0m2 0h0m2 0h0m0.5 0h0m0.5 0h0m1.5 0h0m0.5 0h0m3.5 0h0m5 0h0m1 0h0m3 0h0m1 0h0m6 0h0m18 0h0m-45 0.5h0m4.5 0h0m1 0h0m1.5 0h0m0.5 0h0m1.5 0h0m1.5 0h0m2.5 0h0m12 0h0m3 0h0m-25.5 0.5h0m0.5 0h0m0.5 0h0m0.5 0h0m1 0h0m0.5 0h0m0.5 0h0m1 0h0m1 0h0m2 0h0m2.5 0h0m0.5 0h0m1 0h0m3 0h0m0.5 0h0m30.5 0h0m-50 0.5h0m3 0h0m2.5 0h0m0.5 0h0m0.5 0h0m4.5 0h0m1 0h0m5 0h0m-16.5 0.5h0m2 0h0m2.5 0h0m0.5 0h0m1 0h0m1 0h0m0.5 0h0m0.5 0h0m1 0h0m1 0h0m5 0h0m3 0h0m12.5 0h0m4.5 0h0m10.5 0h0m5.5 0h0m2.5 0h0m7 0h0m-59.5 0.5h0m0.5 0h0m0.5 0h0m1 0h0m1.5 0h0m0.5 0h0m1 0h0m9 0h0m1.5 0h0m0.5 0h0m1.5 0h0m-17 0.5h0m1 0h0m2.5 0h0m1 0h0m0.5 0h0m0.5 0h0m1 0h0m0.5 0h0m0.5 0h0m1.5 0h0m4 0h0m2 0h0m0.5 0h0m2 0h0m8.5 0h0m13 0h0m3 0h0m-42.5 0.5h0m4 0h0m0.5 0h0m0.5 0h0m1.5 0h0m0.5 0h0m1.5 0h0m0.5 0h0m5 0h0m0.5 0h0m6 0h0m-23.5 0.5h0m5 0h0m0.5 0h0m2.5 0h0m0.5 0h0m1 0h0m1.5 0h0m3 0h0m0.5 0h0m1 0h0m2 0h0m2 0h0m0.5 0h0m2.5 0h0m-15.5 0.5h0m1 0h0m1 0h0m0.5 0h0m1 0h0m1.5 0h0m4 0h0m0.5 0h0m0.5 0h0m3 0h0m0.5 0h0m1 0h0m2.5 0h0m-16 0.5h0m0.5 0h0m0.5 0h0m0.5 0h0m0.5 0h0m0.5 0h0m2 0h0m1 0h0m2.5 0h0m1 0h0m4 0h0m-16 0.5h0m1 0h0m3 0h0m1 0h0m0.5 0h0m0.5 0h0m0.5 0h0m0.5 0h0m1.5 0h0m0.5 0h0m2 0h0m0.5 0h0m0.5 0h0m0.5 0h0m3 0h0m2.5 0h0m-15.5 0.5h0m2.5 0h0m1 0h0m2 0h0m4 0h0m3 0h0m1.5 0h0m0.5 0h0m-21.5 0.5h0m7 0h0m2.5 0h0m3 0h0m3.5 0h0m2 0h0m-1.5 0.5h0m2 0h0m-10 0.5h0" stroke="#111" stroke-width="1.3" stroke-linecap="round" fill="none" opacity="1.0"/>
<path d="M276.5,350.2C278,347.6 280.7,347 282.5,345.7C284.3,344.4 285.5,343.4 287.5,342.2C289.5,341 292.2,339.8 294.5,338.7C296.8,337.6 299.7,336.3 301.5,335.7C303.3,335.1 304.2,334.7 305.5,335.2C306.8,335.7 308.8,337 309,338.7C309.2,340.4 307.4,342.9 306.5,345.2C305.6,347.4 303.2,350 303.5,352.2C303.8,354.4 306.7,356.2 308.5,358.2C310.3,360.2 312.6,362 314.5,364.2C316.4,366.4 318.6,368.9 320,371.2C321.4,373.5 322.8,376 323,378.2C323.2,380.4 322.8,382.8 321.5,384.2C320.2,385.6 319.5,386.3 315.5,386.8C311.5,387.3 303,387.1 297.5,387.2C292,387.3 286.4,387.3 282.5,387.2C278.6,387.1 275.7,388.1 274,386.8C272.3,385.5 272.8,382.1 272.5,379.2C272.2,376.3 272.3,372.2 272.5,369.2C272.7,366.2 272.8,364.4 273.5,361.2C274.2,358 275,352.8 276.5,350.2Z" fill="none" stroke="#666" stroke-width="0.6"/>
<path d="M279.9,354.1C280.2,352.6 282.6,350 284.7,348.2C286.8,346.5 289.9,344.8 292.5,343.4C295.1,342 298.3,340.4 300.3,340C302.2,339.6 303.7,339.9 304.1,341C304.6,342 304.3,344.4 303.2,346.3C302,348.1 299.6,350.5 297.4,352.1C295.1,353.7 292,355.2 289.6,356C287.2,356.8 284.4,357.3 282.8,357C281.2,356.6 279.6,355.5 279.9,354.1Z" fill="none" stroke="#666" stroke-width="0.6"/>
<path d="M283.1,352.8C283.4,351.7 285.2,349.8 286.7,348.5C288.3,347.2 290.6,345.9 292.5,344.9C294.4,343.9 296.8,342.7 298.3,342.4C299.7,342.1 300.8,342.3 301.1,343.1C301.5,343.9 301.3,345.7 300.4,347C299.6,348.4 297.8,350.2 296.1,351.4C294.4,352.6 292.1,353.6 290.3,354.2C288.5,354.8 286.5,355.2 285.3,355C284.1,354.7 282.9,353.9 283.1,352.8Z" fill="none" stroke="#666" stroke-width="0.6"/>
<path d="M286.6,351.4C286.8,350.8 287.9,349.6 288.9,348.8C289.9,347.9 291.3,347.1 292.5,346.5C293.7,345.9 295.2,345.1 296.1,344.9C297,344.7 297.7,344.9 297.9,345.4C298.1,345.9 298,347 297.4,347.8C296.9,348.7 295.8,349.8 294.8,350.6C293.7,351.3 292.3,352 291.1,352.3C290,352.7 288.8,352.9 288,352.8C287.2,352.7 286.5,352.1 286.6,351.4Z" fill="none" stroke="#666" stroke-width="0.6"/>
<path d="M275.5,369.2C276.9,367 279.7,364.6 282.5,363.2C285.3,361.8 289,361 292.5,360.7C296,360.4 300.2,360.3 303.5,361.2C306.8,362.1 310,364.2 312.5,366.2C315,368.2 317.2,370.9 318.5,373.2C319.8,375.5 320.7,378.2 320,380.2C319.3,382.2 318.2,384.3 314.5,385.2C310.8,386.1 302.8,385.6 297.5,385.7C292.2,385.8 286.2,386.3 282.5,385.7C278.8,385.1 276.9,383.8 275.5,382.2C274.1,380.6 274,378.4 274,376.2C274,374 274.1,371.4 275.5,369.2Z" fill="none" stroke="#666" stroke-width="0.6"/>
<path d="M277.5,370.3C278.8,368.4 281.2,366.2 283.7,365C286.2,363.8 289.4,363.1 292.5,362.8C295.6,362.5 299.2,362.4 302.2,363.2C305.1,364 307.9,365.9 310.1,367.6C312.3,369.4 314.3,371.7 315.4,373.8C316.5,375.9 317.3,378.2 316.7,380C316.1,381.7 315.2,383.6 311.9,384.4C308.6,385.2 301.6,384.7 296.9,384.8C292.2,384.9 286.9,385.3 283.7,384.8C280.5,384.3 278.8,383.1 277.5,381.7C276.3,380.3 276.2,378.3 276.2,376.4C276.2,374.5 276.3,372.2 277.5,370.3Z" fill="none" stroke="#666" stroke-width="0.6"/>
<path d="M279.4,371.3C280.5,369.6 282.6,367.7 284.8,366.6C287,365.6 289.8,365 292.5,364.7C295.2,364.5 298.4,364.4 301,365.1C303.5,365.8 306,367.4 307.9,369C309.8,370.5 311.6,372.6 312.5,374.3C313.5,376.1 314.2,378.2 313.7,379.7C313.2,381.3 312.3,382.9 309.4,383.6C306.6,384.3 300.5,383.9 296.4,384C292.2,384 287.6,384.4 284.8,384C282,383.5 280.5,382.5 279.4,381.3C278.3,380.1 278.3,378.3 278.3,376.7C278.3,375 278.3,372.9 279.4,371.3Z" fill="none" stroke="#666" stroke-width="0.6"/>
<path d="M281.3,372.3C282.2,370.8 284,369.2 285.9,368.3C287.8,367.4 290.2,366.9 292.5,366.6C294.8,366.4 297.6,366.4 299.8,367C302,367.6 304.1,369 305.7,370.3C307.3,371.6 308.8,373.4 309.7,374.9C310.5,376.4 311.1,378.2 310.6,379.5C310.2,380.8 309.5,382.2 307,382.8C304.5,383.4 299.3,383.1 295.8,383.1C292.3,383.2 288.3,383.5 285.9,383.1C283.5,382.8 282.2,381.9 281.3,380.8C280.3,379.8 280.3,378.3 280.3,376.9C280.3,375.4 280.3,373.7 281.3,372.3Z" fill="none" stroke="#666" stroke-width="0.6"/>
<path d="M283,373.2C283.8,371.9 285.3,370.6 286.9,369.8C288.5,369 290.5,368.6 292.5,368.4C294.5,368.2 296.8,368.2 298.7,368.7C300.5,369.2 302.3,370.4 303.7,371.5C305.1,372.6 306.4,374.1 307.1,375.4C307.8,376.7 308.3,378.2 307.9,379.3C307.5,380.4 306.9,381.6 304.8,382.1C302.7,382.6 298.3,382.4 295.3,382.4C292.3,382.4 289,382.7 286.9,382.4C284.8,382.1 283.8,381.3 283,380.4C282.2,379.6 282.1,378.3 282.1,377.1C282.1,375.9 282.2,374.4 283,373.2Z" fill="none" stroke="#666" stroke-width="0.6"/>
<path d="M284.7,374.1C285.3,373.1 286.6,372 287.9,371.3C289.2,370.6 290.9,370.3 292.5,370.1C294.1,370 296,370 297.6,370.4C299.1,370.8 300.6,371.8 301.7,372.7C302.8,373.6 303.9,374.8 304.5,375.9C305,377 305.5,378.2 305.1,379.1C304.8,380 304.3,381 302.6,381.4C300.9,381.8 297.3,381.6 294.8,381.6C292.3,381.7 289.6,381.9 287.9,381.6C286.2,381.4 285.3,380.8 284.7,380C284,379.3 284,378.3 284,377.3C284,376.3 284,375.1 284.7,374.1Z" fill="none" stroke="#666" stroke-width="0.6"/>
<path d="M286.2,374.9C286.7,374.1 287.8,373.2 288.8,372.6C289.8,372.1 291.2,371.8 292.5,371.7C293.8,371.6 295.3,371.6 296.6,371.9C297.8,372.2 299,373 299.9,373.8C300.8,374.5 301.7,375.5 302.1,376.3C302.6,377.2 302.9,378.2 302.7,378.9C302.4,379.7 302,380.5 300.6,380.8C299.3,381.1 296.3,380.9 294.4,381C292.4,381 290.2,381.2 288.8,381C287.4,380.8 286.7,380.3 286.2,379.7C285.7,379.1 285.7,378.3 285.7,377.5C285.7,376.7 285.7,375.7 286.2,374.9Z" fill="none" stroke="#666" stroke-width="0.6"/>
<ellipse cx="286" cy="376.2" rx="3.8" ry="2.6" fill="none" stroke="#666" stroke-width="0.6"/>
<ellipse cx="297" cy="376.5" rx="4" ry="2.8" fill="none" stroke="#666" stroke-width="0.6"/>
<ellipse cx="292" cy="376.4" rx="10.5" ry="4.6" fill="none" stroke="#666" stroke-width="0.6"/>
<path transform="translate(379,320.6)" d="M0 0m81.5 0.5h0m-3 1h0m3 0.5h0m4.5 0h0m1 0h0m-10.5 1h0m10 0h0m2.5 0h0m-39 0.5h0m33 0h0m2.5 0h0m0.5 0h0m2 0h0m1 0h0m0.5 0h0m-32.5 0.5h0m17 0h0m15 0h0m-16 0.5h0m4 0h0m4.5 0h0m0.5 0h0m3 0h0m2 0h0m0.5 0h0m0.5 0h0m6 0h0m-16.5 0.5h0m4 0h0m3 0h0m2 0h0m1 0h0m0.5 0h0m-16.5 0.5h0m10.5 0h0m5 0h0m3 0h0m1 0h0m1.5 0h0m-12 0.5h0m4 0h0m1 0h0m0.5 0h0m2.5 0h0m0.5 0h0m0.5 0h0m1 0h0m2.5 0h0m3 0h0m-35 0.5h0m20.5 0h0m3.5 0h0m2 0h0m0.5 0h0m1.5 0h0m5.5 0h0m-19.5 0.5h0m4.5 0h0m7 0h0m1 0h0m0.5 0h0m0.5 0h0m1 0h0m1 0h0m1.5 0h0m2.5 0h0m-31 0.5h0m1 0h0m7 0h0m3 0h0m2 0h0m0.5 0h0m1.5 0h0m0.5 0h0m4 0h0m2 0h0m1 0h0m1.5 0h0m0.5 0h0m1 0h0m0.5 0h0m1.5 0h0m1.5 0h0m0.5 0h0m1.5 0h0m-18 0.5h0m0.5 0h0m4 0h0m0.5 0h0m0.5 0h0m1 0h0m0.5 0h0m2 0h0m0.5 0h0m0.5 0h0m3 0h0m0.5 0h0m0.5 0h0m0.5 0h0m1.5 0h0m0.5 0h0m1 0h0m2 0h0m-41.5 0.5h0m26 0h0m2 0h0m0.5 0h0m2 0h0m1.5 0h0m0.5 0h0m2.5 0h0m0.5 0h0m0.5 0h0m1 0h0m0.5 0h0m3 0h0m4 0h0m1.5 0h0m-29.5 0.5h0m5 0h0m2.5 0h0m1.5 0h0m1.5 0h0m1.5 0h0m1.5 0h0m0.5 0h0m0.5 0h0m0.5 0h0m0.5 0h0m1.5 0h0m0.5 0h0m1 0h0m0.5 0h0m3.5 0h0m0.5 0h0m0.5 0h0m-22 0.5h0m2 0h0m3 0h0m4 0h0m2.5 0h0m1 0h0m4 0h0m0.5 0h0m1.5 0h0m1.5 0h0m0.5 0h0m0.5 0h0m0.5 0h0m1 0h0m2.5 0h0m-38.5 0.5h0m4.5 0h0m19 0h0m1 0h0m2.5 0h0m0.5 0h0m1.5 0h0m0.5 0h0m2 0h0m1.5 0h0m1.5 0h0m-37.5 0.5h0m8 0h0m1.5 0h0m8 0h0m6 0h0m1 0h0m0.5 0h0m0.5 0h0m3 0h0m1 0h0m1 0h0m2.5 0h0m1 0h0m1 0h0m1 0h0m1 0h0m2 0h0m0.5 0h0m1.5 0h0m1 0h0m3.5 0h0m-43.5 0.5h0m6 0h0m6.5 0h0m1.5 0h0m0.5 0h0m4 0h0m1.5 0h0m1 0h0m1.5 0h0m3 0h0m0.5 0h0m0.5 0h0m0.5 0h0m1 0h0m0.5 0h0m2 0h0m0.5 0h0m5 0h0m0.5 0h0m1.5 0h0m1.5 0h0m-28.5 0.5h0m0.5 0h0m3.5 0h0m2.5 0h0m0.5 0h0m3 0h0m2 0h0m0.5 0h0m2 0h0m0.5 0h0m4 0h0m2.5 0h0m2 0h0m0.5 0h0m1 0h0m2 0h0m0.5 0h0m0.5 0h0m0.5 0h0m6.5 0h0m-64 0.5h0m32.5 0h0m2 0h0m0.5 0h0m2 0h0m1.5 0h0m1.5 0h0m1 0h0m2.5 0h0m0.5 0h0m0.5 0h0m1.5 0h0m4 0h0m0.5 0h0m1 0h0m0.5 0h0m0.5 0h0m0.5 0h0m0.5 0h0m1 0h0m-19 0.5h0m2.5 0h0m2 0h0m0.5 0h0m0.5 0h0m0.5 0h0m0.5 0h0m1 0h0m2 0h0m1.5 0h0m3 0h0m0.5 0h0m1.5 0h0m0.5 0h0m0.5 0h0m2 0h0m-25 0.5h0m1.5 0h0m5.5 0h0m1 0h0m0.5 0h0m0.5 0h0m0.5 0h0m2 0h0m3 0h0m0.5 0h0m1.5 0h0m5 0h0m3.5 0h0m3 0h0m1 0h0m-32 0.5h0m1 0h0m1.5 0h0m3.5 0h0m2 0h0m3.5 0h0m1 0h0m7 0h0m1.5 0h0m2 0h0m2 0h0m1.5 0h0m1 0h0m1 0h0m-32.5 0.5h0m3 0h0m3.5 0h0m4 0h0m1.5 0h0m1 0h0m1.5 0h0m0.5 0h0m1.5 0h0m1.5 0h0m0.5 0h0m1.5 0h0m0.5 0h0m3.5 0h0m1.5 0h0m0.5 0h0m0.5 0h0m1.5 0h0m0.5 0h0m2 0h0m0.5 0h0m1 0h0m2 0h0m-35 0.5h0m5.5 0h0m1 0h0m4 0h0m1 0h0m1 0h0m1 0h0m1.5 0h0m1 0h0m2.5 0h0m2 0h0m5 0h0m1.5 0h0m0.5 0h0m1 0h0m0.5 0h0m1 0h0m2 0h0m1 0h0m3 0h0m-45 0.5h0m3 0h0m8 0h0m4.5 0h0m2.5 0h0m1.5 0h0m3.5 0h0m0.5 0h0m0.5 0h0m0.5 0h0m1 0h0m1 0h0m1.5 0h0m5 0h0m2.5 0h0m2 0h0m2 0h0m2 0h0m-51.5 0.5h0m2 0h0m4.5 0h0m6 0h0m12 0h0m4 0h0m4.5 0h0m2.5 0h0m4.5 0h0m3 0h0m0.5 0h0m0.5 0h0m0.5 0h0m1 0h0m1 0h0m0.5 0h0m0.5 0h0m1 0h0m0.5 0h0m0.5 0h0m3.5 0h0m1.5 0h0m-48 0.5h0m2 0h0m8 0h0m3 0h0m3 0h0m3.5 0h0m1 0h0m0.5 0h0m2 0h0m0.5 0h0m2 0h0m1 0h0m1.5 0h0m1.5 0h0m1.5 0h0m5 0h0m1 0h0m0.5 0h0m0.5 0h0m0.5 0h0m1 0h0m1.5 0h0m0.5 0h0m0.5 0h0m3 0h0m-37 0.5h0m9 0h0m2 0h0m0.5 0h0m1.5 0h0m4 0h0m0.5 0h0m0.5 0h0m1 0h0m0.5 0h0m1.5 0h0m1 0h0m1 0h0m6 0h0m0.5 0h0m1 0h0m3 0h0m-40.5 0.5h0m4 0h0m3.5 0h0m7 0h0m3.5 0h0m1 0h0m2 0h0m0.5 0h0m1.5 0h0m0.5 0h0m1 0h0m1 0h0m1 0h0m1 0h0m10 0h0m0.5 0h0m1.5 0h0m2.5 0h0m0.5 0h0m-34 0.5h0m0.5 0h0m10 0h0m1 0h0m2.5 0h0m2 0h0m7.5 0h0m3 0h0m0.5 0h0m1 0h0m0.5 0h0m0.5 0h0m0.5 0h0m0.5 0h0m0.5 0h0m6 0h0m3 0h0m0.5 0h0m-43.5 0.5h0m5.5 0h0m5.5 0h0m0.5 0h0m3 0h0m1.5 0h0m13.5 0h0m0.5 0h0m0.5 0h0m1 0h0m1 0h0m2 0h0m2.5 0h0m0.5 0h0m-47.5 0.5h0m10 0h0m2 0h0m4 0h0m3 0h0m3 0h0m1 0h0m2.5 0h0m2.5 0h0m12 0h0m0.5 0h0m0.5 0h0m1.5 0h0m1.5 0h0m-36.5 0.5h0m7 0h0m3.5 0h0m4.5 0h0m2.5 0h0m0.5 0h0m0.5 0h0m0.5 0h0m1.5 0h0m0.5 0h0m0.5 0h0m1.5 0h0m11 0h0m0.5 0h0m3 0h0m8.5 0h0m-49 0.5h0m0.5 0h0m16.5 0h0m0.5 0h0m3 0h0m1 0h0m3.5 0h0m12 0h0m1.5 0h0m0.5 0h0m3.5 0h0m-40.5 0.5h0m8 0h0m1 0h0m2.5 0h0m1.5 0h0m6.5 0h0m11.5 0h0m0.5 0h0m1 0h0m0.5 0h0m1.5 0h0m0.5 0h0m1 0h0m1 0h0m1.5 0h0m0.5 0h0m2.5 0h0m-46.5 0.5h0m4.5 0h0m9.5 0h0m4.5 0h0m0.5 0h0m2 0h0m1 0h0m1.5 0h0m3.5 0h0m10 0h0m0.5 0h0m0.5 0h0m1.5 0h0m0.5 0h0m-35.5 0.5h0m4.5 0h0m1.5 0h0m4 0h0m0.5 0h0m3.5 0h0m4.5 0h0m0.5 0h0m0.5 0h0m3 0h0m9.5 0h0m0.5 0h0m1.5 0h0m0.5 0h0m1 0h0m0.5 0h0m1 0h0m1.5 0h0m2.5 0h0m-49 0.5h0m2 0h0m4 0h0m9.5 0h0m12.5 0h0m8.5 0h0m4 0h0m2.5 0h0m0.5 0h0m2 0h0m-32.5 0.5h0m4.5 0h0m3 0h0m20.5 0h0m1.5 0h0m1 0h0m0.5 0h0m4 0h0m3 0h0m-51 0.5h0m10.5 0h0m2.5 0h0m5 0h0m22 0h0m3 0h0m1 0h0m-41.5 0.5h0m2 0h0m9.5 0h0m3 0h0m1 0h0m1 0h0m0.5 0h0m0.5 0h0m1 0h0m1.5 0h0m21 0h0m3 0h0m5 0h0m4 0h0m-52 0.5h0m1 0h0m4 0h0m1 0h0m0.5 0h0m4 0h0m3 0h0m1 0h0m23.5 0h0m4.5 0h0m6.5 0h0m-51.5 0.5h0m3.5 0h0m1.5 0h0m1 0h0m4 0h0m1 0h0m0.5 0h0m1.5 0h0m0.5 0h0m2 0h0m1 0h0m1.5 0h0m1 0h0m1 0h0m27 0h0m-43 0.5h0m0.5 0h0m3.5 0h0m1 0h0m1 0h0m0.5 0h0m3 0h0m1.5 0h0m0.5 0h0m1 0h0m0.5 0h0m1 0h0m2.5 0h0m27 0h0m4 0h0m-47.5 0.5h0m0.5 0h0m1 0h0m4.5 0h0m1.5 0h0m0.5 0h0m0.5 0h0m0.5 0h0m4.5 0h0m4 0h0m23 0h0m-55.5 0.5h0m5.5 0h0m7 0h0m0.5 0h0m7 0h0m4.5 0h0m4.5 0h0m-42.5 0.5h0m29.5 0h0m2 0h0m4 0h0m3 0h0m0.5 0h0m1.5 0h0m2 0h0m25.5 0h0m-58 0.5h0m17.5 0h0m4 0h0m1.5 0h0m2 0h0m2 0h0m31 0h0m-56 0.5h0m11.5 0h0m5 0h0m0.5 0h0m3 0h0m1.5 0h0m1 0h0m1 0h0m2 0h0m1 0h0m0.5 0h0m0.5 0h0m0.5 0h0m2 0h0m-26.5 0.5h0m6 0h0m1 0h0m4.5 0h0m1.5 0h0m1 0h0m0.5 0h0m5 0h0m1 0h0m0.5 0h0m0.5 0h0m0.5 0h0m-35.5 0.5h0m27 0h0m2 0h0m1.5 0h0m3 0h0m1.5 0h0m4 0h0m-25 0.5h0m10.5 0h0m4.5 0h0m2.5 0h0m3 0h0m1.5 0h0m1 0h0m0.5 0h0m-29 0.5h0m4.5 0h0m12 0h0m2 0h0m1.5 0h0m0.5 0h0m2 0h0m0.5 0h0m2.5 0h0m2.5 0h0m28 0h0m-39 0.5h0m1 0h0m0.5 0h0m1 0h0m3.5 0h0m34.5 0h0m2.5 0h0m-45 0.5h0m2 0h0m1.5 0h0m0.5 0h0m1.5 0h0m1.5 0h0m2.5 0h0m1.5 0h0m1 0h0m30.5 0h0m1.5 0h0m3 0h0m-61 0.5h0m12.5 0h0m0.5 0h0m5.5 0h0m0.5 0h0m2 0h0m3 0h0m32 0h0m2 0h0m0.5 0h0m0.5 0h0m3.5 0h0m-62 0.5h0m3 0h0m15.5 0h0m6 0h0m31.5 0h0m0.5 0h0m1 0h0m1 0h0m-57.5 0.5h0m15 0h0m3 0h0m0.5 0h0m1 0h0m35 0h0m0.5 0h0m1 0h0m1 0h0m0.5 0h0m-70.5 0.5h0m29.5 0h0m12 0h0m27 0h0m2 0h0m0.5 0h0m-55 0.5h0m9.5 0h0m11.5 0h0m30 0h0m0.5 0h0m0.5 0h0m0.5 0h0m0.5 0h0m1 0h0m1 0h0m1 0h0m3.5 0h0m-80.5 0.5h0m31 0h0m5.5 0h0m35 0h0m2.5 0h0m2 0h0m-58.5 0.5h0m12.5 0h0m1 0h0m7.5 0h0m2 0h0m1.5 0h0m2.5 0h0m1.5 0h0m26 0h0m2.5 0h0m1 0h0m0.5 0h0m-70.5 0.5h0m3 0h0m15 0h0m5 0h0m10 0h0m34 0h0m1 0h0m0.5 0h0m0.5 0h0m4 0h0m-55.5 0.5h0m9 0h0m39.5 0h0m1 0h0m-73 0.5h0m3 0h0m29.5 0h0m14 0h0m25 0h0m1.5 0h0m3 0h0m1 0h0m-55.5 0.5h0m20.5 0h0m2.5 0h0m2 0h0m0.5 0h0m25 0h0m0.5 0h0m0.5 0h0m1 0h0m0.5 0h0m5.5 0h0m-58.5 0.5h0m9 0h0m2.5 0h0m3.5 0h0m4.5 0h0m6.5 0h0m1 0h0m1 0h0m25 0h0m2.5 0h0m-49.5 0.5h0m14 0h0m4 0h0m0.5 0h0m25.5 0h0m1.5 0h0m1.5 0h0m-59.5 0.5h0m16 0h0m5 0h0m10 0h0m1 0h0m25.5 0h0m0.5 0h0m4.5 0h0m-53.5 0.5h0m1.5 0h0m0.5 0h0m9 0h0m5 0h0m1.5 0h0m7 0h0m23 0h0m1 0h0m0.5 0h0m0.5 0h0m1.5 0h0m-49.5 0.5h0m4.5 0h0m0.5 0h0m5 0h0m3.5 0h0m1 0h0m3 0h0m5 0h0m23.5 0h0m0.5 0h0m0.5 0h0m-66.5 0.5h0m9 0h0m4 0h0m9 0h0m4.5 0h0m8.5 0h0m2.5 0h0m1 0h0m1 0h0m0.5 0h0m2.5 0h0m24.5 0h0m0.5 0h0m4.5 0h0m-60.5 0.5h0m20 0h0m5 0h0m3 0h0m0.5 0h0m-25 0.5h0m1 0h0m8 0h0m6 0h0m0.5 0h0m3 0h0m4.5 0h0m3 0h0m0.5 0h0m1 0h0m25.5 0h0m0.5 0h0m1 0h0m-70 0.5h0m37.5 0h0m3 0h0m0.5 0h0m0.5 0h0m24.5 0h0m10.5 0h0m-80.5 0.5h0m3.5 0h0m15 0h0m1.5 0h0m11 0h0m8 0h0m3.5 0h0m3 0h0m26.5 0h0m-67 0.5h0m11 0h0m7.5 0h0m4.5 0h0m1.5 0h0m9 0h0m5.5 0h0m0.5 0h0m1.5 0h0m23.5 0h0m1 0h0m0.5 0h0m-68 0.5h0m2 0h0m5 0h0m14 0h0m13 0h0m5 0h0m27.5 0h0m1.5 0h0m2.5 0h0m-75 0.5h0m18 0h0m13 0h0m6.5 0h0m3.5 0h0m7 0h0m23.5 0h0m1.5 0h0m1 0h0m0.5 0h0m-68.5 0.5h0m0.5 0h0m9.5 0h0m4 0h0m1 0h0m8.5 0h0m3.5 0h0m2.5 0h0m8 0h0m4.5 0h0m0.5 0h0m23 0h0m2.5 0h0m0.5 0h0m8 0h0m-60.5 0.5h0m5.5 0h0m0.5 0h0m17 0h0m1 0h0m2 0h0m22.5 0h0m0.5 0h0m4 0h0m7.5 0h0m-78 0.5h0m34.5 0h0m7 0h0m24.5 0h0m3 0h0m2.5 0h0m-61 0.5h0m6 0h0m3.5 0h0m7.5 0h0m3.5 0h0m5.5 0h0m3.5 0h0m27 0h0m0.5 0h0m3.5 0h0m-38.5 0.5h0m6 0h0m28.5 0h0m1 0h0m10 0h0m-41.5 0.5h0m3 0h0m1.5 0h0m26 0h0m0.5 0h0m-63.5 0.5h0m33 0h0m1 0h0m2 0h0m0.5 0h0m1 0h0m1.5 0h0m23 0h0m0.5 0h0m0.5 0h0m2 0h0m-68.5 0.5h0m0.5 0h0m0.5 0h0m33.5 0h0m4 0h0m29.5 0h0m-70 0.5h0m27.5 0h0m2.5 0h0m4.5 0h0m1 0h0m5.5 0h0m0.5 0h0m0.5 0h0m1 0h0m1 0h0m-15.5 0.5h0m5 0h0m4 0h0m30 0h0m0.5 0h0m0.5 0h0m1.5 0h0m-68 0.5h0m3.5 0h0m22 0h0m2.5 0h0m0.5 0h0m4.5 0h0m32 0h0m2.5 0h0m0.5 0h0m1.5 0h0m-73 0.5h0m32.5 0h0m5.5 0h0m3.5 0h0m1 0h0m2 0h0m1.5 0h0m0.5 0h0m23 0h0m-52.5 0.5h0m11.5 0h0m2 0h0m10.5 0h0m1.5 0h0m26 0h0m0.5 0h0m1.5 0h0m2 0h0m-38 0.5h0m4.5 0h0m4 0h0m0.5 0h0m3 0h0m24 0h0m0.5 0h0m0.5 0h0m1 0h0m-66 0.5h0m14 0h0m11.5 0h0m3.5 0h0m5 0h0m2.5 0h0m2.5 0h0m24 0h0m0.5 0h0m1.5 0h0m2.5 0h0m-47 0.5h0m5.5 0h0m8 0h0m1.5 0h0m1 0h0m0.5 0h0m1.5 0h0m1 0h0m0.5 0h0m22 0h0m1.5 0h0m1 0h0m1.5 0h0m-51 0.5h0m21 0h0m0.5 0h0m1 0h0m3 0h0m21 0h0m1.5 0h0m3 0h0m1.5 0h0m-58 0.5h0m14 0h0m3.5 0h0m1 0h0m1 0h0m1 0h0m8.5 0h0m0.5 0h0m24.5 0h0m0.5 0h0m0.5 0h0m3.5 0h0m-44.5 0.5h0m6.5 0h0m4.5 0h0m0.5 0h0m4 0h0m1 0h0m21.5 0h0m0.5 0h0m1.5 0h0m1 0h0m1.5 0h0m-46 0.5h0m1.5 0h0m3 0h0m2.5 0h0m1.5 0h0m0.5 0h0m5 0h0m3 0h0m2 0h0m23 0h0m0.5 0h0m1.5 0h0m-46.5 0.5h0m8.5 0h0m6 0h0m3 0h0m1 0h0m1.5 0h0m1 0h0m0.5 0h0m0.5 0h0m1 0h0m20.5 0h0m1.5 0h0m-56 0.5h0m15.5 0h0m4.5 0h0m0.5 0h0m6 0h0m1.5 0h0m1.5 0h0m0.5 0h0m2 0h0m0.5 0h0m1.5 0h0m20.5 0h0m1.5 0h0m5.5 0h0m-54.5 0.5h0m5.5 0h0m6.5 0h0m4 0h0m5 0h0m2 0h0m3 0h0m22 0h0m0.5 0h0m0.5 0h0m-61 0.5h0m6.5 0h0m3 0h0m5.5 0h0m10 0h0m1 0h0m1 0h0m0.5 0h0m7 0h0m0.5 0h0m2.5 0h0m1 0h0m0.5 0h0m22 0h0m0.5 0h0m2 0h0m3.5 0h0m-71 0.5h0m15.5 0h0m12.5 0h0m0.5 0h0m2.5 0h0m3 0h0m0.5 0h0m1 0h0m2 0h0m1.5 0h0m2.5 0h0m23 0h0m1 0h0m0.5 0h0m-50.5 0.5h0m13 0h0m3 0h0m1.5 0h0m0.5 0h0m3 0h0m3.5 0h0m1.5 0h0m21.5 0h0m1 0h0m0.5 0h0m0.5 0h0m2 0h0m0.5 0h0m-44 0.5h0m1.5 0h0m3.5 0h0m1 0h0m0.5 0h0m0.5 0h0m1 0h0m4 0h0m0.5 0h0m0.5 0h0m4 0h0m2.5 0h0m21 0h0m2.5 0h0m-61.5 0.5h0m25 0h0m0.5 0h0m4.5 0h0m0.5 0h0m5.5 0h0m0.5 0h0m22.5 0h0m1 0h0m-68.5 0.5h0m3 0h0m25.5 0h0m0.5 0h0m2.5 0h0m0.5 0h0m0.5 0h0m1.5 0h0m1 0h0m1.5 0h0m1 0h0m2 0h0m1 0h0m0.5 0h0m0.5 0h0m3 0h0m1.5 0h0m21.5 0h0m1 0h0m0.5 0h0m7 0h0m-76.5 0.5h0m25 0h0m3.5 0h0m2 0h0m0.5 0h0m2 0h0m2 0h0m1 0h0m2 0h0m2.5 0h0m0.5 0h0m0.5 0h0m0.5 0h0m1.5 0h0m0.5 0h0m0.5 0h0m2 0h0m0.5 0h0m20.5 0h0m1.5 0h0m1.5 0h0m2 0h0m-49 0.5h0m8.5 0h0m1 0h0m1.5 0h0m1 0h0m0.5 0h0m3.5 0h0m2.5 0h0m0.5 0h0m0.5 0h0m3.5 0h0m1 0h0m21.5 0h0m1.5 0h0m-44 0.5h0m9 0h0m0.5 0h0m1 0h0m2 0h0m1 0h0m2 0h0m0.5 0h0m0.5 0h0m0.5 0h0m1 0h0m2 0h0m21.5 0h0m1.5 0h0m2.5 0h0m-57.5 0.5h0m3 0h0m6.5 0h0m1 0h0m2 0h0m0.5 0h0m2 0h0m0.5 0h0m2.5 0h0m1.5 0h0m0.5 0h0m3 0h0m1.5 0h0m1.5 0h0m0.5 0h0m0.5 0h0m2 0h0m1.5 0h0m21.5 0h0m-41.5 0.5h0m1 0h0m1.5 0h0m1 0h0m5 0h0m0.5 0h0m1.5 0h0m1.5 0h0m4 0h0m2 0h0m0.5 0h0m1.5 0h0m1 0h0m0.5 0h0m-43.5 0.5h0m15.5 0h0m11 0h0m1.5 0h0m2.5 0h0m1.5 0h0m2.5 0h0m3 0h0m1.5 0h0m1 0h0m3.5 0h0m1 0h0m19 0h0m1 0h0m0.5 0h0m2.5 0h0m0.5 0h0m-46.5 0.5h0m1.5 0h0m1.5 0h0m2 0h0m1.5 0h0m2 0h0m4 0h0m2.5 0h0m2.5 0h0m0.5 0h0m2 0h0m1.5 0h0m0.5 0h0m0.5 0h0m-27 0.5h0m0.5 0h0m9 0h0m4 0h0m0.5 0h0m1.5 0h0m1 0h0m0.5 0h0m0.5 0h0m0.5 0h0m0.5 0h0m1.5 0h0m2 0h0m0.5 0h0m0.5 0h0m0.5 0h0m4 0h0m19.5 0h0m0.5 0h0m1 0h0m5 0h0m-48 0.5h0m1 0h0m0.5 0h0m0.5 0h0m3 0h0m0.5 0h0m1 0h0m1 0h0m0.5 0h0m3 0h0m0.5 0h0m3 0h0m0.5 0h0m0.5 0h0m1.5 0h0m1.5 0h0m2 0h0m21.5 0h0m5.5 0h0m-44.5 0.5h0m4.5 0h0m0.5 0h0m0.5 0h0m1.5 0h0m0.5 0h0m1 0h0m3 0h0m0.5 0h0m1.5 0h0m2 0h0m0.5 0h0m0.5 0h0m1.5 0h0m1 0h0m19 0h0m1.5 0h0m-45.5 0.5h0m5 0h0m6.5 0h0m1 0h0m1 0h0m6 0h0m1.5 0h0m1 0h0m1 0h0m1.5 0h0m19 0h0m0.5 0h0m0.5 0h0m1 0h0m1.5 0h0m-43 0.5h0m3.5 0h0m1 0h0m3 0h0m1 0h0m0.5 0h0m1 0h0m0.5 0h0m0.5 0h0m0.5 0h0m1 0h0m0.5 0h0m2.5 0h0m1.5 0h0m1 0h0m0.5 0h0m1.5 0h0m1 0h0m18.5 0h0m0.5 0h0m0.5 0h0m2 0h0m-38.5 0.5h0m2.5 0h0m4.5 0h0m2.5 0h0m1.5 0h0m1 0h0m2 0h0m2 0h0m0.5 0h0m20.5 0h0m0.5 0h0m2.5 0h0m-40.5 0.5h0m1.5 0h0m0.5 0h0m3.5 0h0m1 0h0m6.5 0h0m0.5 0h0m1.5 0h0m1.5 0h0m19 0h0m0.5 0h0m2 0h0m-39 0.5h0m0.5 0h0m10 0h0m2.5 0h0m0.5 0h0m1 0h0m2.5 0h0m0.5 0h0m20 0h0m2 0h0m0.5 0h0m-37.5 0.5h0m2 0h0m1.5 0h0m0.5 0h0m3.5 0h0m1.5 0h0m4.5 0h0m1 0h0m1 0h0m18.5 0h0m1 0h0m1 0h0m1 0h0m-41 0.5h0m7.5 0h0m0.5 0h0m2 0h0m2 0h0m4.5 0h0m0.5 0h0m20.5 0h0m0.5 0h0m2 0h0m0.5 0h0m1 0h0m0.5 0h0m5.5 0h0m-41.5 0.5h0m1.5 0h0m3.5 0h0m1 0h0m0.5 0h0m0.5 0h0m26 0h0m5 0h0m-32.5 0.5h0m0.5 0h0m5 0h0m20.5 0h0m2.5 0h0m0.5 0h0m-31 0.5h0m0.5 0h0m0.5 0h0m2 0h0m7 0h0m19.5 0h0m0.5 0h0m3 0h0m-23.5 0.5h0m1 0h0m18 0h0m0.5 0h0m2.5 0h0m-28.5 0.5h0m25 0h0m3 0h0m-3.5 0.5h0m1 0h0m3 0h0m5 0h0m-9 0.5h0m0.5 0h0m5.5 0h0m-6 0.5h0m0.5 0h0m0.5 0h0m1 0h0m-2 0.5h0m3 0h0m4 0h0m-37.5 0.5h0m31 0h0m1 0h0m0.5 0h0m1 0h0m1 0h0m0.5 0h0m-5 1h0m1.5 0h0m3 0h0m-3.5 0.5h0m1.5 0h0m0.5 0h0m1.5 0h0m-2.5 0.5h0m1.5 0h0m1 0h0m-20.5 0.5h0m17.5 0h0m9.5 0h0m-10 0.5h0m0.5 0h0m1.5 0h0m-2.5 0.5h0m1 0h0m1 0h0m0.5 0h0m1.5 0h0m3 0h0m-8 0.5h0m1 0h0m2.5 0h0m-3.5 0.5h0m3 0h0m0.5 0h0m0.5 0h0m1 0h0m4 0h0m-8.5 0.5h0m-0.5 0.5h0m1 0h0m5.5 0h0m-7 0.5h0m1 0h0m1.5 0h0m1 0h0m2 0h0m1 0h0m1 0h0m-8 0.5h0m2 0h0m0.5 0h0m1 0h0m-17.5 0.5h0m14 0h0m1.5 0h0m1.5 0h0m-3 0.5h0m1.5 0h0m-1 0.5h0m1.5 0h0m3.5 0h0m-3.5 0.5h0m-2 0.5h0m5 0h0m-6 0.5h0m1 0h0m0.5 0h0m2 0h0m4 0h0m-7.5 0.5h0m2.5 0h0m0.5 0h0m9 0h0m-11 0.5h0m0.5 0h0m1.5 0h0m3.5 0h0m2 0h0m-8 0.5h0m1 0h0m-1 0.5h0m2 0h0m0.5 0h0m1.5 0h0m2 0h0m3.5 0.5h0m-30 0.5h0m19.5 0h0m2.5 0h0m-22.5 0.5h0m24.5 0h0m1 0h0m-4 0.5h0m1.5 0h0m3 0h0m1 0h0m5.5 0h0m-27.5 0.5h0m0.5 0h0m2 0h0m12.5 0h0m1.5 0h0m0.5 0h0m1 0h0m6 0h0m-29 0.5h0m7 0h0m0.5 0h0m1 0h0m11 0h0m1 0h0m2 0h0m0.5 0h0m1.5 0h0m0.5 0h0m-32.5 0.5h0m2.5 0h0m4.5 0h0m4 0h0m2 0h0m14.5 0h0m2 0h0m21 0h0m-52.5 0.5h0m1.5 0h0m1 0h0m1 0h0m1.5 0h0m2 0h0m11 0h0m13.5 0h0m1 0h0m1.5 0h0m3.5 0h0m-37 0.5h0m1 0h0m1.5 0h0m5 0h0m1.5 0h0m7 0h0m13 0h0m0.5 0h0m2 0h0m0.5 0h0m0.5 0h0m-31 0.5h0m4.5 0h0m4.5 0h0m0.5 0h0m19.5 0h0m1.5 0h0m3.5 0h0m-35 0.5h0m2.5 0h0m1 0h0m4.5 0h0m2 0h0m3 0h0m2.5 0h0m16 0h0m0.5 0h0m-28.5 0.5h0m2.5 0h0m0.5 0h0m23.5 0h0m-34.5 0.5h0m2.5 0h0m2.5 0h0m0.5 0h0m1.5 0h0m3 0h0m4.5 0h0m0.5 0h0m0.5 0h0m1 0h0m10 0h0m8 0h0m0.5 0h0m0.5 0h0m1.5 0h0m-36.5 0.5h0m0.5 0h0m1.5 0h0m0.5 0h0m1 0h0m0.5 0h0m2.5 0h0m0.5 0h0m3 0h0m0.5 0h0m1 0h0m1 0h0m0.5 0h0m4 0h0m15.5 0h0m0.5 0h0m1 0h0m-36 0.5h0m4.5 0h0m0.5 0h0m0.5 0h0m2 0h0m1 0h0m5 0h0m0.5 0h0m4 0h0m2 0h0m1 0h0m0.5 0h0m1.5 0h0m12 0h0m2 0h0m-36 0.5h0m2 0h0m6 0h0m1 0h0m0.5 0h0m1.5 0h0m2.5 0h0m0.5 0h0m2.5 0h0m2.5 0h0m13.5 0h0m9.5 0h0m-45.5 0.5h0m2.5 0h0m1.5 0h0m3 0h0m1 0h0m1.5 0h0m1.5 0h0m0.5 0h0m3 0h0m4.5 0h0m1 0h0m17.5 0h0m0.5 0h0m0.5 0h0m0.5 0h0m1 0h0m4.5 0h0m-43.5 0.5h0m3 0h0m0.5 0h0m2.5 0h0m1 0h0m1.5 0h0m0.5 0h0m3.5 0h0m1.5 0h0m1.5 0h0m0.5 0h0m1.5 0h0m1.5 0h0m0.5 0h0m5 0h0m10.5 0h0m2 0h0m1.5 0h0m0.5 0h0m-38 0.5h0m0.5 0h0m3 0h0m2.5 0h0m1 0h0m1 0h0m1 0h0m3.5 0h0m0.5 0h0m2 0h0m1.5 0h0m1.5 0h0m0.5 0h0m1 0h0m15 0h0m0.5 0h0m0.5 0h0m0.5 0h0m1 0h0m0.5 0h0m2 0h0m-41 0.5h0m1 0h0m0.5 0h0m0.5 0h0m1.5 0h0m1 0h0m3.5 0h0m1.5 0h0m2.5 0h0m2.5 0h0m0.5 0h0m1 0h0m1.5 0h0m1.5 0h0m2.5 0h0m1 0h0m15 0h0m-37 0.5h0m1 0h0m1 0h0m5 0h0m2 0h0m1 0h0m7 0h0m1 0h0m1 0h0m0.5 0h0m2.5 0h0m3 0h0m8 0h0m2.5 0h0m1.5 0h0m-36.5 0.5h0m1 0h0m0.5 0h0m3.5 0h0m3.5 0h0m3 0h0m2 0h0m1 0h0m1.5 0h0m1.5 0h0m0.5 0h0m1 0h0m1.5 0h0m15 0h0m1.5 0h0m2 0h0m-40.5 0.5h0m1.5 0h0m3 0h0m0.5 0h0m0.5 0h0m0.5 0h0m1 0h0m0.5 0h0m0.5 0h0m0.5 0h0m0.5 0h0m0.5 0h0m5 0h0m3 0h0m0.5 0h0m1 0h0m1 0h0m1.5 0h0m3.5 0h0m-24.5 0.5h0m3.5 0h0m1 0h0m0.5 0h0m0.5 0h0m5.5 0h0m0.5 0h0m1 0h0m0.5 0h0m1 0h0m1 0h0m5 0h0m3 0h0m2.5 0h0m-27.5 0.5h0m2 0h0m1 0h0m4 0h0m0.5 0h0m0.5 0h0m0.5 0h0m1 0h0m2 0h0m0.5 0h0m1.5 0h0m6 0h0m0.5 0h0m2.5 0h0m0.5 0h0m16.5 0h0m-41 0.5h0m3 0h0m4.5 0h0m1.5 0h0m0.5 0h0m2.5 0h0m2.5 0h0m4 0h0m2.5 0h0m3.5 0h0m0.5 0h0m2 0h0m1.5 0h0m13 0h0m-40 0.5h0m5 0h0m1 0h0m5 0h0m0.5 0h0m0.5 0h0m0.5 0h0m2 0h0m1.5 0h0m1.5 0h0m3 0h0m2.5 0h0m1.5 0h0m3 0h0m1 0h0m-32.5 0.5h0m4 0h0m0.5 0h0m2 0h0m0.5 0h0m2.5 0h0m4.5 0h0m7.5 0h0m1 0h0m1 0h0m1 0h0m0.5 0h0m1.5 0h0m0.5 0h0m-19.5 0.5h0m1 0h0m0.5 0h0m3.5 0h0m3 0h0m1 0h0m2.5 0h0m0.5 0h0m3.5 0h0m2 0h0m0.5 0h0m4 0h0m0.5 0h0m2 0h0m8.5 0h0m-34 0.5h0m4.5 0h0m2 0h0m3 0h0m2 0h0m1.5 0h0m1.5 0h0m1.5 0h0m0.5 0h0m3 0h0m1.5 0h0m4.5 0h0m3.5 0h0m9 0h0m-37 0.5h0m3 0h0m2 0h0m1 0h0m2 0h0m1.5 0h0m0.5 0h0m0.5 0h0m0.5 0h0m3.5 0h0m0.5 0h0m0.5 0h0m4 0h0m0.5 0h0m3 0h0m3.5 0h0m-24 0.5h0m0.5 0h0m4 0h0m0.5 0h0m1.5 0h0m0.5 0h0m3 0h0m2 0h0m1 0h0m2.5 0h0m6.5 0h0m-29 0.5h0m1.5 0h0m7.5 0h0m0.5 0h0m4 0h0m1.5 0h0m2 0h0m0.5 0h0m2.5 0h0m2 0h0m4 0h0m3 0h0m3 0h0m8 0h0m-36.5 0.5h0m2 0h0m1 0h0m3 0h0m3.5 0h0m2 0h0m1 0h0m0.5 0h0m2.5 0h0m0.5 0h0m1 0h0m0.5 0h0m4 0h0m1 0h0m6 0h0m-33 0.5h0m4.5 0h0m1 0h0m2 0h0m1 0h0m1 0h0m0.5 0h0m3.5 0h0m1.5 0h0m1.5 0h0m4.5 0h0m1 0h0m2.5 0h0m1 0h0m1 0h0m2.5 0h0m1.5 0h0m2.5 0h0m0.5 0h0m2 0h0m-32 0.5h0m3 0h0m0.5 0h0m0.5 0h0m5.5 0h0m1 0h0m0.5 0h0m4 0h0m1 0h0m1 0h0m0.5 0h0m8 0h0m0.5 0h0m2 0h0m1 0h0m1 0h0m1 0h0m-26.5 0.5h0m0.5 0h0m2 0h0m1.5 0h0m0.5 0h0m2 0h0m1 0h0m1 0h0m0.5 0h0m0.5 0h0m5 0h0m0.5 0h0m2.5 0h0m0.5 0h0m0.5 0h0m0.5 0h0m1 0h0m2.5 0h0m1.5 0h0m1.5 0h0m1 0h0m0.5 0h0m3 0h0m-31 0.5h0m1.5 0h0m2.5 0h0m3 0h0m1.5 0h0m0.5 0h0m8 0h0m1 0h0m8 0h0m-27.5 0.5h0m0.5 0h0m1 0h0m1.5 0h0m1.5 0h0m2.5 0h0m1 0h0m2.5 0h0m1.5 0h0m1 0h0m2 0h0m1 0h0m3 0h0m0.5 0h0m0.5 0h0m0.5 0h0m1.5 0h0m1.5 0h0m2 0h0m2 0h0m0.5 0h0m1 0h0m-40.5 0.5h0m10.5 0h0m1 0h0m3.5 0h0m0.5 0h0m6 0h0m1 0h0m2 0h0m2.5 0h0m1.5 0h0m0.5 0h0m1.5 0h0m0.5 0h0m1.5 0h0m3.5 0h0m0.5 0h0m2 0h0m1.5 0h0m-28.5 0.5h0m1 0h0m3.5 0h0m1.5 0h0m5.5 0h0m2.5 0h0m1.5 0h0m1 0h0m2.5 0h0m3 0h0m5.5 0h0m-28 0.5h0m2.5 0h0m3.5 0h0m3 0h0m1.5 0h0m9 0h0m1.5 0h0m3.5 0h0m2.5 0h0m1.5 0h0m-26.5 0.5h0m1 0h0m18 0h0m-14 0.5h0m16.5 0h0m1 0.5h0" stroke="#111" stroke-width="1.3" stroke-linecap="round" fill="none" opacity="1.0"/>
<path d="M383,421.6C379.2,416.8 382.7,398.6 383,392.6C383.3,386.6 383.7,387.4 385,385.6C386.3,383.8 388.8,382.3 391,381.6C393.2,380.9 396,381.1 398,381.6C400,382.1 401.8,382.8 403,384.6C404.2,386.4 404.6,386.4 405,392.6C405.4,398.8 409.2,416.8 405.5,421.6C401.8,426.4 386.8,426.4 383,421.6Z" fill="#dcdcdc" stroke="#555" stroke-width="0.6"/>
<path d="M383.9,419.9C380.5,415.6 383.6,399.2 383.9,393.8C384.2,388.4 384.5,389.1 385.7,387.5C386.9,385.9 389.2,384.5 391.1,383.9C393.1,383.3 395.6,383.5 397.4,383.9C399.2,384.4 400.8,385 401.9,386.6C402.9,388.2 403.3,388.2 403.7,393.8C404.1,399.4 407.4,415.6 404.1,419.9C400.8,424.3 387.3,424.3 383.9,419.9Z" fill="#cacaca" stroke="#555" stroke-width="0.6"/>
<path d="M384.8,418.2C381.8,414.3 384.5,399.8 384.8,395C385.1,390.2 385.3,390.9 386.4,389.4C387.5,387.9 389.5,386.7 391.2,386.2C392.9,385.7 395.2,385.8 396.8,386.2C398.4,386.6 399.9,387.1 400.8,388.6C401.7,390.1 402.1,390.1 402.4,395C402.7,399.9 405.7,414.3 402.8,418.2C399.9,422.1 387.8,422.1 384.8,418.2Z" fill="#b2b2b2" stroke="#555" stroke-width="0.6"/>
<path d="M385.7,416.5C383.1,413.1 385.5,400.4 385.7,396.2C385.9,392 386.2,392.6 387.1,391.3C388,390 389.8,389 391.3,388.5C392.8,388 394.8,388.1 396.2,388.5C397.6,388.9 398.9,389.3 399.7,390.6C400.5,391.9 400.8,391.9 401.1,396.2C401.4,400.5 404,413.1 401.4,416.5C398.9,419.9 388.3,419.9 385.7,416.5Z" fill="#969696" stroke="#555" stroke-width="0.6"/>
<path d="M386.6,414.8C384.4,411.9 386.4,401 386.6,397.4C386.8,393.8 387,394.3 387.8,393.2C388.6,392.1 390.1,391.2 391.4,390.8C392.7,390.4 394.4,390.5 395.6,390.8C396.8,391.1 397.9,391.5 398.6,392.6C399.3,393.7 399.6,393.7 399.8,397.4C400.1,401.1 402.3,411.9 400.1,414.8C397.9,417.7 388.9,417.7 386.6,414.8Z" fill="#777" stroke="#555" stroke-width="0.6"/>
<path d="M387.5,413.1C385.6,410.7 387.3,401.6 387.5,398.6C387.7,395.6 387.8,396 388.5,395.1C389.2,394.2 390.4,393.4 391.5,393.1C392.6,392.8 394,392.9 395,393.1C396,393.4 396.9,393.7 397.5,394.6C398.1,395.5 398.3,395.5 398.5,398.6C398.7,401.7 400.6,410.7 398.8,413.1C396.9,415.5 389.4,415.5 387.5,413.1Z" fill="#555" stroke="#555" stroke-width="0.6"/>
<path d="M388.4,411.4C386.9,409.5 388.3,402.2 388.4,399.8C388.5,397.4 388.7,397.7 389.2,397C389.7,396.3 390.7,395.7 391.6,395.4C392.5,395.1 393.6,395.2 394.4,395.4C395.2,395.6 395.9,395.9 396.4,396.6C396.9,397.3 397,397.3 397.2,399.8C397.4,402.3 398.9,409.5 397.4,411.4C395.9,413.3 389.9,413.3 388.4,411.4Z" fill="#3a3a3a" stroke="#555" stroke-width="0.6"/>
<path d="M389.3,409.7C388.2,408.3 389.2,402.8 389.3,401C389.4,399.2 389.5,399.5 389.9,398.9C390.3,398.4 391,397.9 391.7,397.7C392.4,397.5 393.2,397.6 393.8,397.7C394.4,397.9 395,398.1 395.3,398.6C395.6,399.2 395.8,399.1 395.9,401C396,402.9 397.1,408.3 396.1,409.7C395,411.2 390.4,411.2 389.3,409.7Z" fill="#2e2e2e" stroke="#555" stroke-width="0.6"/>
<path d="M442,354.6C442.4,351.6 442.8,349.6 444,347.6C445.2,345.6 447,343.7 449,342.6C451,341.5 453.8,340.9 456,341.1C458.2,341.3 460.5,342 462,343.6C463.5,345.2 464.7,347.8 465,350.6C465.3,353.4 464.6,356.4 464,360.6C463.4,364.8 462.3,370.9 461.5,375.6C460.7,380.3 460.1,383.8 459,388.6C457.9,393.4 456.3,400.1 455,404.6C453.7,409.1 452.3,413.4 451,415.6C449.7,417.8 448,418.4 447,417.6C446,416.8 445.7,414.3 445,410.6C444.3,406.9 443.5,400.6 443,395.6C442.5,390.6 442.2,385.6 442,380.6C441.8,375.6 441.5,369.9 441.5,365.6C441.5,361.3 441.6,357.6 442,354.6Z" fill="none" stroke="#666" stroke-width="0.6"/>
<path d="M444.2,355.8C444.5,353.4 444.9,351.8 445.8,350.2C446.7,348.6 448.2,347.1 449.8,346.2C451.4,345.3 453.7,344.9 455.4,345C457.1,345.1 459,345.7 460.2,347C461.4,348.3 462.3,350.3 462.6,352.6C462.9,354.9 462.3,357.3 461.8,360.6C461.3,363.9 460.5,368.9 459.8,372.6C459.1,376.3 458.7,379.1 457.8,383C456.9,386.9 455.7,392.2 454.6,395.8C453.5,399.4 452.5,402.9 451.4,404.6C450.3,406.3 449,406.9 448.2,406.2C447.4,405.5 447.1,403.5 446.6,400.6C446.1,397.7 445.4,392.6 445,388.6C444.6,384.6 444.4,380.6 444.2,376.6C444,372.6 443.8,368.1 443.8,364.6C443.8,361.1 443.9,358.2 444.2,355.8Z" fill="none" stroke="#666" stroke-width="0.6"/>
<path d="M446.4,357C446.6,355.2 446.9,354 447.6,352.8C448.3,351.6 449.4,350.4 450.6,349.8C451.8,349.2 453.5,348.8 454.8,348.9C456.1,349 457.5,349.5 458.4,350.4C459.3,351.4 460,352.9 460.2,354.6C460.4,356.3 460,358.1 459.6,360.6C459.2,363.1 458.6,366.8 458.1,369.6C457.6,372.4 457.2,374.5 456.6,377.4C456,380.3 455,384.3 454.2,387C453.4,389.7 452.6,392.3 451.8,393.6C451,394.9 450,395.3 449.4,394.8C448.8,394.3 448.6,392.8 448.2,390.6C447.8,388.4 447.3,384.6 447,381.6C446.7,378.6 446.5,375.6 446.4,372.6C446.2,369.6 446.1,366.2 446.1,363.6C446.1,361 446.1,358.8 446.4,357Z" fill="none" stroke="#666" stroke-width="0.6"/>
<path d="M448.6,358.2C448.8,357 448.9,356.2 449.4,355.4C449.9,354.6 450.6,353.8 451.4,353.4C452.2,353 453.3,352.7 454.2,352.8C455.1,352.9 456,353.2 456.6,353.8C457.2,354.4 457.7,355.5 457.8,356.6C457.9,357.7 457.6,358.9 457.4,360.6C457.2,362.3 456.7,364.7 456.4,366.6C456.1,368.5 455.8,369.9 455.4,371.8C455,373.7 454.3,376.4 453.8,378.2C453.3,380 452.7,381.7 452.2,382.6C451.7,383.5 451,383.7 450.6,383.4C450.2,383.1 450.1,382.1 449.8,380.6C449.5,379.1 449.2,376.6 449,374.6C448.8,372.6 448.7,370.6 448.6,368.6C448.5,366.6 448.4,364.3 448.4,362.6C448.4,360.9 448.4,359.4 448.6,358.2Z" fill="none" stroke="#666" stroke-width="0.6"/>
<ellipse transform="translate(453.5,353.1) rotate(-15)" rx="4.5" ry="2.4" fill="none" stroke="#666" stroke-width="0.6"/>
<path d="M405,383.1 C407,383.6 412,390.6 412,396.6 C412,404.6 404,412.6 402,421.6" fill="none" stroke="#666" stroke-width="0.6"/>
<path d="M405,383.7 C413,384.4 418,390.6 418,396.6 C418,404.6 410,412.6 408,421.6" fill="none" stroke="#666" stroke-width="0.6"/>
<path d="M405,384.3 C420,385.2 425,390.6 425,396.6 C425,404.6 417,412.6 415,421.6" fill="none" stroke="#666" stroke-width="0.6"/>
<path d="M405,384.9 C427,386 432,390.6 432,396.6 C432,404.6 424,412.6 422,421.6" fill="none" stroke="#666" stroke-width="0.6"/>
<path d="M405,385.5 C434,386.8 439,390.6 439,396.6 C439,404.6 431,412.6 429,421.6" fill="none" stroke="#666" stroke-width="0.6"/>
<path d="M405,382.6 C419,382.6 434,384.6 442,388.6" fill="none" stroke="#666" stroke-width="0.6"/>
<path d="M409,421.6 C424,412.6 437,410.6 445,414.6" fill="none" stroke="#666" stroke-width="0.6"/>
<line x1="270" y1="201.2" x2="270" y2="305.5" stroke="#555" stroke-width="0.9" />
<line x1="243" y1="265.8" x2="346.8" y2="265.8" stroke="#555" stroke-width="0.9" />
<rect x="244.6" y="203.4" width="15.36" height="6.9" fill="#fff" stroke="none" stroke-width="0" />
<rect x="329.84" y="203.4" width="15.36" height="6.9" fill="#fff" stroke="none" stroke-width="0" />
<rect x="244.6" y="297.2" width="15.36" height="7.2" fill="#fff" stroke="none" stroke-width="0" />
<rect x="329.84" y="297.2" width="15.36" height="7.2" fill="#fff" stroke="none" stroke-width="0" />
<text x="245.2" y="209.4" font-size="6.8" text-anchor="start" font-weight="bold" fill="#111" >1.22</text>
<text x="344.6" y="209.4" font-size="6.8" text-anchor="end" font-weight="bold" fill="#111" >6.41</text>
<text x="245.2" y="303.2" font-size="6.8" text-anchor="start" font-weight="bold" fill="#111" >87.6</text>
<text x="344.6" y="303.2" font-size="6.8" text-anchor="end" font-weight="bold" fill="#111" >4.81</text>
<line x1="240.8" y1="210.2" x2="243" y2="210.2" stroke="#444" stroke-width="0.8" />
<text x="239.4" y="212.1" font-size="4.9" text-anchor="end" font-weight="normal" fill="#1a1a1a" >1x10<tspan font-size="3" dy="-2">5</tspan></text>
<line x1="240.8" y1="233.7" x2="243" y2="233.7" stroke="#444" stroke-width="0.8" />
<text x="239.4" y="235.6" font-size="4.9" text-anchor="end" font-weight="normal" fill="#1a1a1a" >10000</text>
<line x1="240.8" y1="257.5" x2="243" y2="257.5" stroke="#444" stroke-width="0.8" />
<text x="239.4" y="259.4" font-size="4.9" text-anchor="end" font-weight="normal" fill="#1a1a1a" >1000</text>
<line x1="240.8" y1="282.5" x2="243" y2="282.5" stroke="#444" stroke-width="0.8" />
<text x="239.4" y="284.4" font-size="4.9" text-anchor="end" font-weight="normal" fill="#1a1a1a" >100</text>
<line x1="240.8" y1="293.7" x2="243" y2="293.7" stroke="#444" stroke-width="0.8" />
<text x="239.4" y="295.6" font-size="4.9" text-anchor="end" font-weight="normal" fill="#1a1a1a" >0</text>
<line x1="254.5" y1="305.5" x2="254.5" y2="307.7" stroke="#444" stroke-width="0.8" />
<text x="254.5" y="314" font-size="4.9" text-anchor="middle" font-weight="normal" fill="#1a1a1a" >0</text>
<line x1="265.4" y1="305.5" x2="265.4" y2="307.7" stroke="#444" stroke-width="0.8" />
<text x="265.4" y="314" font-size="4.9" text-anchor="middle" font-weight="normal" fill="#1a1a1a" >100</text>
<line x1="290.8" y1="305.5" x2="290.8" y2="307.7" stroke="#444" stroke-width="0.8" />
<text x="290.8" y="314" font-size="4.9" text-anchor="middle" font-weight="normal" fill="#1a1a1a" >1000</text>
<line x1="315" y1="305.5" x2="315" y2="307.7" stroke="#444" stroke-width="0.8" />
<text x="315" y="314" font-size="4.9" text-anchor="middle" font-weight="normal" fill="#1a1a1a" >10000</text>
<line x1="338" y1="305.5" x2="338" y2="307.7" stroke="#444" stroke-width="0.8" />
<text x="338" y="314" font-size="4.9" text-anchor="middle" font-weight="normal" fill="#1a1a1a" >1x10<tspan font-size="3" dy="-2">5</tspan></text>
<path d="M272.78,305.5v1.4M277.09,305.5v1.4M280.15,305.5v1.4M282.52,305.5v1.4M284.46,305.5v1.4M286.1,305.5v1.4M287.53,305.5v1.4M288.78,305.5v1.4M298.18,305.5v1.4M302.49,305.5v1.4M305.55,305.5v1.4M307.92,305.5v1.4M309.86,305.5v1.4M311.5,305.5v1.4M312.93,305.5v1.4M314.18,305.5v1.4M322.38,305.5v1.4M326.69,305.5v1.4M329.75,305.5v1.4M332.12,305.5v1.4M334.06,305.5v1.4M335.7,305.5v1.4M337.13,305.5v1.4M338.38,305.5v1.4M257.2,305.5v1.4M259.9,305.5v1.4M262.6,305.5v1.4" stroke="#555" stroke-width="0.6" fill="none"/>
<path d="M243,275.22h-1.4M243,270.95h-1.4M243,267.93h-1.4M243,265.58h-1.4M243,263.67h-1.4M243,262.05h-1.4M243,260.65h-1.4M243,259.41h-1.4M243,250.22h-1.4M243,245.95h-1.4M243,242.93h-1.4M243,240.58h-1.4M243,238.67h-1.4M243,237.05h-1.4M243,235.65h-1.4M243,234.41h-1.4M243,226.42h-1.4M243,222.15h-1.4M243,219.13h-1.4M243,216.78h-1.4M243,214.87h-1.4M243,213.25h-1.4M243,211.85h-1.4M243,210.61h-1.4M243,290.9h-1.4M243,288.1h-1.4M243,285.3h-1.4" stroke="#555" stroke-width="0.6" fill="none"/>
<line x1="405.8" y1="200.8" x2="405.8" y2="305.3" stroke="#555" stroke-width="0.9" />
<line x1="379" y1="265.7" x2="483.6" y2="265.7" stroke="#555" stroke-width="0.9" />
<rect x="380.6" y="203" width="19.4" height="6.9" fill="#fff" stroke="none" stroke-width="0" />
<rect x="466.64" y="203" width="15.36" height="6.9" fill="#fff" stroke="none" stroke-width="0" />
<rect x="380.6" y="297" width="15.36" height="7.2" fill="#fff" stroke="none" stroke-width="0" />
<rect x="470.69" y="297" width="11.31" height="7.2" fill="#fff" stroke="none" stroke-width="0" />
<text x="381.2" y="209" font-size="6.8" text-anchor="start" font-weight="bold" fill="#111" >0.233</text>
<text x="481.4" y="209" font-size="6.8" text-anchor="end" font-weight="bold" fill="#111" >2.81</text>
<text x="381.2" y="303" font-size="6.8" text-anchor="start" font-weight="bold" fill="#111" >92.3</text>
<text x="481.4" y="303" font-size="6.8" text-anchor="end" font-weight="bold" fill="#111" >4.7</text>
<line x1="376.8" y1="209.8" x2="379" y2="209.8" stroke="#444" stroke-width="0.8" />
<text x="375.4" y="211.7" font-size="4.9" text-anchor="end" font-weight="normal" fill="#1a1a1a" >1x10<tspan font-size="3" dy="-2">5</tspan></text>
<line x1="376.8" y1="233.3" x2="379" y2="233.3" stroke="#444" stroke-width="0.8" />
<text x="375.4" y="235.2" font-size="4.9" text-anchor="end" font-weight="normal" fill="#1a1a1a" >10000</text>
<line x1="376.8" y1="257.1" x2="379" y2="257.1" stroke="#444" stroke-width="0.8" />
<text x="375.4" y="259" font-size="4.9" text-anchor="end" font-weight="normal" fill="#1a1a1a" >1000</text>
<line x1="376.8" y1="282.1" x2="379" y2="282.1" stroke="#444" stroke-width="0.8" />
<text x="375.4" y="284" font-size="4.9" text-anchor="end" font-weight="normal" fill="#1a1a1a" >100</text>
<line x1="376.8" y1="293.3" x2="379" y2="293.3" stroke="#444" stroke-width="0.8" />
<text x="375.4" y="295.2" font-size="4.9" text-anchor="end" font-weight="normal" fill="#1a1a1a" >0</text>
<line x1="390.5" y1="305.3" x2="390.5" y2="307.5" stroke="#444" stroke-width="0.8" />
<text x="390.5" y="313.8" font-size="4.9" text-anchor="middle" font-weight="normal" fill="#1a1a1a" >0</text>
<line x1="401.4" y1="305.3" x2="401.4" y2="307.5" stroke="#444" stroke-width="0.8" />
<text x="401.4" y="313.8" font-size="4.9" text-anchor="middle" font-weight="normal" fill="#1a1a1a" >100</text>
<line x1="426.8" y1="305.3" x2="426.8" y2="307.5" stroke="#444" stroke-width="0.8" />
<text x="426.8" y="313.8" font-size="4.9" text-anchor="middle" font-weight="normal" fill="#1a1a1a" >1000</text>
<line x1="451" y1="305.3" x2="451" y2="307.5" stroke="#444" stroke-width="0.8" />
<text x="451" y="313.8" font-size="4.9" text-anchor="middle" font-weight="normal" fill="#1a1a1a" >10000</text>
<line x1="474" y1="305.3" x2="474" y2="307.5" stroke="#444" stroke-width="0.8" />
<text x="474" y="313.8" font-size="4.9" text-anchor="middle" font-weight="normal" fill="#1a1a1a" >1x10<tspan font-size="3" dy="-2">5</tspan></text>
<path d="M408.78,305.3v1.4M413.09,305.3v1.4M416.15,305.3v1.4M418.52,305.3v1.4M420.46,305.3v1.4M422.1,305.3v1.4M423.53,305.3v1.4M424.78,305.3v1.4M434.18,305.3v1.4M438.49,305.3v1.4M441.55,305.3v1.4M443.92,305.3v1.4M445.86,305.3v1.4M447.5,305.3v1.4M448.93,305.3v1.4M450.18,305.3v1.4M458.38,305.3v1.4M462.69,305.3v1.4M465.75,305.3v1.4M468.12,305.3v1.4M470.06,305.3v1.4M471.7,305.3v1.4M473.13,305.3v1.4M474.38,305.3v1.4M393.2,305.3v1.4M395.9,305.3v1.4M398.6,305.3v1.4" stroke="#555" stroke-width="0.6" fill="none"/>
<path d="M379,274.82h-1.4M379,270.55h-1.4M379,267.53h-1.4M379,265.18h-1.4M379,263.27h-1.4M379,261.65h-1.4M379,260.25h-1.4M379,259.01h-1.4M379,249.82h-1.4M379,245.55h-1.4M379,242.53h-1.4M379,240.18h-1.4M379,238.27h-1.4M379,236.65h-1.4M379,235.25h-1.4M379,234.01h-1.4M379,226.02h-1.4M379,221.75h-1.4M379,218.73h-1.4M379,216.38h-1.4M379,214.47h-1.4M379,212.85h-1.4M379,211.45h-1.4M379,210.21h-1.4M379,290.5h-1.4M379,287.7h-1.4M379,284.9h-1.4" stroke="#555" stroke-width="0.6" fill="none"/>
<line x1="269.5" y1="321.2" x2="269.5" y2="426.2" stroke="#555" stroke-width="0.9" />
<line x1="242.5" y1="386.1" x2="347.1" y2="386.1" stroke="#555" stroke-width="0.9" />
<rect x="244.1" y="323.4" width="15.36" height="6.9" fill="#fff" stroke="none" stroke-width="0" />
<rect x="330.14" y="323.4" width="15.36" height="6.9" fill="#fff" stroke="none" stroke-width="0" />
<rect x="244.1" y="417.9" width="15.36" height="7.2" fill="#fff" stroke="none" stroke-width="0" />
<rect x="330.14" y="417.9" width="15.36" height="7.2" fill="#fff" stroke="none" stroke-width="0" />
<text x="244.7" y="329.4" font-size="6.8" text-anchor="start" font-weight="bold" fill="#111" >1.44</text>
<text x="344.9" y="329.4" font-size="6.8" text-anchor="end" font-weight="bold" fill="#111" >91.4</text>
<text x="244.7" y="423.9" font-size="6.8" text-anchor="start" font-weight="bold" fill="#111" >4.46</text>
<text x="344.9" y="423.9" font-size="6.8" text-anchor="end" font-weight="bold" fill="#111" >2.72</text>
<line x1="240.3" y1="330.2" x2="242.5" y2="330.2" stroke="#444" stroke-width="0.8" />
<text x="238.9" y="332.1" font-size="4.9" text-anchor="end" font-weight="normal" fill="#1a1a1a" >1x10<tspan font-size="3" dy="-2">5</tspan></text>
<line x1="240.3" y1="353.7" x2="242.5" y2="353.7" stroke="#444" stroke-width="0.8" />
<text x="238.9" y="355.6" font-size="4.9" text-anchor="end" font-weight="normal" fill="#1a1a1a" >10000</text>
<line x1="240.3" y1="377.5" x2="242.5" y2="377.5" stroke="#444" stroke-width="0.8" />
<text x="238.9" y="379.4" font-size="4.9" text-anchor="end" font-weight="normal" fill="#1a1a1a" >1000</text>
<line x1="240.3" y1="402.5" x2="242.5" y2="402.5" stroke="#444" stroke-width="0.8" />
<text x="238.9" y="404.4" font-size="4.9" text-anchor="end" font-weight="normal" fill="#1a1a1a" >100</text>
<line x1="240.3" y1="413.7" x2="242.5" y2="413.7" stroke="#444" stroke-width="0.8" />
<text x="238.9" y="415.6" font-size="4.9" text-anchor="end" font-weight="normal" fill="#1a1a1a" >0</text>
<line x1="254" y1="426.2" x2="254" y2="428.4" stroke="#444" stroke-width="0.8" />
<text x="254" y="434.7" font-size="4.9" text-anchor="middle" font-weight="normal" fill="#1a1a1a" >0</text>
<line x1="264.9" y1="426.2" x2="264.9" y2="428.4" stroke="#444" stroke-width="0.8" />
<text x="264.9" y="434.7" font-size="4.9" text-anchor="middle" font-weight="normal" fill="#1a1a1a" >100</text>
<line x1="290.3" y1="426.2" x2="290.3" y2="428.4" stroke="#444" stroke-width="0.8" />
<text x="290.3" y="434.7" font-size="4.9" text-anchor="middle" font-weight="normal" fill="#1a1a1a" >1000</text>
<line x1="314.5" y1="426.2" x2="314.5" y2="428.4" stroke="#444" stroke-width="0.8" />
<text x="314.5" y="434.7" font-size="4.9" text-anchor="middle" font-weight="normal" fill="#1a1a1a" >10000</text>
<line x1="337.5" y1="426.2" x2="337.5" y2="428.4" stroke="#444" stroke-width="0.8" />
<text x="337.5" y="434.7" font-size="4.9" text-anchor="middle" font-weight="normal" fill="#1a1a1a" >1x10<tspan font-size="3" dy="-2">5</tspan></text>
<path d="M272.28,426.2v1.4M276.59,426.2v1.4M279.65,426.2v1.4M282.02,426.2v1.4M283.96,426.2v1.4M285.6,426.2v1.4M287.03,426.2v1.4M288.28,426.2v1.4M297.68,426.2v1.4M301.99,426.2v1.4M305.05,426.2v1.4M307.42,426.2v1.4M309.36,426.2v1.4M311,426.2v1.4M312.43,426.2v1.4M313.68,426.2v1.4M321.88,426.2v1.4M326.19,426.2v1.4M329.25,426.2v1.4M331.62,426.2v1.4M333.56,426.2v1.4M335.2,426.2v1.4M336.63,426.2v1.4M337.88,426.2v1.4M256.7,426.2v1.4M259.4,426.2v1.4M262.1,426.2v1.4" stroke="#555" stroke-width="0.6" fill="none"/>
<path d="M242.5,395.22h-1.4M242.5,390.95h-1.4M242.5,387.93h-1.4M242.5,385.58h-1.4M242.5,383.67h-1.4M242.5,382.05h-1.4M242.5,380.65h-1.4M242.5,379.41h-1.4M242.5,370.22h-1.4M242.5,365.95h-1.4M242.5,362.93h-1.4M242.5,360.58h-1.4M242.5,358.67h-1.4M242.5,357.05h-1.4M242.5,355.65h-1.4M242.5,354.41h-1.4M242.5,346.42h-1.4M242.5,342.15h-1.4M242.5,339.13h-1.4M242.5,336.78h-1.4M242.5,334.87h-1.4M242.5,333.25h-1.4M242.5,331.85h-1.4M242.5,330.61h-1.4M242.5,410.9h-1.4M242.5,408.1h-1.4M242.5,405.3h-1.4" stroke="#555" stroke-width="0.6" fill="none"/>
<line x1="405.2" y1="320.6" x2="405.2" y2="425.6" stroke="#555" stroke-width="0.9" />
<line x1="379" y1="385.2" x2="483.4" y2="385.2" stroke="#555" stroke-width="0.9" />
<rect x="380.6" y="322.8" width="19.4" height="6.9" fill="#fff" stroke="none" stroke-width="0" />
<rect x="466.44" y="322.8" width="15.36" height="6.9" fill="#fff" stroke="none" stroke-width="0" />
<rect x="380.6" y="417.3" width="9.29" height="7.2" fill="#fff" stroke="none" stroke-width="0" />
<rect x="466.44" y="417.3" width="15.36" height="7.2" fill="#fff" stroke="none" stroke-width="0" />
<text x="381.2" y="328.8" font-size="6.8" text-anchor="start" font-weight="bold" fill="#111" >0.743</text>
<text x="481.2" y="328.8" font-size="6.8" text-anchor="end" font-weight="bold" fill="#111" >8.03</text>
<text x="381.2" y="423.3" font-size="6.8" text-anchor="start" font-weight="bold" fill="#111" >78</text>
<text x="481.2" y="423.3" font-size="6.8" text-anchor="end" font-weight="bold" fill="#111" >13.2</text>
<line x1="376.8" y1="329.6" x2="379" y2="329.6" stroke="#444" stroke-width="0.8" />
<text x="375.4" y="331.5" font-size="4.9" text-anchor="end" font-weight="normal" fill="#1a1a1a" >1x10<tspan font-size="3" dy="-2">5</tspan></text>
<line x1="376.8" y1="353.1" x2="379" y2="353.1" stroke="#444" stroke-width="0.8" />
<text x="375.4" y="355" font-size="4.9" text-anchor="end" font-weight="normal" fill="#1a1a1a" >10000</text>
<line x1="376.8" y1="376.9" x2="379" y2="376.9" stroke="#444" stroke-width="0.8" />
<text x="375.4" y="378.8" font-size="4.9" text-anchor="end" font-weight="normal" fill="#1a1a1a" >1000</text>
<line x1="376.8" y1="401.9" x2="379" y2="401.9" stroke="#444" stroke-width="0.8" />
<text x="375.4" y="403.8" font-size="4.9" text-anchor="end" font-weight="normal" fill="#1a1a1a" >100</text>
<line x1="376.8" y1="413.1" x2="379" y2="413.1" stroke="#444" stroke-width="0.8" />
<text x="375.4" y="415" font-size="4.9" text-anchor="end" font-weight="normal" fill="#1a1a1a" >0</text>
<line x1="390.5" y1="425.6" x2="390.5" y2="427.8" stroke="#444" stroke-width="0.8" />
<text x="390.5" y="434.1" font-size="4.9" text-anchor="middle" font-weight="normal" fill="#1a1a1a" >0</text>
<line x1="401.4" y1="425.6" x2="401.4" y2="427.8" stroke="#444" stroke-width="0.8" />
<text x="401.4" y="434.1" font-size="4.9" text-anchor="middle" font-weight="normal" fill="#1a1a1a" >100</text>
<line x1="426.8" y1="425.6" x2="426.8" y2="427.8" stroke="#444" stroke-width="0.8" />
<text x="426.8" y="434.1" font-size="4.9" text-anchor="middle" font-weight="normal" fill="#1a1a1a" >1000</text>
<line x1="451" y1="425.6" x2="451" y2="427.8" stroke="#444" stroke-width="0.8" />
<text x="451" y="434.1" font-size="4.9" text-anchor="middle" font-weight="normal" fill="#1a1a1a" >10000</text>
<line x1="474" y1="425.6" x2="474" y2="427.8" stroke="#444" stroke-width="0.8" />
<text x="474" y="434.1" font-size="4.9" text-anchor="middle" font-weight="normal" fill="#1a1a1a" >1x10<tspan font-size="3" dy="-2">5</tspan></text>
<path d="M408.78,425.6v1.4M413.09,425.6v1.4M416.15,425.6v1.4M418.52,425.6v1.4M420.46,425.6v1.4M422.1,425.6v1.4M423.53,425.6v1.4M424.78,425.6v1.4M434.18,425.6v1.4M438.49,425.6v1.4M441.55,425.6v1.4M443.92,425.6v1.4M445.86,425.6v1.4M447.5,425.6v1.4M448.93,425.6v1.4M450.18,425.6v1.4M458.38,425.6v1.4M462.69,425.6v1.4M465.75,425.6v1.4M468.12,425.6v1.4M470.06,425.6v1.4M471.7,425.6v1.4M473.13,425.6v1.4M474.38,425.6v1.4M393.2,425.6v1.4M395.9,425.6v1.4M398.6,425.6v1.4" stroke="#555" stroke-width="0.6" fill="none"/>
<path d="M379,394.62h-1.4M379,390.35h-1.4M379,387.33h-1.4M379,384.98h-1.4M379,383.07h-1.4M379,381.45h-1.4M379,380.05h-1.4M379,378.81h-1.4M379,369.62h-1.4M379,365.35h-1.4M379,362.33h-1.4M379,359.98h-1.4M379,358.07h-1.4M379,356.45h-1.4M379,355.05h-1.4M379,353.81h-1.4M379,345.82h-1.4M379,341.55h-1.4M379,338.53h-1.4M379,336.18h-1.4M379,334.27h-1.4M379,332.65h-1.4M379,331.25h-1.4M379,330.01h-1.4M379,410.3h-1.4M379,407.5h-1.4M379,404.7h-1.4" stroke="#555" stroke-width="0.6" fill="none"/>
<line x1="222.7" y1="437.5" x2="222.7" y2="332.5" stroke="#111" stroke-width="1.4" />
<path d="M222.7,328.4 L220.1,333.4 L225.3,333.4 Z" fill="#111"/>
<line x1="222" y1="437.9" x2="352" y2="437.9" stroke="#111" stroke-width="1.4" />
<path d="M356.8,437.9 L351.8,435.3 L351.8,440.5 Z" fill="#111"/>
<text transform="translate(217.6,396.3) rotate(-90)" font-size="9.6" text-anchor="middle" fill="#1a1a1a">7AAD</text>
<text x="287" y="451" font-size="10" text-anchor="middle" font-weight="normal" fill="#1a1a1a" >Annexin V</text>
</svg>
</body></html>
